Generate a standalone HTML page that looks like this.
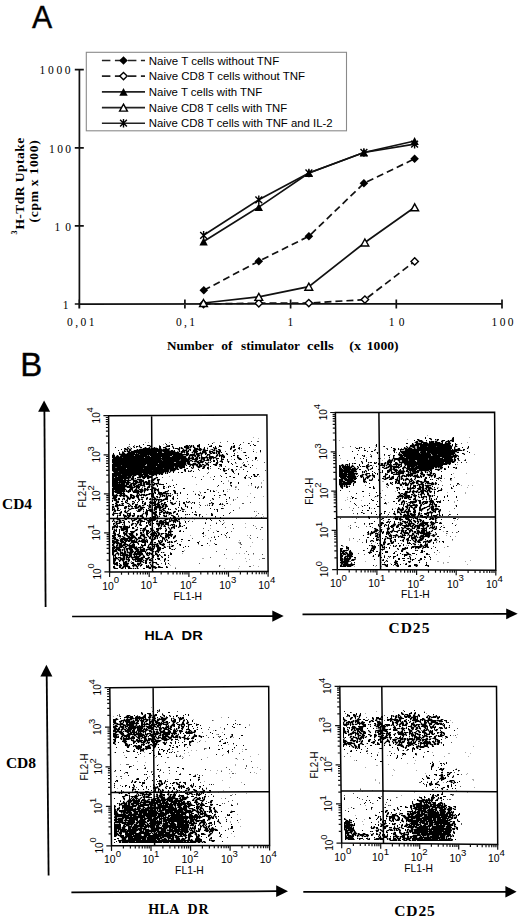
<!DOCTYPE html>
<html><head><meta charset="utf-8"><title>Figure</title>
<style>html,body{margin:0;padding:0;background:#fff;}svg{display:block;}</style></head>
<body><svg width="520" height="917" viewBox="0 0 520 917">
<rect width="520" height="917" fill="#fff"/>
<text x="32.1" y="28.3" font-size="32" font-family="'Liberation Sans', sans-serif" textLength="20.2" lengthAdjust="spacingAndGlyphs" stroke="#111" stroke-width="0.4">A</text>
<text x="20.2" y="376.0" font-size="32.5" font-family="'Liberation Sans', sans-serif" textLength="22.0" lengthAdjust="spacingAndGlyphs" stroke="#111" stroke-width="0.4">B</text>
<path d="M79.4 69.6V308.5M79.4 304.2L502.3 303.6M74.8 69.7H83.8M74.8 147.8H83.8M74.8 225.9H83.8M74.8 304.0H83.8M79.2 299.6V308.5M184.9 299.6V308.5M290.6 299.6V308.5M396.3 299.6V308.5M502.0 299.6V308.5" stroke="#111" stroke-width="1.7" fill="none"/>
<text x="70.6" y="74.0" font-size="11.5" font-family="'Liberation Serif', serif" text-anchor="end" textLength="31.0" lengthAdjust="spacing">1000</text>
<text x="71.0" y="152.8" font-size="11.5" font-family="'Liberation Serif', serif" text-anchor="end" textLength="22.0" lengthAdjust="spacing">100</text>
<text x="71.0" y="230.8" font-size="11.5" font-family="'Liberation Serif', serif" text-anchor="end" textLength="16.5" lengthAdjust="spacing">10</text>
<text x="68.4" y="308.6" font-size="11.5" font-family="'Liberation Serif', serif" text-anchor="end">1</text>
<text x="67.0" y="326.2" font-size="11.5" font-family="'Liberation Serif', serif" textLength="27.5" lengthAdjust="spacing">0,01</text>
<text x="175.9" y="326.2" font-size="11.5" font-family="'Liberation Serif', serif" textLength="19.0" lengthAdjust="spacing">0,1</text>
<text x="290.4" y="326.2" font-size="11.5" font-family="'Liberation Serif', serif" text-anchor="middle">1</text>
<text x="388.8" y="326.0" font-size="11.5" font-family="'Liberation Serif', serif" textLength="15.8" lengthAdjust="spacing">10</text>
<text x="491.5" y="326.0" font-size="11.5" font-family="'Liberation Serif', serif" textLength="22.0" lengthAdjust="spacing">100</text>
<text x="167.0" y="349.8" font-size="13" font-family="'Liberation Serif', serif" font-weight="bold" textLength="46.8" lengthAdjust="spacingAndGlyphs">Number</text>
<text x="221.2" y="349.8" font-size="13" font-family="'Liberation Serif', serif" font-weight="bold" textLength="11.3" lengthAdjust="spacingAndGlyphs">of</text>
<text x="241.0" y="349.8" font-size="13" font-family="'Liberation Serif', serif" font-weight="bold" textLength="59.0" lengthAdjust="spacingAndGlyphs">stimulator</text>
<text x="307.0" y="349.8" font-size="13" font-family="'Liberation Serif', serif" font-weight="bold" textLength="26.8" lengthAdjust="spacingAndGlyphs">cells</text>
<text x="349.2" y="349.8" font-size="13" font-family="'Liberation Serif', serif" font-weight="bold" textLength="11.8" lengthAdjust="spacingAndGlyphs">(x</text>
<text x="366.8" y="349.8" font-size="13" font-family="'Liberation Serif', serif" font-weight="bold" textLength="31.7" lengthAdjust="spacingAndGlyphs">1000)</text>
<text x="0" y="0" transform="translate(24.2 229.6) rotate(-90)" font-size="13.5" font-family="'Liberation Serif', serif" font-weight="bold" textLength="91.8" lengthAdjust="spacing">H-TdR Uptake</text>
<text x="0" y="0" transform="translate(17.0 234.6) rotate(-90)" font-size="8" font-family="'Liberation Serif', serif" font-weight="bold">3</text>
<text x="0" y="0" transform="translate(38.0 222.4) rotate(-90)" font-size="13.5" font-family="'Liberation Serif', serif" font-weight="bold" textLength="82.2" lengthAdjust="spacing">(cpm x 1000)</text>
<rect x="86.3" y="52.3" width="260.2" height="78.5" fill="none" stroke="#8a8a8a" stroke-width="1.1"/>
<path d="M101.9 60.5H145" stroke="#222" stroke-width="1.6" stroke-dasharray="8.5 4.5"/>
<path d="M123.5 56.2L127.8 60.5L123.5 64.8L119.2 60.5Z" fill="#000"/>
<text x="148.8" y="64.6" font-size="11.4" font-family="'Liberation Sans', sans-serif" textLength="130.4" lengthAdjust="spacingAndGlyphs">Naive T cells without TNF</text>
<path d="M101.9 76.1H145" stroke="#222" stroke-width="1.6" stroke-dasharray="8.5 4.5"/>
<path d="M123.5 72.4L127.2 76.1L123.5 79.8L119.8 76.1Z" fill="#fff" stroke="#000" stroke-width="1.4"/>
<text x="148.8" y="80.2" font-size="11.4" font-family="'Liberation Sans', sans-serif" textLength="156.2" lengthAdjust="spacingAndGlyphs">Naive CD8 T cells without TNF</text>
<path d="M101.9 91.9H145" stroke="#222" stroke-width="1.6"/>
<path d="M123.5 88.0L127.7 95.8L119.3 95.8Z" fill="#000"/>
<text x="148.8" y="96.0" font-size="11.4" font-family="'Liberation Sans', sans-serif" textLength="113.5" lengthAdjust="spacingAndGlyphs">Naive T cells with TNF</text>
<path d="M101.9 107.6H145" stroke="#222" stroke-width="1.6"/>
<path d="M123.5 104.1L127.4 111.1L119.6 111.1Z" fill="#fff" stroke="#000" stroke-width="1.4"/>
<text x="148.8" y="111.7" font-size="11.4" font-family="'Liberation Sans', sans-serif" textLength="138.4" lengthAdjust="spacingAndGlyphs">Naive CD8 T cells with TNF</text>
<path d="M101.9 123.2H145" stroke="#222" stroke-width="1.6"/>
<path d="M123.5 118.9V127.5M120.1 119.8L126.9 126.6M126.9 119.8L120.1 126.6" stroke="#000" stroke-width="1.4" fill="none"/>
<text x="148.8" y="127.3" font-size="11.4" font-family="'Liberation Sans', sans-serif" textLength="183.9" lengthAdjust="spacingAndGlyphs">Naive CD8 T cells with TNF and IL-2</text>
<path d="M203.5 304.0L258.8 303.2L308.8 303.1L364.9 299.6L414.7 261.4" stroke="#111" stroke-width="1.7" fill="none" stroke-dasharray="7 4"/>
<path d="M203.8 290.3L258.8 261.2L308.9 236.2L363.9 183.3L414.6 158.8" stroke="#111" stroke-width="1.7" fill="none" stroke-dasharray="7 4"/>
<path d="M203.5 303.0L258.8 296.9L308.8 286.7L364.9 242.5L414.7 207.3" stroke="#111" stroke-width="1.7" fill="none"/>
<path d="M203.6 241.5L258.8 207.1L308.9 173.0L363.9 152.5L414.6 141.0" stroke="#111" stroke-width="1.7" fill="none"/>
<path d="M203.6 235.3L258.8 199.8L308.9 173.0L363.9 152.5L414.6 144.2" stroke="#111" stroke-width="1.7" fill="none"/>
<path d="M203.5 300.3L207.2 304.0L203.5 307.7L199.8 304.0Z" fill="#fff" stroke="#000" stroke-width="1.4"/>
<path d="M258.8 299.5L262.5 303.2L258.8 306.9L255.1 303.2Z" fill="#fff" stroke="#000" stroke-width="1.4"/>
<path d="M308.8 299.4L312.5 303.1L308.8 306.8L305.1 303.1Z" fill="#fff" stroke="#000" stroke-width="1.4"/>
<path d="M364.9 295.9L368.6 299.6L364.9 303.3L361.2 299.6Z" fill="#fff" stroke="#000" stroke-width="1.4"/>
<path d="M414.7 257.7L418.4 261.4L414.7 265.1L411.0 261.4Z" fill="#fff" stroke="#000" stroke-width="1.4"/>
<path d="M203.8 286.0L208.1 290.3L203.8 294.6L199.5 290.3Z" fill="#000"/>
<path d="M258.8 256.9L263.1 261.2L258.8 265.5L254.5 261.2Z" fill="#000"/>
<path d="M308.9 231.9L313.2 236.2L308.9 240.5L304.6 236.2Z" fill="#000"/>
<path d="M363.9 179.0L368.2 183.3L363.9 187.6L359.6 183.3Z" fill="#000"/>
<path d="M414.6 154.5L418.9 158.8L414.6 163.1L410.3 158.8Z" fill="#000"/>
<path d="M203.5 299.5L207.4 306.5L199.6 306.5Z" fill="#fff" stroke="#000" stroke-width="1.4"/>
<path d="M258.8 293.4L262.7 300.4L254.9 300.4Z" fill="#fff" stroke="#000" stroke-width="1.4"/>
<path d="M308.8 283.2L312.7 290.2L304.9 290.2Z" fill="#fff" stroke="#000" stroke-width="1.4"/>
<path d="M364.9 239.0L368.8 246.0L361.0 246.0Z" fill="#fff" stroke="#000" stroke-width="1.4"/>
<path d="M414.7 203.8L418.6 210.8L410.8 210.8Z" fill="#fff" stroke="#000" stroke-width="1.4"/>
<path d="M203.6 237.6L207.8 245.4L199.4 245.4Z" fill="#000"/>
<path d="M258.8 203.2L263.0 211.0L254.6 211.0Z" fill="#000"/>
<path d="M308.9 169.1L313.1 176.9L304.7 176.9Z" fill="#000"/>
<path d="M363.9 148.6L368.1 156.4L359.7 156.4Z" fill="#000"/>
<path d="M414.6 137.1L418.8 144.9L410.4 144.9Z" fill="#000"/>
<path d="M203.6 231.0V239.6M200.2 231.9L207.0 238.7M207.0 231.9L200.2 238.7" stroke="#000" stroke-width="1.4" fill="none"/>
<path d="M258.8 195.5V204.1M255.4 196.4L262.2 203.2M262.2 196.4L255.4 203.2" stroke="#000" stroke-width="1.4" fill="none"/>
<path d="M308.9 168.7V177.3M305.5 169.6L312.3 176.4M312.3 169.6L305.5 176.4" stroke="#000" stroke-width="1.4" fill="none"/>
<path d="M363.9 148.2V156.8M360.5 149.1L367.3 155.9M367.3 149.1L360.5 155.9" stroke="#000" stroke-width="1.4" fill="none"/>
<path d="M414.6 139.9V148.5M411.2 140.8L418.0 147.6M418.0 140.8L411.2 147.6" stroke="#000" stroke-width="1.4" fill="none"/>
<text x="102.2" y="589.5" font-size="10.4" font-family="'Liberation Sans', sans-serif">10</text>
<text x="113.8" y="583.2" font-size="9.6" font-family="'Liberation Sans', sans-serif">0</text>
<text x="140.6" y="589.4" font-size="10.4" font-family="'Liberation Sans', sans-serif">10</text>
<text x="152.2" y="583.1" font-size="9.6" font-family="'Liberation Sans', sans-serif">1</text>
<text x="179.9" y="589.3" font-size="10.4" font-family="'Liberation Sans', sans-serif">10</text>
<text x="191.5" y="583.0" font-size="9.6" font-family="'Liberation Sans', sans-serif">2</text>
<text x="219.3" y="589.2" font-size="10.4" font-family="'Liberation Sans', sans-serif">10</text>
<text x="230.9" y="582.9" font-size="9.6" font-family="'Liberation Sans', sans-serif">3</text>
<text x="258.3" y="589.1" font-size="10.4" font-family="'Liberation Sans', sans-serif">10</text>
<text x="269.9" y="582.8" font-size="9.6" font-family="'Liberation Sans', sans-serif">4</text>
<text x="0" y="0" transform="translate(100.7 579.6) rotate(-90)" font-size="10.0" font-family="'Liberation Sans', sans-serif">10</text>
<text x="0" y="0" transform="translate(94.4 568.6) rotate(-90)" font-size="9.4" font-family="'Liberation Sans', sans-serif">0</text>
<text x="0" y="0" transform="translate(100.4 540.5) rotate(-90)" font-size="10.0" font-family="'Liberation Sans', sans-serif">10</text>
<text x="0" y="0" transform="translate(94.1 529.5) rotate(-90)" font-size="9.4" font-family="'Liberation Sans', sans-serif">1</text>
<text x="0" y="0" transform="translate(100.2 501.5) rotate(-90)" font-size="10.0" font-family="'Liberation Sans', sans-serif">10</text>
<text x="0" y="0" transform="translate(93.9 490.5) rotate(-90)" font-size="9.4" font-family="'Liberation Sans', sans-serif">2</text>
<text x="0" y="0" transform="translate(99.9 462.4) rotate(-90)" font-size="10.0" font-family="'Liberation Sans', sans-serif">10</text>
<text x="0" y="0" transform="translate(93.6 451.4) rotate(-90)" font-size="9.4" font-family="'Liberation Sans', sans-serif">3</text>
<text x="0" y="0" transform="translate(99.7 423.4) rotate(-90)" font-size="10.0" font-family="'Liberation Sans', sans-serif">10</text>
<text x="0" y="0" transform="translate(93.4 412.4) rotate(-90)" font-size="9.4" font-family="'Liberation Sans', sans-serif">4</text>
<text x="0" y="0" transform="translate(85.9 507.4) rotate(-90)" font-size="10.6" font-family="'Liberation Sans', sans-serif" textLength="26.8" lengthAdjust="spacingAndGlyphs">FL2-H</text>
<text x="173.4" y="600.2" font-size="10.5" font-family="'Liberation Sans', sans-serif" textLength="28.7" lengthAdjust="spacingAndGlyphs">FL1-H</text>
<text x="329.9" y="587.2" font-size="10.4" font-family="'Liberation Sans', sans-serif">10</text>
<text x="341.5" y="580.9" font-size="9.6" font-family="'Liberation Sans', sans-serif">0</text>
<text x="368.3" y="587.4" font-size="10.4" font-family="'Liberation Sans', sans-serif">10</text>
<text x="379.9" y="581.1" font-size="9.6" font-family="'Liberation Sans', sans-serif">1</text>
<text x="407.6" y="587.5" font-size="10.4" font-family="'Liberation Sans', sans-serif">10</text>
<text x="419.2" y="581.2" font-size="9.6" font-family="'Liberation Sans', sans-serif">2</text>
<text x="447.0" y="587.7" font-size="10.4" font-family="'Liberation Sans', sans-serif">10</text>
<text x="458.6" y="581.4" font-size="9.6" font-family="'Liberation Sans', sans-serif">3</text>
<text x="486.0" y="587.8" font-size="10.4" font-family="'Liberation Sans', sans-serif">10</text>
<text x="497.6" y="581.5" font-size="9.6" font-family="'Liberation Sans', sans-serif">4</text>
<text x="0" y="0" transform="translate(328.4 577.3) rotate(-90)" font-size="10.0" font-family="'Liberation Sans', sans-serif">10</text>
<text x="0" y="0" transform="translate(322.1 566.3) rotate(-90)" font-size="9.4" font-family="'Liberation Sans', sans-serif">0</text>
<text x="0" y="0" transform="translate(327.9 538) rotate(-90)" font-size="10.0" font-family="'Liberation Sans', sans-serif">10</text>
<text x="0" y="0" transform="translate(321.6 527) rotate(-90)" font-size="9.4" font-family="'Liberation Sans', sans-serif">1</text>
<text x="0" y="0" transform="translate(327.5 498.8) rotate(-90)" font-size="10.0" font-family="'Liberation Sans', sans-serif">10</text>
<text x="0" y="0" transform="translate(321.2 487.8) rotate(-90)" font-size="9.4" font-family="'Liberation Sans', sans-serif">2</text>
<text x="0" y="0" transform="translate(327 459.5) rotate(-90)" font-size="10.0" font-family="'Liberation Sans', sans-serif">10</text>
<text x="0" y="0" transform="translate(320.7 448.5) rotate(-90)" font-size="9.4" font-family="'Liberation Sans', sans-serif">3</text>
<text x="0" y="0" transform="translate(326.5 420.2) rotate(-90)" font-size="10.0" font-family="'Liberation Sans', sans-serif">10</text>
<text x="0" y="0" transform="translate(320.2 409.2) rotate(-90)" font-size="9.4" font-family="'Liberation Sans', sans-serif">4</text>
<text x="0" y="0" transform="translate(313.2 504.7) rotate(-90)" font-size="10.6" font-family="'Liberation Sans', sans-serif" textLength="26.8" lengthAdjust="spacingAndGlyphs">FL2-H</text>
<text x="401.1" y="598.4" font-size="10.5" font-family="'Liberation Sans', sans-serif" textLength="28.7" lengthAdjust="spacingAndGlyphs">FL1-H</text>
<text x="104.1" y="863.4" font-size="10.4" font-family="'Liberation Sans', sans-serif">10</text>
<text x="115.7" y="857.1" font-size="9.6" font-family="'Liberation Sans', sans-serif">0</text>
<text x="142.4" y="863.3" font-size="10.4" font-family="'Liberation Sans', sans-serif">10</text>
<text x="154.0" y="857.0" font-size="9.6" font-family="'Liberation Sans', sans-serif">1</text>
<text x="181.6" y="863.2" font-size="10.4" font-family="'Liberation Sans', sans-serif">10</text>
<text x="193.2" y="856.9" font-size="9.6" font-family="'Liberation Sans', sans-serif">2</text>
<text x="220.9" y="863.1" font-size="10.4" font-family="'Liberation Sans', sans-serif">10</text>
<text x="232.5" y="856.8" font-size="9.6" font-family="'Liberation Sans', sans-serif">3</text>
<text x="259.8" y="863.0" font-size="10.4" font-family="'Liberation Sans', sans-serif">10</text>
<text x="271.4" y="856.7" font-size="9.6" font-family="'Liberation Sans', sans-serif">4</text>
<text x="0" y="0" transform="translate(102.6 853.5) rotate(-90)" font-size="10.0" font-family="'Liberation Sans', sans-serif">10</text>
<text x="0" y="0" transform="translate(96.3 842.5) rotate(-90)" font-size="9.4" font-family="'Liberation Sans', sans-serif">0</text>
<text x="0" y="0" transform="translate(102.2 814) rotate(-90)" font-size="10.0" font-family="'Liberation Sans', sans-serif">10</text>
<text x="0" y="0" transform="translate(95.9 803) rotate(-90)" font-size="9.4" font-family="'Liberation Sans', sans-serif">1</text>
<text x="0" y="0" transform="translate(101.8 774.4) rotate(-90)" font-size="10.0" font-family="'Liberation Sans', sans-serif">10</text>
<text x="0" y="0" transform="translate(95.5 763.4) rotate(-90)" font-size="9.4" font-family="'Liberation Sans', sans-serif">2</text>
<text x="0" y="0" transform="translate(101.3 734.9) rotate(-90)" font-size="10.0" font-family="'Liberation Sans', sans-serif">10</text>
<text x="0" y="0" transform="translate(95 723.9) rotate(-90)" font-size="9.4" font-family="'Liberation Sans', sans-serif">3</text>
<text x="0" y="0" transform="translate(100.9 695.4) rotate(-90)" font-size="10.0" font-family="'Liberation Sans', sans-serif">10</text>
<text x="0" y="0" transform="translate(94.6 684.4) rotate(-90)" font-size="9.4" font-family="'Liberation Sans', sans-serif">4</text>
<text x="0" y="0" transform="translate(87.5 780.4) rotate(-90)" font-size="10.6" font-family="'Liberation Sans', sans-serif" textLength="26.8" lengthAdjust="spacingAndGlyphs">FL2-H</text>
<text x="175.1" y="874.1" font-size="10.5" font-family="'Liberation Sans', sans-serif" textLength="28.7" lengthAdjust="spacingAndGlyphs">FL1-H</text>
<text x="334.3" y="860.7" font-size="10.4" font-family="'Liberation Sans', sans-serif">10</text>
<text x="345.9" y="854.4" font-size="9.6" font-family="'Liberation Sans', sans-serif">0</text>
<text x="372.1" y="861.1" font-size="10.4" font-family="'Liberation Sans', sans-serif">10</text>
<text x="383.7" y="854.8" font-size="9.6" font-family="'Liberation Sans', sans-serif">1</text>
<text x="410.7" y="861.4" font-size="10.4" font-family="'Liberation Sans', sans-serif">10</text>
<text x="422.3" y="855.1" font-size="9.6" font-family="'Liberation Sans', sans-serif">2</text>
<text x="449.5" y="861.8" font-size="10.4" font-family="'Liberation Sans', sans-serif">10</text>
<text x="461.1" y="855.5" font-size="9.6" font-family="'Liberation Sans', sans-serif">3</text>
<text x="487.9" y="862.1" font-size="10.4" font-family="'Liberation Sans', sans-serif">10</text>
<text x="499.5" y="855.8" font-size="9.6" font-family="'Liberation Sans', sans-serif">4</text>
<text x="0" y="0" transform="translate(332.8 850.8) rotate(-90)" font-size="10.0" font-family="'Liberation Sans', sans-serif">10</text>
<text x="0" y="0" transform="translate(326.5 839.8) rotate(-90)" font-size="9.4" font-family="'Liberation Sans', sans-serif">0</text>
<text x="0" y="0" transform="translate(332.3 811.6) rotate(-90)" font-size="10.0" font-family="'Liberation Sans', sans-serif">10</text>
<text x="0" y="0" transform="translate(326 800.6) rotate(-90)" font-size="9.4" font-family="'Liberation Sans', sans-serif">1</text>
<text x="0" y="0" transform="translate(331.9 772.4) rotate(-90)" font-size="10.0" font-family="'Liberation Sans', sans-serif">10</text>
<text x="0" y="0" transform="translate(325.6 761.4) rotate(-90)" font-size="9.4" font-family="'Liberation Sans', sans-serif">2</text>
<text x="0" y="0" transform="translate(331.4 733.3) rotate(-90)" font-size="10.0" font-family="'Liberation Sans', sans-serif">10</text>
<text x="0" y="0" transform="translate(325.1 722.3) rotate(-90)" font-size="9.4" font-family="'Liberation Sans', sans-serif">3</text>
<text x="0" y="0" transform="translate(330.9 694.1) rotate(-90)" font-size="10.0" font-family="'Liberation Sans', sans-serif">10</text>
<text x="0" y="0" transform="translate(324.6 683.1) rotate(-90)" font-size="9.4" font-family="'Liberation Sans', sans-serif">4</text>
<text x="0" y="0" transform="translate(317.6 778.4) rotate(-90)" font-size="10.6" font-family="'Liberation Sans', sans-serif" textLength="26.8" lengthAdjust="spacingAndGlyphs">FL2-H</text>
<text x="404.2" y="872.3" font-size="10.5" font-family="'Liberation Sans', sans-serif" textLength="28.7" lengthAdjust="spacingAndGlyphs">FL1-H</text>
<path d="M44.4 410.8L45.6 607" stroke="#000" stroke-width="1.8"/>
<path d="M44.1 400.5L50.1 411.8L38.1 411.8Z" fill="#000"/>
<path d="M46.7 675.4L48.6 875.5" stroke="#000" stroke-width="1.8"/>
<path d="M46.4 664.8L52.4 676.4L40.4 676.4Z" fill="#000"/>
<path d="M72.1 616.5L273.3 616.1" stroke="#000" stroke-width="1.7"/>
<path d="M283.7 616.1L272.3 610.5L272.3 621.7Z" fill="#000"/>
<path d="M302.5 614.4L507.2 613.8" stroke="#000" stroke-width="1.7"/>
<path d="M517.7 613.8L506.2 608.4L506.2 619.2Z" fill="#000"/>
<path d="M71.4 892.4L277.2 891.2" stroke="#000" stroke-width="1.7"/>
<path d="M288 891.2L276.2 885.3L276.2 897.1Z" fill="#000"/>
<path d="M303.3 891.8L506.4 891.8" stroke="#000" stroke-width="1.7"/>
<path d="M516.6 891.8L505.4 886L505.4 897.6Z" fill="#000"/>
<text x="2.0" y="508.7" font-size="15.5" font-family="'Liberation Serif', serif" font-weight="bold" textLength="30.0" lengthAdjust="spacingAndGlyphs">CD4</text>
<text x="5.9" y="767.9" font-size="15.5" font-family="'Liberation Serif', serif" font-weight="bold" textLength="30.2" lengthAdjust="spacingAndGlyphs">CD8</text>
<text x="144.6" y="640.0" font-size="13.2" font-family="'Liberation Sans', sans-serif" font-weight="bold" textLength="29.0" lengthAdjust="spacingAndGlyphs">HLA</text>
<text x="181.6" y="640.0" font-size="13.2" font-family="'Liberation Sans', sans-serif" font-weight="bold" textLength="21.2" lengthAdjust="spacingAndGlyphs">DR</text>
<text x="388.4" y="632.6" font-size="15.5" font-family="'Liberation Serif', serif" font-weight="bold" textLength="41.0" lengthAdjust="spacing">CD25</text>
<text x="148.2" y="913.8" font-size="14" font-family="'Liberation Serif', serif" font-weight="bold" textLength="31.2" lengthAdjust="spacing">HLA</text>
<text x="187.4" y="913.8" font-size="14" font-family="'Liberation Serif', serif" font-weight="bold" textLength="21.3" lengthAdjust="spacing">DR</text>
<text x="394.2" y="915.8" font-size="15.5" font-family="'Liberation Serif', serif" font-weight="bold" textLength="40.6" lengthAdjust="spacing">CD25</text>
<path d="M425 437h1v1h-1zM453 437h1v1h-1zM425 438h1v1h-1zM429 438h2v1h-2zM452 438h2v1h-2zM417 439h2v1h-2zM431 439h1v1h-1zM435 439h1v1h-1zM437 439h2v1h-2zM452 439h2v1h-2zM414 440h1v1h-1zM418 440h4v1h-4zM426 440h1v1h-1zM437 440h1v1h-1zM442 440h3v1h-3zM448 440h1v1h-1zM450 440h4v1h-4zM416 441h2v1h-2zM419 441h4v1h-4zM429 441h1v1h-1zM431 441h3v1h-3zM435 441h2v1h-2zM441 441h2v1h-2zM446 441h4v1h-4zM452 441h2v1h-2zM151 442h1v1h-1zM415 442h3v1h-3zM421 442h6v1h-6zM429 442h5v1h-5zM435 442h5v1h-5zM442 442h1v1h-1zM445 442h1v1h-1zM448 442h2v1h-2zM212 443h1v1h-1zM233 443h1v1h-1zM248 443h1v1h-1zM406 443h2v1h-2zM412 443h1v1h-1zM416 443h6v1h-6zM423 443h5v1h-5zM429 443h14v1h-14zM445 443h6v1h-6zM455 443h1v1h-1zM143 444h1v1h-1zM166 444h1v1h-1zM171 444h2v1h-2zM199 444h1v1h-1zM208 444h1v1h-1zM240 444h1v1h-1zM253 444h1v1h-1zM376 444h1v1h-1zM412 444h2v1h-2zM415 444h35v1h-35zM452 444h1v1h-1zM455 444h2v1h-2zM139 445h1v1h-1zM147 445h3v1h-3zM151 445h1v1h-1zM169 445h1v1h-1zM186 445h2v1h-2zM189 445h1v1h-1zM191 445h1v1h-1zM193 445h1v1h-1zM197 445h3v1h-3zM211 445h1v1h-1zM219 445h1v1h-1zM234 445h1v1h-1zM250 445h1v1h-1zM254 445h2v1h-2zM376 445h1v1h-1zM410 445h9v1h-9zM420 445h31v1h-31zM452 445h1v1h-1zM455 445h1v1h-1zM133 446h1v1h-1zM136 446h2v1h-2zM139 446h1v1h-1zM150 446h2v1h-2zM159 446h2v1h-2zM166 446h4v1h-4zM172 446h1v1h-1zM184 446h5v1h-5zM190 446h2v1h-2zM193 446h1v1h-1zM197 446h3v1h-3zM209 446h3v1h-3zM215 446h1v1h-1zM219 446h3v1h-3zM231 446h1v1h-1zM233 446h2v1h-2zM376 446h1v1h-1zM384 446h1v1h-1zM406 446h1v1h-1zM410 446h5v1h-5zM417 446h2v1h-2zM420 446h7v1h-7zM428 446h8v1h-8zM437 446h15v1h-15zM455 446h2v1h-2zM468 446h1v1h-1zM115 447h1v1h-1zM127 447h1v1h-1zM134 447h1v1h-1zM140 447h2v1h-2zM145 447h1v1h-1zM149 447h1v1h-1zM154 447h1v1h-1zM159 447h2v1h-2zM163 447h3v1h-3zM173 447h1v1h-1zM179 447h1v1h-1zM181 447h1v1h-1zM184 447h5v1h-5zM190 447h1v1h-1zM193 447h2v1h-2zM199 447h1v1h-1zM204 447h1v1h-1zM213 447h1v1h-1zM215 447h1v1h-1zM231 447h1v1h-1zM233 447h2v1h-2zM239 447h1v1h-1zM359 447h1v1h-1zM361 447h1v1h-1zM369 447h1v1h-1zM391 447h1v1h-1zM404 447h1v1h-1zM407 447h1v1h-1zM409 447h1v1h-1zM413 447h2v1h-2zM417 447h35v1h-35zM454 447h1v1h-1zM462 447h1v1h-1zM468 447h1v1h-1zM124 448h2v1h-2zM128 448h1v1h-1zM131 448h1v1h-1zM143 448h7v1h-7zM151 448h7v1h-7zM159 448h2v1h-2zM165 448h2v1h-2zM169 448h1v1h-1zM173 448h1v1h-1zM175 448h3v1h-3zM179 448h1v1h-1zM181 448h2v1h-2zM186 448h3v1h-3zM194 448h4v1h-4zM199 448h2v1h-2zM204 448h1v1h-1zM207 448h1v1h-1zM214 448h3v1h-3zM230 448h2v1h-2zM238 448h2v1h-2zM356 448h2v1h-2zM359 448h1v1h-1zM364 448h1v1h-1zM393 448h2v1h-2zM398 448h1v1h-1zM404 448h3v1h-3zM408 448h4v1h-4zM414 448h1v1h-1zM417 448h35v1h-35zM454 448h1v1h-1zM458 448h2v1h-2zM467 448h1v1h-1zM121 449h1v1h-1zM125 449h3v1h-3zM129 449h2v1h-2zM137 449h1v1h-1zM139 449h23v1h-23zM163 449h6v1h-6zM178 449h2v1h-2zM183 449h1v1h-1zM186 449h1v1h-1zM189 449h2v1h-2zM194 449h8v1h-8zM203 449h2v1h-2zM212 449h1v1h-1zM214 449h1v1h-1zM218 449h2v1h-2zM230 449h1v1h-1zM235 449h1v1h-1zM375 449h1v1h-1zM387 449h1v1h-1zM394 449h2v1h-2zM398 449h1v1h-1zM400 449h4v1h-4zM405 449h46v1h-46zM452 449h1v1h-1zM454 449h6v1h-6zM463 449h2v1h-2zM118 450h1v1h-1zM124 450h1v1h-1zM127 450h1v1h-1zM129 450h2v1h-2zM134 450h35v1h-35zM171 450h2v1h-2zM174 450h1v1h-1zM179 450h1v1h-1zM182 450h5v1h-5zM188 450h1v1h-1zM190 450h1v1h-1zM193 450h4v1h-4zM199 450h2v1h-2zM203 450h5v1h-5zM213 450h2v1h-2zM216 450h1v1h-1zM219 450h2v1h-2zM233 450h2v1h-2zM260 450h1v1h-1zM358 450h1v1h-1zM364 450h2v1h-2zM374 450h1v1h-1zM393 450h2v1h-2zM400 450h1v1h-1zM405 450h57v1h-57zM463 450h1v1h-1zM124 451h2v1h-2zM127 451h3v1h-3zM131 451h31v1h-31zM163 451h12v1h-12zM179 451h1v1h-1zM181 451h4v1h-4zM186 451h3v1h-3zM193 451h5v1h-5zM202 451h4v1h-4zM209 451h4v1h-4zM216 451h5v1h-5zM233 451h1v1h-1zM253 451h1v1h-1zM260 451h1v1h-1zM352 451h1v1h-1zM367 451h1v1h-1zM371 451h2v1h-2zM394 451h1v1h-1zM400 451h19v1h-19zM421 451h5v1h-5zM427 451h30v1h-30zM467 451h1v1h-1zM119 452h1v1h-1zM122 452h2v1h-2zM128 452h29v1h-29zM158 452h4v1h-4zM164 452h15v1h-15zM181 452h2v1h-2zM184 452h1v1h-1zM186 452h2v1h-2zM192 452h1v1h-1zM194 452h3v1h-3zM200 452h1v1h-1zM202 452h4v1h-4zM209 452h2v1h-2zM212 452h3v1h-3zM216 452h1v1h-1zM218 452h2v1h-2zM221 452h1v1h-1zM244 452h2v1h-2zM377 452h1v1h-1zM394 452h1v1h-1zM399 452h1v1h-1zM401 452h18v1h-18zM420 452h6v1h-6zM427 452h28v1h-28zM457 452h2v1h-2zM469 452h1v1h-1zM113 453h1v1h-1zM119 453h1v1h-1zM122 453h3v1h-3zM127 453h8v1h-8zM136 453h1v1h-1zM138 453h44v1h-44zM186 453h3v1h-3zM194 453h1v1h-1zM196 453h7v1h-7zM205 453h2v1h-2zM210 453h2v1h-2zM213 453h2v1h-2zM216 453h1v1h-1zM218 453h2v1h-2zM226 453h1v1h-1zM234 453h1v1h-1zM377 453h1v1h-1zM399 453h1v1h-1zM402 453h18v1h-18zM421 453h9v1h-9zM431 453h24v1h-24zM462 453h2v1h-2zM113 454h1v1h-1zM119 454h20v1h-20zM140 454h49v1h-49zM190 454h5v1h-5zM196 454h3v1h-3zM201 454h1v1h-1zM205 454h1v1h-1zM207 454h3v1h-3zM217 454h1v1h-1zM219 454h1v1h-1zM222 454h1v1h-1zM227 454h1v1h-1zM357 454h1v1h-1zM384 454h1v1h-1zM398 454h4v1h-4zM403 454h28v1h-28zM432 454h5v1h-5zM438 454h16v1h-16zM455 454h1v1h-1zM464 454h1v1h-1zM112 455h3v1h-3zM117 455h1v1h-1zM121 455h13v1h-13zM135 455h12v1h-12zM148 455h1v1h-1zM150 455h22v1h-22zM173 455h10v1h-10zM186 455h2v1h-2zM189 455h7v1h-7zM197 455h3v1h-3zM201 455h1v1h-1zM207 455h1v1h-1zM209 455h1v1h-1zM216 455h2v1h-2zM219 455h5v1h-5zM233 455h2v1h-2zM237 455h1v1h-1zM245 455h1v1h-1zM339 455h1v1h-1zM362 455h1v1h-1zM364 455h1v1h-1zM388 455h2v1h-2zM393 455h2v1h-2zM399 455h32v1h-32zM433 455h18v1h-18zM453 455h5v1h-5zM112 456h3v1h-3zM116 456h3v1h-3zM120 456h30v1h-30zM151 456h19v1h-19zM172 456h14v1h-14zM189 456h1v1h-1zM192 456h1v1h-1zM195 456h1v1h-1zM197 456h2v1h-2zM201 456h1v1h-1zM206 456h1v1h-1zM209 456h4v1h-4zM216 456h1v1h-1zM219 456h1v1h-1zM221 456h4v1h-4zM231 456h1v1h-1zM237 456h1v1h-1zM364 456h1v1h-1zM371 456h1v1h-1zM393 456h1v1h-1zM400 456h3v1h-3zM404 456h53v1h-53zM458 456h1v1h-1zM112 457h10v1h-10zM123 457h21v1h-21zM145 457h16v1h-16zM162 457h24v1h-24zM188 457h2v1h-2zM192 457h2v1h-2zM196 457h2v1h-2zM199 457h1v1h-1zM201 457h7v1h-7zM209 457h7v1h-7zM221 457h1v1h-1zM223 457h2v1h-2zM237 457h2v1h-2zM248 457h1v1h-1zM255 457h2v1h-2zM354 457h1v1h-1zM389 457h1v1h-1zM393 457h1v1h-1zM399 457h5v1h-5zM406 457h34v1h-34zM442 457h11v1h-11zM454 457h2v1h-2zM113 458h74v1h-74zM188 458h6v1h-6zM195 458h3v1h-3zM199 458h1v1h-1zM201 458h4v1h-4zM207 458h1v1h-1zM209 458h3v1h-3zM213 458h1v1h-1zM216 458h3v1h-3zM221 458h1v1h-1zM238 458h3v1h-3zM246 458h1v1h-1zM255 458h2v1h-2zM354 458h1v1h-1zM363 458h1v1h-1zM378 458h1v1h-1zM393 458h35v1h-35zM429 458h14v1h-14zM444 458h8v1h-8zM454 458h1v1h-1zM457 458h2v1h-2zM112 459h49v1h-49zM162 459h18v1h-18zM181 459h9v1h-9zM192 459h6v1h-6zM201 459h1v1h-1zM203 459h2v1h-2zM207 459h2v1h-2zM210 459h1v1h-1zM216 459h1v1h-1zM221 459h3v1h-3zM227 459h1v1h-1zM234 459h1v1h-1zM239 459h3v1h-3zM255 459h1v1h-1zM366 459h1v1h-1zM389 459h1v1h-1zM392 459h1v1h-1zM394 459h14v1h-14zM409 459h19v1h-19zM429 459h24v1h-24zM454 459h2v1h-2zM458 459h1v1h-1zM112 460h50v1h-50zM163 460h16v1h-16zM181 460h8v1h-8zM190 460h2v1h-2zM195 460h2v1h-2zM199 460h3v1h-3zM204 460h1v1h-1zM206 460h3v1h-3zM210 460h1v1h-1zM213 460h2v1h-2zM217 460h1v1h-1zM221 460h1v1h-1zM366 460h1v1h-1zM388 460h5v1h-5zM394 460h1v1h-1zM398 460h2v1h-2zM402 460h6v1h-6zM409 460h6v1h-6zM417 460h36v1h-36zM454 460h2v1h-2zM465 460h1v1h-1zM112 461h78v1h-78zM192 461h1v1h-1zM194 461h5v1h-5zM200 461h4v1h-4zM213 461h2v1h-2zM217 461h1v1h-1zM220 461h3v1h-3zM228 461h1v1h-1zM361 461h1v1h-1zM366 461h1v1h-1zM387 461h5v1h-5zM394 461h1v1h-1zM399 461h1v1h-1zM402 461h14v1h-14zM417 461h38v1h-38zM112 462h62v1h-62zM176 462h10v1h-10zM187 462h3v1h-3zM197 462h6v1h-6zM205 462h1v1h-1zM208 462h1v1h-1zM210 462h1v1h-1zM216 462h2v1h-2zM222 462h1v1h-1zM228 462h1v1h-1zM235 462h1v1h-1zM362 462h1v1h-1zM368 462h1v1h-1zM370 462h2v1h-2zM374 462h1v1h-1zM376 462h1v1h-1zM385 462h1v1h-1zM387 462h5v1h-5zM395 462h2v1h-2zM399 462h45v1h-45zM445 462h6v1h-6zM452 462h2v1h-2zM461 462h1v1h-1zM113 463h45v1h-45zM159 463h27v1h-27zM187 463h3v1h-3zM193 463h3v1h-3zM198 463h2v1h-2zM206 463h2v1h-2zM216 463h2v1h-2zM231 463h1v1h-1zM349 463h1v1h-1zM352 463h1v1h-1zM354 463h2v1h-2zM362 463h1v1h-1zM374 463h2v1h-2zM378 463h2v1h-2zM381 463h2v1h-2zM384 463h2v1h-2zM387 463h2v1h-2zM390 463h1v1h-1zM395 463h3v1h-3zM401 463h1v1h-1zM404 463h47v1h-47zM112 464h34v1h-34zM147 464h39v1h-39zM188 464h10v1h-10zM199 464h2v1h-2zM202 464h2v1h-2zM206 464h3v1h-3zM213 464h4v1h-4zM219 464h3v1h-3zM232 464h1v1h-1zM244 464h1v1h-1zM342 464h1v1h-1zM346 464h2v1h-2zM349 464h1v1h-1zM359 464h1v1h-1zM368 464h1v1h-1zM378 464h1v1h-1zM381 464h2v1h-2zM384 464h1v1h-1zM387 464h4v1h-4zM393 464h9v1h-9zM405 464h42v1h-42zM449 464h1v1h-1zM455 464h1v1h-1zM112 465h9v1h-9zM122 465h23v1h-23zM147 465h38v1h-38zM186 465h1v1h-1zM190 465h1v1h-1zM192 465h2v1h-2zM196 465h2v1h-2zM199 465h3v1h-3zM204 465h2v1h-2zM208 465h1v1h-1zM215 465h2v1h-2zM220 465h2v1h-2zM243 465h2v1h-2zM252 465h1v1h-1zM339 465h1v1h-1zM341 465h3v1h-3zM345 465h1v1h-1zM347 465h1v1h-1zM349 465h1v1h-1zM352 465h1v1h-1zM359 465h1v1h-1zM366 465h2v1h-2zM370 465h2v1h-2zM380 465h5v1h-5zM386 465h1v1h-1zM389 465h3v1h-3zM396 465h1v1h-1zM398 465h2v1h-2zM401 465h1v1h-1zM405 465h1v1h-1zM407 465h10v1h-10zM418 465h25v1h-25zM112 466h44v1h-44zM157 466h17v1h-17zM175 466h10v1h-10zM189 466h1v1h-1zM193 466h1v1h-1zM197 466h5v1h-5zM203 466h2v1h-2zM210 466h1v1h-1zM221 466h1v1h-1zM236 466h2v1h-2zM245 466h2v1h-2zM339 466h2v1h-2zM342 466h8v1h-8zM351 466h3v1h-3zM357 466h1v1h-1zM360 466h1v1h-1zM362 466h3v1h-3zM366 466h3v1h-3zM376 466h1v1h-1zM384 466h1v1h-1zM388 466h11v1h-11zM400 466h2v1h-2zM404 466h1v1h-1zM407 466h8v1h-8zM416 466h26v1h-26zM448 466h1v1h-1zM112 467h3v1h-3zM117 467h57v1h-57zM175 467h3v1h-3zM179 467h6v1h-6zM191 467h1v1h-1zM193 467h1v1h-1zM198 467h2v1h-2zM203 467h2v1h-2zM207 467h2v1h-2zM250 467h1v1h-1zM339 467h2v1h-2zM342 467h10v1h-10zM354 467h1v1h-1zM358 467h1v1h-1zM366 467h2v1h-2zM372 467h1v1h-1zM382 467h2v1h-2zM386 467h3v1h-3zM390 467h2v1h-2zM393 467h7v1h-7zM403 467h3v1h-3zM407 467h3v1h-3zM411 467h3v1h-3zM415 467h19v1h-19zM435 467h2v1h-2zM438 467h1v1h-1zM440 467h3v1h-3zM448 467h1v1h-1zM453 467h2v1h-2zM456 467h1v1h-1zM112 468h14v1h-14zM127 468h16v1h-16zM144 468h19v1h-19zM164 468h14v1h-14zM180 468h2v1h-2zM187 468h1v1h-1zM192 468h1v1h-1zM202 468h2v1h-2zM207 468h2v1h-2zM218 468h1v1h-1zM223 468h2v1h-2zM339 468h3v1h-3zM343 468h8v1h-8zM352 468h4v1h-4zM357 468h1v1h-1zM367 468h1v1h-1zM371 468h2v1h-2zM384 468h3v1h-3zM390 468h2v1h-2zM393 468h2v1h-2zM402 468h2v1h-2zM406 468h28v1h-28zM440 468h2v1h-2zM444 468h1v1h-1zM456 468h1v1h-1zM112 469h57v1h-57zM170 469h6v1h-6zM177 469h2v1h-2zM184 469h2v1h-2zM198 469h1v1h-1zM220 469h1v1h-1zM223 469h1v1h-1zM228 469h1v1h-1zM231 469h2v1h-2zM236 469h1v1h-1zM243 469h1v1h-1zM339 469h4v1h-4zM344 469h13v1h-13zM359 469h2v1h-2zM368 469h1v1h-1zM370 469h1v1h-1zM378 469h1v1h-1zM389 469h3v1h-3zM393 469h4v1h-4zM400 469h1v1h-1zM403 469h1v1h-1zM407 469h10v1h-10zM419 469h13v1h-13zM435 469h5v1h-5zM444 469h2v1h-2zM112 470h40v1h-40zM153 470h16v1h-16zM170 470h5v1h-5zM184 470h2v1h-2zM191 470h1v1h-1zM223 470h2v1h-2zM226 470h1v1h-1zM232 470h1v1h-1zM339 470h11v1h-11zM351 470h5v1h-5zM365 470h1v1h-1zM368 470h1v1h-1zM382 470h1v1h-1zM387 470h5v1h-5zM394 470h4v1h-4zM399 470h2v1h-2zM403 470h1v1h-1zM406 470h2v1h-2zM409 470h7v1h-7zM417 470h12v1h-12zM430 470h2v1h-2zM438 470h1v1h-1zM113 471h5v1h-5zM119 471h50v1h-50zM170 471h1v1h-1zM173 471h1v1h-1zM185 471h1v1h-1zM188 471h1v1h-1zM190 471h1v1h-1zM193 471h1v1h-1zM224 471h1v1h-1zM232 471h2v1h-2zM247 471h1v1h-1zM339 471h18v1h-18zM362 471h1v1h-1zM364 471h1v1h-1zM366 471h1v1h-1zM372 471h1v1h-1zM382 471h1v1h-1zM387 471h3v1h-3zM391 471h1v1h-1zM395 471h2v1h-2zM398 471h7v1h-7zM406 471h3v1h-3zM410 471h1v1h-1zM412 471h7v1h-7zM421 471h1v1h-1zM425 471h1v1h-1zM429 471h1v1h-1zM431 471h1v1h-1zM441 471h1v1h-1zM114 472h50v1h-50zM165 472h1v1h-1zM167 472h1v1h-1zM169 472h1v1h-1zM173 472h1v1h-1zM178 472h1v1h-1zM181 472h2v1h-2zM233 472h1v1h-1zM339 472h4v1h-4zM344 472h10v1h-10zM362 472h1v1h-1zM364 472h1v1h-1zM374 472h1v1h-1zM380 472h1v1h-1zM382 472h1v1h-1zM387 472h2v1h-2zM391 472h4v1h-4zM396 472h8v1h-8zM408 472h1v1h-1zM410 472h1v1h-1zM413 472h6v1h-6zM421 472h2v1h-2zM425 472h1v1h-1zM427 472h1v1h-1zM430 472h2v1h-2zM112 473h30v1h-30zM143 473h20v1h-20zM165 473h1v1h-1zM167 473h1v1h-1zM225 473h2v1h-2zM238 473h1v1h-1zM339 473h8v1h-8zM348 473h10v1h-10zM366 473h4v1h-4zM372 473h1v1h-1zM375 473h1v1h-1zM377 473h1v1h-1zM385 473h1v1h-1zM391 473h2v1h-2zM396 473h1v1h-1zM398 473h6v1h-6zM408 473h1v1h-1zM410 473h6v1h-6zM420 473h3v1h-3zM430 473h2v1h-2zM433 473h2v1h-2zM112 474h9v1h-9zM122 474h26v1h-26zM149 474h8v1h-8zM159 474h1v1h-1zM161 474h2v1h-2zM238 474h1v1h-1zM253 474h2v1h-2zM257 474h2v1h-2zM339 474h16v1h-16zM356 474h1v1h-1zM362 474h2v1h-2zM365 474h2v1h-2zM372 474h1v1h-1zM377 474h1v1h-1zM385 474h3v1h-3zM393 474h7v1h-7zM406 474h7v1h-7zM417 474h1v1h-1zM421 474h4v1h-4zM427 474h4v1h-4zM433 474h1v1h-1zM435 474h1v1h-1zM451 474h1v1h-1zM112 475h20v1h-20zM133 475h3v1h-3zM139 475h4v1h-4zM144 475h5v1h-5zM152 475h2v1h-2zM156 475h1v1h-1zM246 475h1v1h-1zM254 475h1v1h-1zM339 475h8v1h-8zM348 475h7v1h-7zM360 475h3v1h-3zM366 475h1v1h-1zM369 475h2v1h-2zM372 475h3v1h-3zM385 475h1v1h-1zM389 475h1v1h-1zM399 475h1v1h-1zM402 475h3v1h-3zM406 475h7v1h-7zM414 475h4v1h-4zM420 475h1v1h-1zM423 475h2v1h-2zM428 475h5v1h-5zM434 475h2v1h-2zM441 475h1v1h-1zM112 476h5v1h-5zM118 476h9v1h-9zM128 476h3v1h-3zM132 476h2v1h-2zM139 476h13v1h-13zM214 476h1v1h-1zM221 476h1v1h-1zM230 476h1v1h-1zM251 476h1v1h-1zM254 476h3v1h-3zM339 476h17v1h-17zM357 476h1v1h-1zM360 476h3v1h-3zM367 476h3v1h-3zM373 476h2v1h-2zM383 476h3v1h-3zM389 476h1v1h-1zM392 476h2v1h-2zM398 476h2v1h-2zM401 476h2v1h-2zM404 476h3v1h-3zM408 476h1v1h-1zM410 476h1v1h-1zM413 476h6v1h-6zM420 476h2v1h-2zM423 476h1v1h-1zM431 476h1v1h-1zM434 476h2v1h-2zM441 476h1v1h-1zM112 477h2v1h-2zM115 477h16v1h-16zM132 477h2v1h-2zM137 477h4v1h-4zM142 477h4v1h-4zM147 477h5v1h-5zM156 477h2v1h-2zM226 477h1v1h-1zM233 477h2v1h-2zM244 477h2v1h-2zM340 477h6v1h-6zM347 477h9v1h-9zM361 477h1v1h-1zM363 477h1v1h-1zM366 477h3v1h-3zM374 477h1v1h-1zM385 477h1v1h-1zM387 477h3v1h-3zM391 477h3v1h-3zM397 477h1v1h-1zM399 477h1v1h-1zM401 477h1v1h-1zM415 477h1v1h-1zM417 477h3v1h-3zM421 477h1v1h-1zM425 477h2v1h-2zM429 477h1v1h-1zM434 477h1v1h-1zM439 477h1v1h-1zM112 478h17v1h-17zM131 478h3v1h-3zM135 478h1v1h-1zM143 478h2v1h-2zM147 478h2v1h-2zM154 478h2v1h-2zM245 478h1v1h-1zM250 478h1v1h-1zM341 478h6v1h-6zM348 478h9v1h-9zM363 478h1v1h-1zM365 478h1v1h-1zM367 478h1v1h-1zM372 478h1v1h-1zM382 478h2v1h-2zM385 478h3v1h-3zM390 478h4v1h-4zM397 478h1v1h-1zM399 478h1v1h-1zM401 478h2v1h-2zM406 478h2v1h-2zM411 478h1v1h-1zM415 478h1v1h-1zM425 478h2v1h-2zM437 478h2v1h-2zM440 478h2v1h-2zM450 478h2v1h-2zM112 479h11v1h-11zM124 479h2v1h-2zM128 479h1v1h-1zM131 479h3v1h-3zM137 479h5v1h-5zM152 479h3v1h-3zM157 479h3v1h-3zM201 479h1v1h-1zM213 479h1v1h-1zM339 479h4v1h-4zM344 479h9v1h-9zM354 479h2v1h-2zM363 479h3v1h-3zM372 479h1v1h-1zM384 479h2v1h-2zM389 479h3v1h-3zM395 479h3v1h-3zM399 479h1v1h-1zM401 479h1v1h-1zM403 479h1v1h-1zM405 479h4v1h-4zM410 479h2v1h-2zM414 479h1v1h-1zM424 479h2v1h-2zM430 479h1v1h-1zM432 479h1v1h-1zM450 479h1v1h-1zM112 480h19v1h-19zM133 480h4v1h-4zM139 480h5v1h-5zM148 480h2v1h-2zM151 480h3v1h-3zM157 480h2v1h-2zM339 480h4v1h-4zM345 480h9v1h-9zM363 480h2v1h-2zM369 480h3v1h-3zM378 480h1v1h-1zM396 480h4v1h-4zM403 480h1v1h-1zM405 480h1v1h-1zM409 480h1v1h-1zM411 480h2v1h-2zM417 480h2v1h-2zM424 480h2v1h-2zM436 480h1v1h-1zM112 481h6v1h-6zM119 481h7v1h-7zM127 481h2v1h-2zM133 481h5v1h-5zM139 481h5v1h-5zM145 481h2v1h-2zM148 481h2v1h-2zM151 481h2v1h-2zM158 481h1v1h-1zM221 481h1v1h-1zM339 481h6v1h-6zM347 481h9v1h-9zM363 481h3v1h-3zM395 481h2v1h-2zM398 481h2v1h-2zM409 481h3v1h-3zM413 481h1v1h-1zM416 481h6v1h-6zM424 481h5v1h-5zM112 482h18v1h-18zM133 482h1v1h-1zM135 482h7v1h-7zM143 482h7v1h-7zM151 482h1v1h-1zM153 482h1v1h-1zM158 482h1v1h-1zM230 482h2v1h-2zM238 482h1v1h-1zM339 482h3v1h-3zM343 482h9v1h-9zM354 482h2v1h-2zM364 482h1v1h-1zM366 482h1v1h-1zM390 482h1v1h-1zM392 482h1v1h-1zM395 482h2v1h-2zM398 482h2v1h-2zM402 482h1v1h-1zM405 482h1v1h-1zM409 482h1v1h-1zM412 482h3v1h-3zM416 482h2v1h-2zM421 482h3v1h-3zM426 482h3v1h-3zM432 482h1v1h-1zM435 482h1v1h-1zM112 483h6v1h-6zM119 483h1v1h-1zM121 483h4v1h-4zM126 483h3v1h-3zM131 483h6v1h-6zM140 483h2v1h-2zM143 483h2v1h-2zM146 483h4v1h-4zM154 483h5v1h-5zM166 483h1v1h-1zM230 483h1v1h-1zM238 483h1v1h-1zM251 483h1v1h-1zM339 483h12v1h-12zM353 483h1v1h-1zM369 483h1v1h-1zM387 483h1v1h-1zM390 483h2v1h-2zM395 483h1v1h-1zM397 483h3v1h-3zM402 483h5v1h-5zM408 483h1v1h-1zM410 483h4v1h-4zM416 483h2v1h-2zM421 483h2v1h-2zM425 483h1v1h-1zM427 483h7v1h-7zM435 483h2v1h-2zM457 483h2v1h-2zM112 484h13v1h-13zM126 484h3v1h-3zM130 484h2v1h-2zM133 484h3v1h-3zM138 484h4v1h-4zM143 484h2v1h-2zM146 484h5v1h-5zM152 484h3v1h-3zM156 484h1v1h-1zM159 484h5v1h-5zM176 484h1v1h-1zM339 484h12v1h-12zM353 484h1v1h-1zM386 484h2v1h-2zM392 484h1v1h-1zM400 484h2v1h-2zM403 484h1v1h-1zM405 484h4v1h-4zM411 484h1v1h-1zM418 484h6v1h-6zM431 484h3v1h-3zM435 484h1v1h-1zM438 484h1v1h-1zM112 485h15v1h-15zM129 485h3v1h-3zM133 485h2v1h-2zM136 485h3v1h-3zM140 485h5v1h-5zM149 485h1v1h-1zM153 485h1v1h-1zM157 485h1v1h-1zM173 485h1v1h-1zM218 485h1v1h-1zM231 485h1v1h-1zM340 485h3v1h-3zM344 485h1v1h-1zM346 485h1v1h-1zM353 485h1v1h-1zM388 485h1v1h-1zM400 485h2v1h-2zM405 485h3v1h-3zM410 485h1v1h-1zM413 485h3v1h-3zM417 485h1v1h-1zM419 485h1v1h-1zM422 485h2v1h-2zM425 485h6v1h-6zM456 485h1v1h-1zM112 486h20v1h-20zM134 486h6v1h-6zM144 486h1v1h-1zM148 486h2v1h-2zM151 486h1v1h-1zM157 486h1v1h-1zM163 486h2v1h-2zM168 486h1v1h-1zM170 486h1v1h-1zM340 486h3v1h-3zM344 486h1v1h-1zM346 486h2v1h-2zM349 486h1v1h-1zM373 486h1v1h-1zM410 486h1v1h-1zM413 486h3v1h-3zM419 486h2v1h-2zM422 486h2v1h-2zM426 486h3v1h-3zM432 486h1v1h-1zM453 486h1v1h-1zM113 487h12v1h-12zM127 487h8v1h-8zM136 487h4v1h-4zM147 487h3v1h-3zM152 487h2v1h-2zM163 487h1v1h-1zM168 487h1v1h-1zM174 487h1v1h-1zM255 487h1v1h-1zM341 487h2v1h-2zM346 487h2v1h-2zM369 487h2v1h-2zM373 487h1v1h-1zM396 487h3v1h-3zM407 487h1v1h-1zM410 487h1v1h-1zM412 487h2v1h-2zM415 487h1v1h-1zM419 487h5v1h-5zM426 487h5v1h-5zM434 487h1v1h-1zM451 487h1v1h-1zM112 488h13v1h-13zM130 488h3v1h-3zM136 488h1v1h-1zM138 488h1v1h-1zM144 488h2v1h-2zM147 488h1v1h-1zM152 488h4v1h-4zM163 488h2v1h-2zM183 488h2v1h-2zM342 488h1v1h-1zM373 488h2v1h-2zM397 488h1v1h-1zM399 488h1v1h-1zM407 488h8v1h-8zM417 488h4v1h-4zM422 488h2v1h-2zM425 488h2v1h-2zM428 488h4v1h-4zM437 488h1v1h-1zM441 488h1v1h-1zM451 488h1v1h-1zM112 489h14v1h-14zM129 489h4v1h-4zM135 489h2v1h-2zM139 489h4v1h-4zM144 489h5v1h-5zM150 489h3v1h-3zM154 489h5v1h-5zM207 489h1v1h-1zM399 489h1v1h-1zM403 489h2v1h-2zM407 489h2v1h-2zM410 489h1v1h-1zM418 489h3v1h-3zM422 489h2v1h-2zM426 489h1v1h-1zM428 489h2v1h-2zM432 489h1v1h-1zM434 489h2v1h-2zM441 489h1v1h-1zM112 490h2v1h-2zM115 490h10v1h-10zM126 490h1v1h-1zM128 490h3v1h-3zM132 490h1v1h-1zM134 490h5v1h-5zM140 490h3v1h-3zM144 490h2v1h-2zM147 490h1v1h-1zM151 490h2v1h-2zM154 490h2v1h-2zM157 490h2v1h-2zM168 490h1v1h-1zM173 490h2v1h-2zM210 490h1v1h-1zM223 490h1v1h-1zM340 490h1v1h-1zM397 490h1v1h-1zM410 490h1v1h-1zM413 490h1v1h-1zM417 490h1v1h-1zM421 490h5v1h-5zM427 490h3v1h-3zM438 490h4v1h-4zM112 491h13v1h-13zM126 491h5v1h-5zM133 491h10v1h-10zM144 491h1v1h-1zM151 491h2v1h-2zM154 491h1v1h-1zM158 491h1v1h-1zM165 491h3v1h-3zM174 491h2v1h-2zM210 491h1v1h-1zM213 491h2v1h-2zM223 491h1v1h-1zM362 491h2v1h-2zM405 491h3v1h-3zM409 491h2v1h-2zM412 491h6v1h-6zM420 491h4v1h-4zM425 491h3v1h-3zM429 491h3v1h-3zM434 491h1v1h-1zM437 491h1v1h-1zM454 491h1v1h-1zM112 492h2v1h-2zM115 492h7v1h-7zM123 492h1v1h-1zM128 492h1v1h-1zM133 492h6v1h-6zM140 492h2v1h-2zM144 492h1v1h-1zM152 492h1v1h-1zM154 492h2v1h-2zM158 492h4v1h-4zM163 492h3v1h-3zM174 492h2v1h-2zM180 492h1v1h-1zM204 492h2v1h-2zM376 492h1v1h-1zM398 492h2v1h-2zM405 492h5v1h-5zM412 492h2v1h-2zM416 492h1v1h-1zM418 492h2v1h-2zM421 492h3v1h-3zM427 492h1v1h-1zM430 492h1v1h-1zM434 492h1v1h-1zM112 493h2v1h-2zM117 493h8v1h-8zM137 493h2v1h-2zM149 493h5v1h-5zM155 493h1v1h-1zM158 493h11v1h-11zM170 493h1v1h-1zM175 493h1v1h-1zM177 493h1v1h-1zM180 493h1v1h-1zM356 493h1v1h-1zM380 493h1v1h-1zM399 493h1v1h-1zM401 493h2v1h-2zM404 493h3v1h-3zM413 493h1v1h-1zM421 493h3v1h-3zM427 493h2v1h-2zM434 493h1v1h-1zM112 494h2v1h-2zM116 494h1v1h-1zM120 494h2v1h-2zM123 494h2v1h-2zM130 494h2v1h-2zM137 494h1v1h-1zM139 494h1v1h-1zM141 494h4v1h-4zM146 494h4v1h-4zM151 494h3v1h-3zM159 494h4v1h-4zM166 494h1v1h-1zM187 494h1v1h-1zM195 494h1v1h-1zM198 494h1v1h-1zM224 494h2v1h-2zM400 494h1v1h-1zM403 494h4v1h-4zM411 494h2v1h-2zM414 494h1v1h-1zM418 494h1v1h-1zM420 494h2v1h-2zM424 494h1v1h-1zM427 494h2v1h-2zM112 495h6v1h-6zM119 495h8v1h-8zM130 495h4v1h-4zM136 495h3v1h-3zM140 495h2v1h-2zM143 495h4v1h-4zM151 495h3v1h-3zM160 495h1v1h-1zM162 495h3v1h-3zM166 495h1v1h-1zM168 495h3v1h-3zM177 495h1v1h-1zM199 495h1v1h-1zM214 495h1v1h-1zM219 495h1v1h-1zM369 495h1v1h-1zM377 495h1v1h-1zM399 495h4v1h-4zM404 495h6v1h-6zM413 495h4v1h-4zM421 495h1v1h-1zM428 495h3v1h-3zM432 495h1v1h-1zM434 495h1v1h-1zM447 495h1v1h-1zM113 496h4v1h-4zM120 496h1v1h-1zM123 496h2v1h-2zM126 496h2v1h-2zM130 496h2v1h-2zM133 496h2v1h-2zM136 496h3v1h-3zM151 496h3v1h-3zM156 496h2v1h-2zM160 496h1v1h-1zM162 496h1v1h-1zM164 496h1v1h-1zM166 496h2v1h-2zM170 496h1v1h-1zM173 496h1v1h-1zM204 496h1v1h-1zM375 496h1v1h-1zM397 496h7v1h-7zM405 496h5v1h-5zM411 496h1v1h-1zM414 496h2v1h-2zM418 496h1v1h-1zM421 496h1v1h-1zM423 496h4v1h-4zM429 496h2v1h-2zM432 496h1v1h-1zM437 496h1v1h-1zM444 496h1v1h-1zM447 496h1v1h-1zM456 496h1v1h-1zM113 497h4v1h-4zM127 497h2v1h-2zM130 497h5v1h-5zM137 497h2v1h-2zM141 497h3v1h-3zM147 497h1v1h-1zM153 497h2v1h-2zM157 497h1v1h-1zM159 497h1v1h-1zM166 497h2v1h-2zM173 497h1v1h-1zM203 497h2v1h-2zM229 497h1v1h-1zM352 497h2v1h-2zM381 497h1v1h-1zM398 497h1v1h-1zM402 497h1v1h-1zM404 497h8v1h-8zM415 497h1v1h-1zM419 497h1v1h-1zM421 497h3v1h-3zM426 497h1v1h-1zM429 497h1v1h-1zM444 497h1v1h-1zM456 497h1v1h-1zM112 498h4v1h-4zM118 498h2v1h-2zM123 498h2v1h-2zM127 498h4v1h-4zM132 498h2v1h-2zM138 498h1v1h-1zM146 498h2v1h-2zM150 498h1v1h-1zM154 498h2v1h-2zM165 498h3v1h-3zM172 498h2v1h-2zM177 498h1v1h-1zM199 498h1v1h-1zM203 498h1v1h-1zM212 498h1v1h-1zM352 498h1v1h-1zM355 498h1v1h-1zM396 498h2v1h-2zM400 498h1v1h-1zM402 498h1v1h-1zM404 498h3v1h-3zM408 498h1v1h-1zM414 498h2v1h-2zM423 498h1v1h-1zM429 498h1v1h-1zM431 498h1v1h-1zM436 498h1v1h-1zM114 499h3v1h-3zM118 499h2v1h-2zM122 499h1v1h-1zM124 499h1v1h-1zM127 499h1v1h-1zM129 499h1v1h-1zM138 499h2v1h-2zM141 499h2v1h-2zM146 499h1v1h-1zM149 499h2v1h-2zM152 499h10v1h-10zM163 499h5v1h-5zM173 499h1v1h-1zM213 499h1v1h-1zM226 499h1v1h-1zM371 499h1v1h-1zM399 499h2v1h-2zM409 499h2v1h-2zM413 499h3v1h-3zM422 499h1v1h-1zM426 499h1v1h-1zM429 499h1v1h-1zM431 499h1v1h-1zM434 499h1v1h-1zM436 499h1v1h-1zM112 500h1v1h-1zM114 500h3v1h-3zM126 500h2v1h-2zM135 500h1v1h-1zM139 500h1v1h-1zM154 500h1v1h-1zM156 500h1v1h-1zM158 500h1v1h-1zM161 500h3v1h-3zM170 500h1v1h-1zM372 500h2v1h-2zM398 500h2v1h-2zM403 500h1v1h-1zM415 500h2v1h-2zM418 500h3v1h-3zM430 500h3v1h-3zM443 500h1v1h-1zM448 500h1v1h-1zM112 501h1v1h-1zM116 501h3v1h-3zM121 501h2v1h-2zM125 501h1v1h-1zM127 501h1v1h-1zM132 501h2v1h-2zM138 501h1v1h-1zM142 501h2v1h-2zM150 501h1v1h-1zM154 501h2v1h-2zM158 501h1v1h-1zM160 501h2v1h-2zM167 501h1v1h-1zM179 501h1v1h-1zM186 501h1v1h-1zM189 501h1v1h-1zM226 501h1v1h-1zM377 501h1v1h-1zM393 501h2v1h-2zM398 501h1v1h-1zM402 501h3v1h-3zM406 501h1v1h-1zM410 501h7v1h-7zM419 501h2v1h-2zM423 501h5v1h-5zM429 501h5v1h-5zM436 501h5v1h-5zM116 502h3v1h-3zM125 502h2v1h-2zM134 502h1v1h-1zM137 502h1v1h-1zM142 502h1v1h-1zM145 502h1v1h-1zM149 502h7v1h-7zM158 502h2v1h-2zM164 502h2v1h-2zM170 502h2v1h-2zM183 502h2v1h-2zM188 502h1v1h-1zM192 502h1v1h-1zM194 502h1v1h-1zM211 502h1v1h-1zM385 502h1v1h-1zM401 502h2v1h-2zM404 502h1v1h-1zM409 502h7v1h-7zM419 502h2v1h-2zM422 502h2v1h-2zM425 502h3v1h-3zM430 502h4v1h-4zM437 502h1v1h-1zM439 502h2v1h-2zM115 503h2v1h-2zM122 503h2v1h-2zM127 503h2v1h-2zM132 503h2v1h-2zM142 503h1v1h-1zM144 503h2v1h-2zM150 503h6v1h-6zM157 503h2v1h-2zM161 503h2v1h-2zM164 503h1v1h-1zM171 503h2v1h-2zM174 503h2v1h-2zM179 503h1v1h-1zM183 503h2v1h-2zM194 503h1v1h-1zM209 503h1v1h-1zM212 503h2v1h-2zM220 503h1v1h-1zM227 503h1v1h-1zM354 503h1v1h-1zM369 503h1v1h-1zM384 503h2v1h-2zM396 503h1v1h-1zM401 503h1v1h-1zM404 503h1v1h-1zM410 503h1v1h-1zM412 503h1v1h-1zM419 503h2v1h-2zM422 503h1v1h-1zM424 503h3v1h-3zM430 503h1v1h-1zM432 503h1v1h-1zM434 503h1v1h-1zM112 504h2v1h-2zM116 504h2v1h-2zM119 504h1v1h-1zM122 504h1v1h-1zM129 504h1v1h-1zM132 504h1v1h-1zM135 504h3v1h-3zM144 504h2v1h-2zM149 504h1v1h-1zM154 504h6v1h-6zM161 504h1v1h-1zM163 504h4v1h-4zM172 504h2v1h-2zM179 504h1v1h-1zM185 504h1v1h-1zM212 504h1v1h-1zM219 504h2v1h-2zM222 504h1v1h-1zM355 504h1v1h-1zM376 504h1v1h-1zM399 504h1v1h-1zM401 504h1v1h-1zM403 504h1v1h-1zM407 504h1v1h-1zM409 504h1v1h-1zM413 504h2v1h-2zM416 504h1v1h-1zM421 504h1v1h-1zM423 504h1v1h-1zM429 504h4v1h-4zM434 504h3v1h-3zM115 505h9v1h-9zM128 505h1v1h-1zM130 505h1v1h-1zM135 505h2v1h-2zM139 505h1v1h-1zM142 505h2v1h-2zM147 505h1v1h-1zM149 505h2v1h-2zM153 505h3v1h-3zM157 505h3v1h-3zM162 505h2v1h-2zM165 505h2v1h-2zM179 505h1v1h-1zM185 505h1v1h-1zM200 505h1v1h-1zM209 505h1v1h-1zM212 505h1v1h-1zM224 505h1v1h-1zM364 505h1v1h-1zM367 505h1v1h-1zM403 505h1v1h-1zM407 505h11v1h-11zM420 505h2v1h-2zM429 505h1v1h-1zM432 505h1v1h-1zM435 505h2v1h-2zM456 505h1v1h-1zM112 506h2v1h-2zM115 506h3v1h-3zM125 506h2v1h-2zM128 506h2v1h-2zM131 506h2v1h-2zM134 506h3v1h-3zM138 506h3v1h-3zM149 506h2v1h-2zM155 506h6v1h-6zM162 506h2v1h-2zM165 506h3v1h-3zM185 506h1v1h-1zM187 506h1v1h-1zM362 506h1v1h-1zM377 506h3v1h-3zM405 506h3v1h-3zM410 506h2v1h-2zM415 506h2v1h-2zM420 506h1v1h-1zM427 506h3v1h-3zM431 506h3v1h-3zM435 506h2v1h-2zM438 506h2v1h-2zM456 506h1v1h-1zM112 507h2v1h-2zM117 507h1v1h-1zM124 507h3v1h-3zM135 507h4v1h-4zM140 507h5v1h-5zM149 507h2v1h-2zM154 507h9v1h-9zM165 507h1v1h-1zM178 507h1v1h-1zM181 507h1v1h-1zM187 507h1v1h-1zM191 507h1v1h-1zM369 507h1v1h-1zM398 507h1v1h-1zM402 507h1v1h-1zM406 507h2v1h-2zM409 507h1v1h-1zM411 507h2v1h-2zM414 507h3v1h-3zM419 507h2v1h-2zM424 507h3v1h-3zM431 507h3v1h-3zM112 508h1v1h-1zM114 508h1v1h-1zM117 508h2v1h-2zM124 508h2v1h-2zM128 508h1v1h-1zM131 508h3v1h-3zM135 508h2v1h-2zM140 508h3v1h-3zM148 508h1v1h-1zM154 508h3v1h-3zM159 508h2v1h-2zM163 508h3v1h-3zM168 508h1v1h-1zM175 508h1v1h-1zM181 508h1v1h-1zM191 508h1v1h-1zM210 508h1v1h-1zM221 508h2v1h-2zM369 508h1v1h-1zM374 508h1v1h-1zM398 508h2v1h-2zM402 508h2v1h-2zM407 508h1v1h-1zM409 508h1v1h-1zM413 508h2v1h-2zM419 508h2v1h-2zM422 508h3v1h-3zM429 508h1v1h-1zM431 508h3v1h-3zM435 508h3v1h-3zM112 509h3v1h-3zM117 509h1v1h-1zM129 509h2v1h-2zM138 509h4v1h-4zM143 509h1v1h-1zM146 509h1v1h-1zM149 509h4v1h-4zM154 509h3v1h-3zM159 509h1v1h-1zM162 509h2v1h-2zM168 509h1v1h-1zM170 509h1v1h-1zM176 509h1v1h-1zM182 509h2v1h-2zM214 509h1v1h-1zM217 509h1v1h-1zM392 509h1v1h-1zM397 509h7v1h-7zM406 509h1v1h-1zM408 509h2v1h-2zM413 509h2v1h-2zM419 509h4v1h-4zM427 509h2v1h-2zM431 509h8v1h-8zM440 509h1v1h-1zM112 510h1v1h-1zM114 510h2v1h-2zM117 510h3v1h-3zM125 510h1v1h-1zM128 510h1v1h-1zM138 510h3v1h-3zM146 510h7v1h-7zM154 510h1v1h-1zM159 510h3v1h-3zM163 510h2v1h-2zM178 510h1v1h-1zM180 510h1v1h-1zM217 510h1v1h-1zM233 510h1v1h-1zM362 510h1v1h-1zM367 510h2v1h-2zM397 510h1v1h-1zM400 510h3v1h-3zM405 510h1v1h-1zM408 510h2v1h-2zM414 510h2v1h-2zM419 510h3v1h-3zM427 510h1v1h-1zM432 510h2v1h-2zM435 510h1v1h-1zM439 510h2v1h-2zM114 511h2v1h-2zM121 511h1v1h-1zM124 511h2v1h-2zM127 511h1v1h-1zM137 511h3v1h-3zM143 511h1v1h-1zM146 511h2v1h-2zM150 511h3v1h-3zM155 511h2v1h-2zM161 511h2v1h-2zM165 511h1v1h-1zM167 511h1v1h-1zM174 511h2v1h-2zM178 511h1v1h-1zM182 511h2v1h-2zM195 511h1v1h-1zM217 511h1v1h-1zM375 511h1v1h-1zM384 511h2v1h-2zM394 511h1v1h-1zM397 511h2v1h-2zM401 511h1v1h-1zM404 511h7v1h-7zM413 511h3v1h-3zM430 511h1v1h-1zM433 511h3v1h-3zM438 511h2v1h-2zM113 512h1v1h-1zM120 512h2v1h-2zM125 512h2v1h-2zM145 512h3v1h-3zM152 512h5v1h-5zM159 512h3v1h-3zM163 512h8v1h-8zM173 512h2v1h-2zM192 512h1v1h-1zM361 512h1v1h-1zM397 512h3v1h-3zM401 512h4v1h-4zM406 512h3v1h-3zM413 512h3v1h-3zM419 512h1v1h-1zM427 512h6v1h-6zM435 512h1v1h-1zM439 512h1v1h-1zM113 513h5v1h-5zM119 513h2v1h-2zM127 513h4v1h-4zM133 513h2v1h-2zM143 513h1v1h-1zM145 513h3v1h-3zM153 513h3v1h-3zM159 513h1v1h-1zM163 513h2v1h-2zM166 513h2v1h-2zM169 513h3v1h-3zM177 513h1v1h-1zM211 513h1v1h-1zM229 513h1v1h-1zM357 513h1v1h-1zM363 513h1v1h-1zM371 513h1v1h-1zM381 513h1v1h-1zM384 513h1v1h-1zM393 513h2v1h-2zM400 513h1v1h-1zM407 513h2v1h-2zM410 513h2v1h-2zM414 513h1v1h-1zM418 513h2v1h-2zM421 513h1v1h-1zM424 513h5v1h-5zM431 513h1v1h-1zM439 513h1v1h-1zM112 514h2v1h-2zM120 514h1v1h-1zM123 514h1v1h-1zM127 514h1v1h-1zM129 514h2v1h-2zM134 514h1v1h-1zM142 514h1v1h-1zM146 514h2v1h-2zM154 514h3v1h-3zM159 514h2v1h-2zM169 514h1v1h-1zM176 514h2v1h-2zM185 514h1v1h-1zM187 514h1v1h-1zM189 514h1v1h-1zM194 514h3v1h-3zM199 514h1v1h-1zM211 514h2v1h-2zM376 514h1v1h-1zM379 514h2v1h-2zM388 514h1v1h-1zM394 514h2v1h-2zM400 514h2v1h-2zM404 514h2v1h-2zM407 514h2v1h-2zM410 514h6v1h-6zM418 514h2v1h-2zM425 514h2v1h-2zM428 514h1v1h-1zM431 514h1v1h-1zM437 514h1v1h-1zM439 514h1v1h-1zM442 514h1v1h-1zM449 514h1v1h-1zM457 514h1v1h-1zM113 515h1v1h-1zM117 515h1v1h-1zM119 515h2v1h-2zM123 515h3v1h-3zM127 515h4v1h-4zM132 515h3v1h-3zM138 515h1v1h-1zM140 515h3v1h-3zM146 515h1v1h-1zM155 515h2v1h-2zM163 515h2v1h-2zM166 515h1v1h-1zM171 515h2v1h-2zM196 515h1v1h-1zM199 515h1v1h-1zM211 515h2v1h-2zM223 515h1v1h-1zM379 515h1v1h-1zM403 515h7v1h-7zM411 515h4v1h-4zM418 515h1v1h-1zM420 515h3v1h-3zM427 515h2v1h-2zM431 515h1v1h-1zM433 515h4v1h-4zM439 515h1v1h-1zM442 515h1v1h-1zM117 516h1v1h-1zM124 516h3v1h-3zM128 516h2v1h-2zM132 516h2v1h-2zM137 516h2v1h-2zM140 516h3v1h-3zM146 516h1v1h-1zM152 516h4v1h-4zM157 516h1v1h-1zM159 516h1v1h-1zM164 516h3v1h-3zM173 516h2v1h-2zM178 516h1v1h-1zM202 516h1v1h-1zM215 516h1v1h-1zM368 516h1v1h-1zM379 516h1v1h-1zM390 516h1v1h-1zM395 516h4v1h-4zM400 516h2v1h-2zM403 516h8v1h-8zM412 516h3v1h-3zM417 516h1v1h-1zM420 516h3v1h-3zM424 516h2v1h-2zM427 516h1v1h-1zM431 516h1v1h-1zM434 516h3v1h-3zM117 517h1v1h-1zM124 517h1v1h-1zM127 517h2v1h-2zM137 517h1v1h-1zM142 517h2v1h-2zM150 517h1v1h-1zM152 517h4v1h-4zM157 517h1v1h-1zM170 517h1v1h-1zM173 517h3v1h-3zM181 517h1v1h-1zM185 517h1v1h-1zM220 517h1v1h-1zM368 517h2v1h-2zM379 517h1v1h-1zM386 517h1v1h-1zM394 517h4v1h-4zM400 517h1v1h-1zM403 517h1v1h-1zM405 517h8v1h-8zM414 517h2v1h-2zM417 517h1v1h-1zM422 517h5v1h-5zM430 517h1v1h-1zM432 517h1v1h-1zM435 517h1v1h-1zM437 517h2v1h-2zM114 518h1v1h-1zM116 518h2v1h-2zM124 518h2v1h-2zM131 518h1v1h-1zM135 518h2v1h-2zM142 518h1v1h-1zM145 518h2v1h-2zM149 518h4v1h-4zM154 518h5v1h-5zM170 518h1v1h-1zM174 518h2v1h-2zM202 518h1v1h-1zM369 518h1v1h-1zM382 518h2v1h-2zM395 518h3v1h-3zM399 518h2v1h-2zM405 518h4v1h-4zM413 518h1v1h-1zM415 518h3v1h-3zM426 518h1v1h-1zM430 518h4v1h-4zM435 518h2v1h-2zM453 518h3v1h-3zM113 519h1v1h-1zM117 519h3v1h-3zM125 519h2v1h-2zM131 519h1v1h-1zM134 519h3v1h-3zM139 519h2v1h-2zM144 519h3v1h-3zM149 519h3v1h-3zM153 519h3v1h-3zM165 519h3v1h-3zM169 519h1v1h-1zM171 519h1v1h-1zM174 519h3v1h-3zM178 519h2v1h-2zM206 519h1v1h-1zM210 519h1v1h-1zM381 519h1v1h-1zM388 519h2v1h-2zM395 519h3v1h-3zM399 519h4v1h-4zM406 519h4v1h-4zM411 519h1v1h-1zM417 519h1v1h-1zM419 519h2v1h-2zM429 519h2v1h-2zM432 519h2v1h-2zM435 519h1v1h-1zM441 519h1v1h-1zM113 520h1v1h-1zM119 520h2v1h-2zM122 520h2v1h-2zM132 520h3v1h-3zM138 520h4v1h-4zM147 520h8v1h-8zM157 520h1v1h-1zM160 520h2v1h-2zM164 520h2v1h-2zM169 520h1v1h-1zM171 520h7v1h-7zM211 520h1v1h-1zM219 520h1v1h-1zM400 520h1v1h-1zM408 520h3v1h-3zM413 520h2v1h-2zM417 520h1v1h-1zM420 520h2v1h-2zM423 520h1v1h-1zM435 520h1v1h-1zM112 521h1v1h-1zM114 521h1v1h-1zM116 521h2v1h-2zM119 521h2v1h-2zM124 521h1v1h-1zM128 521h1v1h-1zM132 521h1v1h-1zM137 521h2v1h-2zM140 521h5v1h-5zM148 521h3v1h-3zM156 521h2v1h-2zM159 521h5v1h-5zM165 521h1v1h-1zM169 521h2v1h-2zM173 521h3v1h-3zM177 521h1v1h-1zM179 521h1v1h-1zM185 521h1v1h-1zM188 521h1v1h-1zM374 521h1v1h-1zM388 521h1v1h-1zM390 521h1v1h-1zM394 521h1v1h-1zM402 521h4v1h-4zM407 521h1v1h-1zM409 521h3v1h-3zM414 521h2v1h-2zM417 521h2v1h-2zM420 521h1v1h-1zM422 521h2v1h-2zM431 521h1v1h-1zM435 521h1v1h-1zM116 522h1v1h-1zM119 522h3v1h-3zM123 522h2v1h-2zM129 522h1v1h-1zM137 522h2v1h-2zM140 522h1v1h-1zM146 522h1v1h-1zM148 522h2v1h-2zM159 522h10v1h-10zM173 522h1v1h-1zM175 522h1v1h-1zM179 522h1v1h-1zM185 522h1v1h-1zM381 522h2v1h-2zM386 522h2v1h-2zM389 522h1v1h-1zM394 522h1v1h-1zM398 522h1v1h-1zM400 522h1v1h-1zM404 522h4v1h-4zM409 522h1v1h-1zM411 522h1v1h-1zM415 522h1v1h-1zM418 522h1v1h-1zM422 522h6v1h-6zM430 522h4v1h-4zM435 522h3v1h-3zM440 522h1v1h-1zM113 523h2v1h-2zM116 523h4v1h-4zM124 523h1v1h-1zM132 523h2v1h-2zM135 523h1v1h-1zM137 523h1v1h-1zM140 523h1v1h-1zM146 523h1v1h-1zM148 523h1v1h-1zM150 523h1v1h-1zM153 523h1v1h-1zM156 523h8v1h-8zM165 523h4v1h-4zM179 523h2v1h-2zM205 523h1v1h-1zM216 523h1v1h-1zM364 523h1v1h-1zM369 523h1v1h-1zM371 523h2v1h-2zM381 523h3v1h-3zM394 523h1v1h-1zM400 523h3v1h-3zM405 523h1v1h-1zM408 523h6v1h-6zM417 523h1v1h-1zM420 523h8v1h-8zM431 523h4v1h-4zM439 523h3v1h-3zM452 523h1v1h-1zM113 524h1v1h-1zM116 524h1v1h-1zM122 524h1v1h-1zM124 524h1v1h-1zM131 524h2v1h-2zM136 524h1v1h-1zM139 524h2v1h-2zM149 524h2v1h-2zM157 524h3v1h-3zM161 524h3v1h-3zM165 524h4v1h-4zM171 524h4v1h-4zM179 524h1v1h-1zM222 524h1v1h-1zM232 524h1v1h-1zM369 524h1v1h-1zM378 524h1v1h-1zM381 524h1v1h-1zM385 524h1v1h-1zM388 524h1v1h-1zM393 524h3v1h-3zM398 524h4v1h-4zM406 524h1v1h-1zM408 524h3v1h-3zM413 524h2v1h-2zM419 524h5v1h-5zM425 524h3v1h-3zM431 524h3v1h-3zM114 525h2v1h-2zM117 525h1v1h-1zM124 525h1v1h-1zM131 525h1v1h-1zM136 525h1v1h-1zM140 525h2v1h-2zM146 525h2v1h-2zM150 525h1v1h-1zM158 525h2v1h-2zM161 525h1v1h-1zM164 525h1v1h-1zM168 525h1v1h-1zM170 525h1v1h-1zM172 525h1v1h-1zM174 525h1v1h-1zM176 525h1v1h-1zM179 525h2v1h-2zM184 525h1v1h-1zM378 525h1v1h-1zM380 525h2v1h-2zM384 525h1v1h-1zM386 525h1v1h-1zM388 525h1v1h-1zM391 525h4v1h-4zM397 525h2v1h-2zM400 525h1v1h-1zM402 525h9v1h-9zM412 525h2v1h-2zM415 525h10v1h-10zM427 525h2v1h-2zM430 525h1v1h-1zM432 525h1v1h-1zM455 525h1v1h-1zM113 526h5v1h-5zM119 526h3v1h-3zM123 526h5v1h-5zM129 526h1v1h-1zM135 526h1v1h-1zM146 526h2v1h-2zM158 526h1v1h-1zM161 526h1v1h-1zM164 526h2v1h-2zM173 526h2v1h-2zM176 526h1v1h-1zM179 526h2v1h-2zM182 526h1v1h-1zM370 526h1v1h-1zM379 526h1v1h-1zM384 526h1v1h-1zM388 526h1v1h-1zM390 526h4v1h-4zM396 526h3v1h-3zM404 526h5v1h-5zM410 526h3v1h-3zM414 526h2v1h-2zM417 526h3v1h-3zM422 526h2v1h-2zM427 526h2v1h-2zM432 526h1v1h-1zM434 526h1v1h-1zM436 526h1v1h-1zM441 526h1v1h-1zM112 527h3v1h-3zM116 527h2v1h-2zM120 527h2v1h-2zM123 527h7v1h-7zM132 527h2v1h-2zM137 527h1v1h-1zM145 527h1v1h-1zM160 527h1v1h-1zM168 527h1v1h-1zM171 527h4v1h-4zM178 527h1v1h-1zM186 527h1v1h-1zM388 527h1v1h-1zM391 527h2v1h-2zM396 527h2v1h-2zM401 527h1v1h-1zM404 527h2v1h-2zM412 527h1v1h-1zM414 527h1v1h-1zM417 527h3v1h-3zM423 527h1v1h-1zM426 527h1v1h-1zM430 527h5v1h-5zM436 527h1v1h-1zM444 527h1v1h-1zM112 528h1v1h-1zM121 528h7v1h-7zM132 528h2v1h-2zM140 528h2v1h-2zM143 528h3v1h-3zM150 528h2v1h-2zM156 528h6v1h-6zM165 528h1v1h-1zM169 528h1v1h-1zM171 528h1v1h-1zM174 528h1v1h-1zM186 528h1v1h-1zM374 528h2v1h-2zM387 528h3v1h-3zM393 528h1v1h-1zM399 528h1v1h-1zM402 528h2v1h-2zM406 528h4v1h-4zM412 528h3v1h-3zM417 528h3v1h-3zM421 528h6v1h-6zM429 528h1v1h-1zM432 528h2v1h-2zM435 528h2v1h-2zM112 529h1v1h-1zM114 529h1v1h-1zM116 529h1v1h-1zM119 529h1v1h-1zM121 529h7v1h-7zM136 529h2v1h-2zM143 529h3v1h-3zM151 529h2v1h-2zM156 529h3v1h-3zM166 529h1v1h-1zM170 529h1v1h-1zM375 529h3v1h-3zM380 529h2v1h-2zM387 529h2v1h-2zM393 529h1v1h-1zM402 529h1v1h-1zM407 529h2v1h-2zM410 529h2v1h-2zM416 529h1v1h-1zM422 529h3v1h-3zM426 529h1v1h-1zM434 529h2v1h-2zM439 529h2v1h-2zM114 530h3v1h-3zM119 530h1v1h-1zM121 530h3v1h-3zM126 530h2v1h-2zM135 530h2v1h-2zM140 530h1v1h-1zM142 530h3v1h-3zM146 530h3v1h-3zM151 530h3v1h-3zM157 530h2v1h-2zM165 530h2v1h-2zM170 530h1v1h-1zM180 530h1v1h-1zM375 530h3v1h-3zM380 530h2v1h-2zM387 530h1v1h-1zM392 530h2v1h-2zM398 530h2v1h-2zM401 530h3v1h-3zM405 530h2v1h-2zM409 530h4v1h-4zM417 530h2v1h-2zM421 530h6v1h-6zM432 530h1v1h-1zM113 531h2v1h-2zM116 531h1v1h-1zM119 531h1v1h-1zM125 531h3v1h-3zM130 531h5v1h-5zM143 531h1v1h-1zM146 531h3v1h-3zM150 531h1v1h-1zM154 531h1v1h-1zM156 531h2v1h-2zM165 531h1v1h-1zM168 531h5v1h-5zM179 531h2v1h-2zM183 531h1v1h-1zM217 531h2v1h-2zM368 531h1v1h-1zM371 531h1v1h-1zM374 531h3v1h-3zM380 531h2v1h-2zM383 531h1v1h-1zM387 531h2v1h-2zM390 531h3v1h-3zM394 531h4v1h-4zM401 531h3v1h-3zM405 531h1v1h-1zM409 531h2v1h-2zM412 531h1v1h-1zM414 531h2v1h-2zM417 531h3v1h-3zM421 531h4v1h-4zM426 531h1v1h-1zM429 531h1v1h-1zM431 531h1v1h-1zM447 531h1v1h-1zM458 531h1v1h-1zM113 532h2v1h-2zM119 532h1v1h-1zM123 532h2v1h-2zM126 532h1v1h-1zM131 532h3v1h-3zM140 532h2v1h-2zM143 532h1v1h-1zM146 532h2v1h-2zM149 532h1v1h-1zM153 532h3v1h-3zM157 532h2v1h-2zM168 532h3v1h-3zM203 532h1v1h-1zM227 532h1v1h-1zM367 532h2v1h-2zM371 532h4v1h-4zM382 532h2v1h-2zM386 532h4v1h-4zM391 532h1v1h-1zM397 532h1v1h-1zM401 532h1v1h-1zM403 532h5v1h-5zM409 532h1v1h-1zM414 532h2v1h-2zM417 532h8v1h-8zM426 532h4v1h-4zM435 532h1v1h-1zM113 533h3v1h-3zM119 533h1v1h-1zM123 533h4v1h-4zM129 533h4v1h-4zM136 533h1v1h-1zM140 533h2v1h-2zM146 533h3v1h-3zM151 533h6v1h-6zM158 533h2v1h-2zM161 533h3v1h-3zM165 533h2v1h-2zM168 533h1v1h-1zM170 533h1v1h-1zM202 533h2v1h-2zM226 533h1v1h-1zM368 533h1v1h-1zM370 533h3v1h-3zM375 533h3v1h-3zM382 533h1v1h-1zM386 533h4v1h-4zM400 533h2v1h-2zM404 533h5v1h-5zM412 533h2v1h-2zM416 533h3v1h-3zM420 533h11v1h-11zM114 534h2v1h-2zM117 534h2v1h-2zM124 534h3v1h-3zM129 534h4v1h-4zM136 534h2v1h-2zM141 534h3v1h-3zM146 534h2v1h-2zM150 534h5v1h-5zM156 534h1v1h-1zM158 534h2v1h-2zM161 534h1v1h-1zM166 534h7v1h-7zM221 534h1v1h-1zM368 534h1v1h-1zM370 534h1v1h-1zM377 534h1v1h-1zM379 534h2v1h-2zM386 534h1v1h-1zM388 534h1v1h-1zM390 534h1v1h-1zM396 534h1v1h-1zM402 534h1v1h-1zM404 534h1v1h-1zM408 534h1v1h-1zM412 534h2v1h-2zM418 534h1v1h-1zM423 534h7v1h-7zM433 534h1v1h-1zM436 534h1v1h-1zM112 535h4v1h-4zM118 535h3v1h-3zM124 535h1v1h-1zM126 535h2v1h-2zM130 535h4v1h-4zM136 535h1v1h-1zM140 535h5v1h-5zM147 535h1v1h-1zM151 535h8v1h-8zM160 535h1v1h-1zM165 535h7v1h-7zM175 535h1v1h-1zM225 535h1v1h-1zM363 535h1v1h-1zM370 535h1v1h-1zM376 535h2v1h-2zM379 535h1v1h-1zM389 535h3v1h-3zM393 535h5v1h-5zM402 535h4v1h-4zM409 535h4v1h-4zM414 535h1v1h-1zM416 535h1v1h-1zM421 535h3v1h-3zM425 535h5v1h-5zM432 535h3v1h-3zM112 536h3v1h-3zM118 536h3v1h-3zM122 536h1v1h-1zM127 536h3v1h-3zM131 536h4v1h-4zM140 536h1v1h-1zM143 536h2v1h-2zM148 536h1v1h-1zM150 536h1v1h-1zM152 536h2v1h-2zM155 536h3v1h-3zM160 536h2v1h-2zM165 536h4v1h-4zM171 536h1v1h-1zM174 536h2v1h-2zM203 536h1v1h-1zM218 536h1v1h-1zM375 536h3v1h-3zM379 536h2v1h-2zM385 536h2v1h-2zM389 536h3v1h-3zM395 536h1v1h-1zM398 536h5v1h-5zM409 536h1v1h-1zM411 536h1v1h-1zM414 536h3v1h-3zM420 536h10v1h-10zM433 536h1v1h-1zM437 536h2v1h-2zM113 537h3v1h-3zM123 537h2v1h-2zM128 537h8v1h-8zM138 537h3v1h-3zM144 537h3v1h-3zM149 537h2v1h-2zM154 537h2v1h-2zM157 537h1v1h-1zM162 537h2v1h-2zM165 537h2v1h-2zM168 537h2v1h-2zM173 537h2v1h-2zM214 537h1v1h-1zM229 537h1v1h-1zM367 537h2v1h-2zM377 537h2v1h-2zM387 537h1v1h-1zM391 537h1v1h-1zM393 537h1v1h-1zM395 537h1v1h-1zM398 537h1v1h-1zM401 537h4v1h-4zM409 537h1v1h-1zM411 537h5v1h-5zM417 537h1v1h-1zM419 537h2v1h-2zM422 537h2v1h-2zM428 537h1v1h-1zM112 538h4v1h-4zM121 538h12v1h-12zM135 538h2v1h-2zM138 538h4v1h-4zM144 538h1v1h-1zM149 538h2v1h-2zM154 538h2v1h-2zM157 538h1v1h-1zM162 538h3v1h-3zM168 538h1v1h-1zM173 538h1v1h-1zM373 538h1v1h-1zM376 538h1v1h-1zM382 538h1v1h-1zM385 538h1v1h-1zM387 538h5v1h-5zM404 538h1v1h-1zM407 538h2v1h-2zM411 538h5v1h-5zM420 538h4v1h-4zM435 538h1v1h-1zM114 539h4v1h-4zM120 539h8v1h-8zM129 539h3v1h-3zM136 539h2v1h-2zM142 539h3v1h-3zM146 539h1v1h-1zM151 539h1v1h-1zM153 539h2v1h-2zM162 539h1v1h-1zM164 539h1v1h-1zM166 539h1v1h-1zM181 539h2v1h-2zM215 539h1v1h-1zM376 539h3v1h-3zM384 539h2v1h-2zM390 539h1v1h-1zM394 539h2v1h-2zM403 539h1v1h-1zM406 539h3v1h-3zM412 539h1v1h-1zM415 539h2v1h-2zM419 539h4v1h-4zM425 539h1v1h-1zM431 539h1v1h-1zM435 539h2v1h-2zM112 540h2v1h-2zM116 540h3v1h-3zM120 540h3v1h-3zM124 540h11v1h-11zM136 540h1v1h-1zM139 540h1v1h-1zM141 540h5v1h-5zM147 540h1v1h-1zM151 540h2v1h-2zM158 540h1v1h-1zM160 540h1v1h-1zM162 540h1v1h-1zM165 540h1v1h-1zM167 540h1v1h-1zM176 540h1v1h-1zM188 540h2v1h-2zM366 540h1v1h-1zM371 540h2v1h-2zM376 540h2v1h-2zM379 540h2v1h-2zM384 540h1v1h-1zM390 540h2v1h-2zM395 540h1v1h-1zM400 540h1v1h-1zM402 540h2v1h-2zM407 540h2v1h-2zM410 540h1v1h-1zM413 540h1v1h-1zM415 540h2v1h-2zM418 540h4v1h-4zM427 540h1v1h-1zM429 540h3v1h-3zM434 540h2v1h-2zM112 541h6v1h-6zM120 541h4v1h-4zM125 541h2v1h-2zM128 541h2v1h-2zM131 541h6v1h-6zM138 541h10v1h-10zM151 541h2v1h-2zM158 541h2v1h-2zM161 541h2v1h-2zM165 541h1v1h-1zM169 541h1v1h-1zM171 541h1v1h-1zM174 541h2v1h-2zM366 541h1v1h-1zM370 541h1v1h-1zM373 541h1v1h-1zM384 541h1v1h-1zM390 541h2v1h-2zM393 541h1v1h-1zM395 541h1v1h-1zM403 541h1v1h-1zM407 541h1v1h-1zM414 541h2v1h-2zM417 541h3v1h-3zM424 541h7v1h-7zM439 541h1v1h-1zM442 541h2v1h-2zM112 542h7v1h-7zM121 542h5v1h-5zM131 542h7v1h-7zM142 542h4v1h-4zM147 542h1v1h-1zM150 542h2v1h-2zM154 542h2v1h-2zM159 542h3v1h-3zM167 542h3v1h-3zM171 542h2v1h-2zM197 542h2v1h-2zM366 542h1v1h-1zM383 542h3v1h-3zM391 542h3v1h-3zM407 542h1v1h-1zM409 542h1v1h-1zM415 542h1v1h-1zM418 542h3v1h-3zM423 542h1v1h-1zM425 542h1v1h-1zM428 542h2v1h-2zM433 542h1v1h-1zM443 542h1v1h-1zM113 543h2v1h-2zM116 543h6v1h-6zM124 543h2v1h-2zM130 543h1v1h-1zM133 543h1v1h-1zM138 543h1v1h-1zM145 543h1v1h-1zM150 543h1v1h-1zM157 543h1v1h-1zM159 543h2v1h-2zM163 543h1v1h-1zM177 543h1v1h-1zM198 543h1v1h-1zM207 543h1v1h-1zM377 543h1v1h-1zM383 543h2v1h-2zM388 543h2v1h-2zM391 543h2v1h-2zM398 543h1v1h-1zM407 543h4v1h-4zM413 543h1v1h-1zM425 543h1v1h-1zM433 543h1v1h-1zM112 544h2v1h-2zM117 544h1v1h-1zM119 544h3v1h-3zM123 544h5v1h-5zM129 544h1v1h-1zM132 544h3v1h-3zM138 544h1v1h-1zM141 544h1v1h-1zM144 544h2v1h-2zM149 544h9v1h-9zM160 544h5v1h-5zM169 544h1v1h-1zM179 544h2v1h-2zM215 544h2v1h-2zM381 544h1v1h-1zM383 544h2v1h-2zM387 544h2v1h-2zM403 544h1v1h-1zM411 544h1v1h-1zM414 544h2v1h-2zM420 544h2v1h-2zM425 544h3v1h-3zM112 545h2v1h-2zM116 545h2v1h-2zM119 545h6v1h-6zM127 545h8v1h-8zM141 545h5v1h-5zM148 545h1v1h-1zM152 545h1v1h-1zM154 545h1v1h-1zM156 545h3v1h-3zM162 545h2v1h-2zM172 545h2v1h-2zM180 545h1v1h-1zM201 545h2v1h-2zM341 545h1v1h-1zM369 545h1v1h-1zM371 545h2v1h-2zM378 545h1v1h-1zM381 545h2v1h-2zM393 545h1v1h-1zM396 545h1v1h-1zM399 545h2v1h-2zM403 545h1v1h-1zM420 545h2v1h-2zM424 545h4v1h-4zM113 546h2v1h-2zM116 546h1v1h-1zM119 546h4v1h-4zM125 546h2v1h-2zM129 546h6v1h-6zM142 546h1v1h-1zM148 546h1v1h-1zM152 546h3v1h-3zM156 546h3v1h-3zM164 546h1v1h-1zM169 546h1v1h-1zM171 546h2v1h-2zM185 546h1v1h-1zM188 546h1v1h-1zM346 546h1v1h-1zM372 546h4v1h-4zM382 546h1v1h-1zM384 546h1v1h-1zM393 546h1v1h-1zM395 546h1v1h-1zM399 546h1v1h-1zM412 546h10v1h-10zM423 546h1v1h-1zM425 546h3v1h-3zM112 547h10v1h-10zM123 547h1v1h-1zM125 547h1v1h-1zM129 547h8v1h-8zM138 547h5v1h-5zM147 547h4v1h-4zM154 547h1v1h-1zM157 547h4v1h-4zM164 547h2v1h-2zM169 547h1v1h-1zM183 547h1v1h-1zM346 547h3v1h-3zM372 547h4v1h-4zM382 547h3v1h-3zM386 547h1v1h-1zM389 547h1v1h-1zM405 547h1v1h-1zM407 547h1v1h-1zM411 547h3v1h-3zM415 547h6v1h-6zM423 547h3v1h-3zM427 547h2v1h-2zM435 547h1v1h-1zM112 548h3v1h-3zM116 548h4v1h-4zM124 548h1v1h-1zM126 548h6v1h-6zM134 548h4v1h-4zM140 548h1v1h-1zM143 548h2v1h-2zM149 548h3v1h-3zM153 548h1v1h-1zM157 548h4v1h-4zM162 548h2v1h-2zM169 548h2v1h-2zM340 548h3v1h-3zM346 548h3v1h-3zM367 548h1v1h-1zM371 548h4v1h-4zM384 548h1v1h-1zM389 548h1v1h-1zM397 548h1v1h-1zM402 548h6v1h-6zM411 548h1v1h-1zM415 548h1v1h-1zM418 548h1v1h-1zM422 548h1v1h-1zM431 548h1v1h-1zM112 549h2v1h-2zM115 549h6v1h-6zM122 549h1v1h-1zM124 549h1v1h-1zM126 549h2v1h-2zM129 549h4v1h-4zM135 549h4v1h-4zM140 549h5v1h-5zM146 549h6v1h-6zM153 549h1v1h-1zM157 549h4v1h-4zM172 549h1v1h-1zM174 549h1v1h-1zM340 549h2v1h-2zM348 549h1v1h-1zM371 549h1v1h-1zM373 549h2v1h-2zM381 549h3v1h-3zM398 549h1v1h-1zM402 549h3v1h-3zM112 550h5v1h-5zM118 550h3v1h-3zM122 550h1v1h-1zM124 550h1v1h-1zM127 550h1v1h-1zM130 550h3v1h-3zM136 550h3v1h-3zM140 550h5v1h-5zM146 550h1v1h-1zM150 550h2v1h-2zM157 550h3v1h-3zM340 550h2v1h-2zM343 550h5v1h-5zM350 550h1v1h-1zM363 550h1v1h-1zM370 550h4v1h-4zM401 550h2v1h-2zM415 550h1v1h-1zM417 550h1v1h-1zM421 550h2v1h-2zM437 550h1v1h-1zM112 551h5v1h-5zM120 551h1v1h-1zM124 551h2v1h-2zM127 551h1v1h-1zM130 551h4v1h-4zM135 551h11v1h-11zM152 551h2v1h-2zM155 551h4v1h-4zM182 551h1v1h-1zM340 551h5v1h-5zM349 551h2v1h-2zM370 551h1v1h-1zM373 551h1v1h-1zM376 551h2v1h-2zM385 551h3v1h-3zM401 551h2v1h-2zM421 551h2v1h-2zM424 551h1v1h-1zM112 552h2v1h-2zM117 552h1v1h-1zM120 552h3v1h-3zM124 552h2v1h-2zM127 552h6v1h-6zM134 552h2v1h-2zM137 552h5v1h-5zM145 552h1v1h-1zM147 552h1v1h-1zM149 552h1v1h-1zM155 552h1v1h-1zM158 552h1v1h-1zM161 552h1v1h-1zM163 552h1v1h-1zM340 552h1v1h-1zM342 552h2v1h-2zM345 552h2v1h-2zM349 552h3v1h-3zM368 552h4v1h-4zM379 552h1v1h-1zM385 552h3v1h-3zM394 552h1v1h-1zM406 552h2v1h-2zM421 552h2v1h-2zM112 553h2v1h-2zM116 553h3v1h-3zM120 553h6v1h-6zM129 553h3v1h-3zM134 553h9v1h-9zM146 553h6v1h-6zM155 553h2v1h-2zM170 553h2v1h-2zM340 553h5v1h-5zM346 553h2v1h-2zM349 553h4v1h-4zM369 553h1v1h-1zM379 553h1v1h-1zM382 553h1v1h-1zM393 553h2v1h-2zM400 553h1v1h-1zM407 553h2v1h-2zM412 553h3v1h-3zM426 553h2v1h-2zM112 554h2v1h-2zM115 554h1v1h-1zM118 554h1v1h-1zM120 554h1v1h-1zM122 554h6v1h-6zM129 554h3v1h-3zM133 554h10v1h-10zM146 554h2v1h-2zM149 554h1v1h-1zM151 554h2v1h-2zM155 554h3v1h-3zM159 554h1v1h-1zM164 554h1v1h-1zM170 554h2v1h-2zM340 554h2v1h-2zM343 554h3v1h-3zM347 554h6v1h-6zM375 554h1v1h-1zM379 554h1v1h-1zM397 554h1v1h-1zM402 554h1v1h-1zM404 554h7v1h-7zM416 554h1v1h-1zM426 554h2v1h-2zM113 555h3v1h-3zM120 555h12v1h-12zM134 555h1v1h-1zM136 555h1v1h-1zM139 555h2v1h-2zM143 555h1v1h-1zM147 555h2v1h-2zM153 555h1v1h-1zM157 555h2v1h-2zM164 555h2v1h-2zM168 555h1v1h-1zM340 555h3v1h-3zM347 555h5v1h-5zM373 555h1v1h-1zM378 555h2v1h-2zM397 555h1v1h-1zM404 555h3v1h-3zM113 556h1v1h-1zM115 556h1v1h-1zM123 556h2v1h-2zM126 556h2v1h-2zM129 556h3v1h-3zM134 556h6v1h-6zM143 556h2v1h-2zM153 556h1v1h-1zM157 556h2v1h-2zM161 556h1v1h-1zM340 556h3v1h-3zM345 556h8v1h-8zM373 556h1v1h-1zM378 556h1v1h-1zM384 556h1v1h-1zM388 556h1v1h-1zM390 556h1v1h-1zM393 556h3v1h-3zM404 556h1v1h-1zM409 556h1v1h-1zM424 556h1v1h-1zM429 556h1v1h-1zM113 557h1v1h-1zM115 557h2v1h-2zM118 557h3v1h-3zM123 557h2v1h-2zM126 557h4v1h-4zM131 557h8v1h-8zM141 557h4v1h-4zM148 557h2v1h-2zM153 557h1v1h-1zM162 557h1v1h-1zM168 557h1v1h-1zM340 557h2v1h-2zM344 557h2v1h-2zM347 557h1v1h-1zM349 557h2v1h-2zM354 557h2v1h-2zM381 557h1v1h-1zM384 557h1v1h-1zM393 557h1v1h-1zM410 557h1v1h-1zM424 557h2v1h-2zM430 557h1v1h-1zM113 558h5v1h-5zM120 558h5v1h-5zM126 558h1v1h-1zM128 558h1v1h-1zM132 558h1v1h-1zM135 558h8v1h-8zM145 558h4v1h-4zM151 558h1v1h-1zM157 558h3v1h-3zM165 558h1v1h-1zM340 558h3v1h-3zM344 558h7v1h-7zM393 558h1v1h-1zM398 558h2v1h-2zM402 558h3v1h-3zM408 558h1v1h-1zM410 558h1v1h-1zM415 558h1v1h-1zM420 558h2v1h-2zM113 559h3v1h-3zM118 559h1v1h-1zM120 559h5v1h-5zM126 559h4v1h-4zM132 559h11v1h-11zM146 559h2v1h-2zM149 559h2v1h-2zM155 559h1v1h-1zM158 559h2v1h-2zM164 559h2v1h-2zM340 559h3v1h-3zM344 559h6v1h-6zM352 559h3v1h-3zM374 559h1v1h-1zM383 559h1v1h-1zM398 559h2v1h-2zM410 559h1v1h-1zM412 559h2v1h-2zM420 559h2v1h-2zM430 559h1v1h-1zM113 560h3v1h-3zM119 560h2v1h-2zM122 560h2v1h-2zM128 560h2v1h-2zM135 560h1v1h-1zM137 560h5v1h-5zM143 560h1v1h-1zM145 560h2v1h-2zM149 560h4v1h-4zM164 560h1v1h-1zM168 560h1v1h-1zM340 560h3v1h-3zM344 560h5v1h-5zM351 560h3v1h-3zM382 560h2v1h-2zM386 560h1v1h-1zM395 560h1v1h-1zM403 560h2v1h-2zM412 560h1v1h-1zM418 560h2v1h-2zM113 561h2v1h-2zM119 561h1v1h-1zM123 561h1v1h-1zM125 561h2v1h-2zM128 561h1v1h-1zM135 561h8v1h-8zM145 561h2v1h-2zM152 561h1v1h-1zM164 561h1v1h-1zM341 561h8v1h-8zM387 561h1v1h-1zM395 561h3v1h-3zM408 561h3v1h-3zM113 562h2v1h-2zM116 562h2v1h-2zM123 562h4v1h-4zM132 562h2v1h-2zM140 562h1v1h-1zM143 562h1v1h-1zM145 562h2v1h-2zM149 562h2v1h-2zM153 562h4v1h-4zM340 562h8v1h-8zM354 562h1v1h-1zM384 562h1v1h-1zM394 562h3v1h-3zM409 562h1v1h-1zM419 562h1v1h-1zM426 562h1v1h-1zM113 563h5v1h-5zM119 563h1v1h-1zM123 563h6v1h-6zM131 563h3v1h-3zM137 563h4v1h-4zM145 563h2v1h-2zM152 563h1v1h-1zM156 563h1v1h-1zM165 563h1v1h-1zM168 563h1v1h-1zM341 563h2v1h-2zM344 563h4v1h-4zM351 563h1v1h-1zM395 563h3v1h-3zM406 563h1v1h-1zM114 564h4v1h-4zM120 564h1v1h-1zM123 564h5v1h-5zM133 564h3v1h-3zM137 564h3v1h-3zM141 564h1v1h-1zM150 564h1v1h-1zM157 564h2v1h-2zM165 564h1v1h-1zM341 564h1v1h-1zM343 564h12v1h-12zM382 564h4v1h-4zM387 564h1v1h-1zM391 564h1v1h-1zM394 564h2v1h-2zM397 564h1v1h-1zM400 564h1v1h-1zM405 564h2v1h-2zM414 564h3v1h-3zM426 564h1v1h-1zM117 565h1v1h-1zM119 565h3v1h-3zM124 565h4v1h-4zM132 565h5v1h-5zM138 565h1v1h-1zM140 565h2v1h-2zM146 565h1v1h-1zM148 565h1v1h-1zM151 565h2v1h-2zM340 565h2v1h-2zM343 565h10v1h-10zM373 565h1v1h-1zM385 565h3v1h-3zM396 565h3v1h-3zM409 565h2v1h-2zM414 565h4v1h-4zM425 565h4v1h-4zM113 566h2v1h-2zM119 566h2v1h-2zM123 566h7v1h-7zM133 566h1v1h-1zM136 566h2v1h-2zM146 566h3v1h-3zM151 566h4v1h-4zM158 566h2v1h-2zM166 566h1v1h-1zM340 566h6v1h-6zM347 566h4v1h-4zM386 566h2v1h-2zM397 566h2v1h-2zM408 566h3v1h-3zM416 566h1v1h-1zM428 566h1v1h-1zM113 567h2v1h-2zM119 567h2v1h-2zM122 567h2v1h-2zM125 567h1v1h-1zM128 567h2v1h-2zM137 567h1v1h-1zM146 567h5v1h-5zM153 567h4v1h-4zM158 567h5v1h-5zM166 567h2v1h-2zM114 568h4v1h-4zM121 568h2v1h-2zM125 568h1v1h-1zM128 568h4v1h-4zM133 568h1v1h-1zM135 568h1v1h-1zM137 568h1v1h-1zM143 568h2v1h-2zM149 568h2v1h-2zM155 568h1v1h-1zM157 710h1v1h-1zM159 710h1v1h-1zM414 710h1v1h-1zM344 711h1v1h-1zM404 711h1v1h-1zM141 712h1v1h-1zM157 712h1v1h-1zM168 712h2v1h-2zM350 712h1v1h-1zM401 712h1v1h-1zM411 712h1v1h-1zM415 712h1v1h-1zM424 712h1v1h-1zM141 713h2v1h-2zM147 713h4v1h-4zM356 713h1v1h-1zM360 713h1v1h-1zM401 713h2v1h-2zM409 713h3v1h-3zM414 713h2v1h-2zM142 714h1v1h-1zM145 714h1v1h-1zM149 714h2v1h-2zM155 714h2v1h-2zM162 714h1v1h-1zM185 714h1v1h-1zM188 714h1v1h-1zM347 714h1v1h-1zM353 714h2v1h-2zM356 714h1v1h-1zM360 714h1v1h-1zM398 714h1v1h-1zM402 714h2v1h-2zM405 714h3v1h-3zM409 714h1v1h-1zM414 714h1v1h-1zM418 714h1v1h-1zM433 714h1v1h-1zM127 715h3v1h-3zM134 715h1v1h-1zM144 715h2v1h-2zM149 715h3v1h-3zM153 715h4v1h-4zM163 715h2v1h-2zM169 715h1v1h-1zM176 715h2v1h-2zM183 715h1v1h-1zM188 715h1v1h-1zM347 715h3v1h-3zM353 715h3v1h-3zM359 715h2v1h-2zM391 715h1v1h-1zM396 715h1v1h-1zM398 715h2v1h-2zM404 715h1v1h-1zM407 715h4v1h-4zM413 715h2v1h-2zM418 715h2v1h-2zM428 715h1v1h-1zM436 715h1v1h-1zM120 716h1v1h-1zM126 716h3v1h-3zM130 716h3v1h-3zM136 716h2v1h-2zM139 716h1v1h-1zM143 716h3v1h-3zM149 716h2v1h-2zM153 716h2v1h-2zM160 716h1v1h-1zM164 716h1v1h-1zM170 716h1v1h-1zM173 716h1v1h-1zM176 716h1v1h-1zM349 716h1v1h-1zM354 716h2v1h-2zM357 716h1v1h-1zM359 716h1v1h-1zM381 716h2v1h-2zM391 716h1v1h-1zM393 716h1v1h-1zM395 716h2v1h-2zM398 716h1v1h-1zM400 716h1v1h-1zM404 716h7v1h-7zM413 716h5v1h-5zM419 716h1v1h-1zM427 716h1v1h-1zM429 716h2v1h-2zM433 716h4v1h-4zM439 716h1v1h-1zM124 717h9v1h-9zM135 717h11v1h-11zM148 717h3v1h-3zM152 717h3v1h-3zM157 717h1v1h-1zM161 717h2v1h-2zM166 717h2v1h-2zM178 717h1v1h-1zM180 717h1v1h-1zM182 717h2v1h-2zM343 717h1v1h-1zM351 717h2v1h-2zM355 717h1v1h-1zM359 717h1v1h-1zM372 717h1v1h-1zM376 717h3v1h-3zM381 717h2v1h-2zM387 717h1v1h-1zM391 717h1v1h-1zM395 717h2v1h-2zM398 717h4v1h-4zM405 717h2v1h-2zM408 717h2v1h-2zM411 717h5v1h-5zM417 717h1v1h-1zM426 717h2v1h-2zM429 717h1v1h-1zM431 717h5v1h-5zM437 717h3v1h-3zM116 718h1v1h-1zM120 718h1v1h-1zM127 718h1v1h-1zM130 718h4v1h-4zM135 718h9v1h-9zM145 718h1v1h-1zM149 718h1v1h-1zM153 718h3v1h-3zM159 718h1v1h-1zM161 718h6v1h-6zM171 718h1v1h-1zM173 718h1v1h-1zM179 718h5v1h-5zM343 718h1v1h-1zM350 718h2v1h-2zM355 718h1v1h-1zM358 718h1v1h-1zM372 718h2v1h-2zM376 718h5v1h-5zM390 718h2v1h-2zM395 718h1v1h-1zM399 718h5v1h-5zM410 718h2v1h-2zM413 718h3v1h-3zM417 718h1v1h-1zM422 718h2v1h-2zM428 718h2v1h-2zM437 718h2v1h-2zM113 719h5v1h-5zM124 719h1v1h-1zM126 719h6v1h-6zM135 719h3v1h-3zM139 719h1v1h-1zM141 719h1v1h-1zM143 719h5v1h-5zM149 719h1v1h-1zM152 719h3v1h-3zM157 719h9v1h-9zM171 719h1v1h-1zM174 719h2v1h-2zM179 719h3v1h-3zM186 719h1v1h-1zM343 719h2v1h-2zM350 719h1v1h-1zM357 719h4v1h-4zM363 719h2v1h-2zM373 719h1v1h-1zM376 719h1v1h-1zM379 719h4v1h-4zM387 719h11v1h-11zM399 719h2v1h-2zM406 719h1v1h-1zM410 719h1v1h-1zM413 719h5v1h-5zM420 719h5v1h-5zM428 719h4v1h-4zM441 719h2v1h-2zM113 720h3v1h-3zM121 720h9v1h-9zM133 720h1v1h-1zM135 720h4v1h-4zM140 720h4v1h-4zM146 720h2v1h-2zM149 720h1v1h-1zM152 720h4v1h-4zM157 720h2v1h-2zM162 720h3v1h-3zM171 720h1v1h-1zM173 720h3v1h-3zM179 720h1v1h-1zM183 720h2v1h-2zM187 720h1v1h-1zM192 720h1v1h-1zM344 720h3v1h-3zM353 720h1v1h-1zM355 720h4v1h-4zM365 720h3v1h-3zM371 720h2v1h-2zM375 720h2v1h-2zM387 720h2v1h-2zM390 720h2v1h-2zM394 720h7v1h-7zM404 720h2v1h-2zM408 720h1v1h-1zM412 720h7v1h-7zM420 720h1v1h-1zM422 720h1v1h-1zM424 720h12v1h-12zM437 720h5v1h-5zM444 720h3v1h-3zM113 721h3v1h-3zM119 721h3v1h-3zM123 721h1v1h-1zM125 721h5v1h-5zM131 721h4v1h-4zM137 721h2v1h-2zM141 721h3v1h-3zM145 721h2v1h-2zM149 721h4v1h-4zM155 721h3v1h-3zM162 721h2v1h-2zM166 721h2v1h-2zM172 721h4v1h-4zM179 721h1v1h-1zM183 721h1v1h-1zM187 721h1v1h-1zM192 721h1v1h-1zM344 721h1v1h-1zM348 721h2v1h-2zM351 721h3v1h-3zM355 721h4v1h-4zM362 721h1v1h-1zM369 721h2v1h-2zM372 721h2v1h-2zM377 721h3v1h-3zM390 721h1v1h-1zM392 721h1v1h-1zM396 721h3v1h-3zM400 721h1v1h-1zM402 721h1v1h-1zM404 721h3v1h-3zM410 721h1v1h-1zM415 721h6v1h-6zM424 721h2v1h-2zM427 721h2v1h-2zM431 721h5v1h-5zM439 721h4v1h-4zM446 721h1v1h-1zM113 722h3v1h-3zM120 722h1v1h-1zM123 722h1v1h-1zM126 722h9v1h-9zM136 722h2v1h-2zM141 722h2v1h-2zM144 722h1v1h-1zM149 722h2v1h-2zM152 722h1v1h-1zM155 722h5v1h-5zM161 722h1v1h-1zM163 722h5v1h-5zM169 722h1v1h-1zM173 722h2v1h-2zM177 722h1v1h-1zM182 722h2v1h-2zM187 722h2v1h-2zM343 722h1v1h-1zM346 722h7v1h-7zM355 722h1v1h-1zM357 722h3v1h-3zM361 722h4v1h-4zM369 722h1v1h-1zM377 722h4v1h-4zM392 722h2v1h-2zM395 722h3v1h-3zM401 722h2v1h-2zM406 722h1v1h-1zM409 722h1v1h-1zM413 722h1v1h-1zM415 722h1v1h-1zM420 722h1v1h-1zM424 722h3v1h-3zM428 722h1v1h-1zM431 722h7v1h-7zM446 722h1v1h-1zM448 722h1v1h-1zM114 723h4v1h-4zM120 723h3v1h-3zM126 723h2v1h-2zM129 723h10v1h-10zM141 723h2v1h-2zM144 723h1v1h-1zM146 723h2v1h-2zM149 723h2v1h-2zM152 723h2v1h-2zM156 723h8v1h-8zM167 723h1v1h-1zM173 723h1v1h-1zM176 723h1v1h-1zM182 723h2v1h-2zM186 723h2v1h-2zM194 723h1v1h-1zM235 723h1v1h-1zM343 723h1v1h-1zM346 723h1v1h-1zM348 723h1v1h-1zM350 723h1v1h-1zM352 723h1v1h-1zM357 723h7v1h-7zM374 723h2v1h-2zM378 723h4v1h-4zM392 723h2v1h-2zM396 723h2v1h-2zM400 723h4v1h-4zM406 723h2v1h-2zM411 723h3v1h-3zM421 723h1v1h-1zM424 723h2v1h-2zM429 723h3v1h-3zM435 723h7v1h-7zM443 723h1v1h-1zM113 724h1v1h-1zM117 724h7v1h-7zM126 724h8v1h-8zM136 724h1v1h-1zM141 724h9v1h-9zM151 724h6v1h-6zM158 724h4v1h-4zM163 724h5v1h-5zM172 724h3v1h-3zM177 724h3v1h-3zM181 724h4v1h-4zM188 724h4v1h-4zM196 724h3v1h-3zM227 724h1v1h-1zM233 724h1v1h-1zM239 724h1v1h-1zM343 724h6v1h-6zM350 724h1v1h-1zM352 724h2v1h-2zM355 724h2v1h-2zM359 724h1v1h-1zM362 724h4v1h-4zM368 724h1v1h-1zM370 724h1v1h-1zM375 724h1v1h-1zM377 724h5v1h-5zM385 724h5v1h-5zM392 724h2v1h-2zM397 724h1v1h-1zM399 724h2v1h-2zM402 724h2v1h-2zM405 724h2v1h-2zM411 724h4v1h-4zM416 724h4v1h-4zM421 724h5v1h-5zM429 724h3v1h-3zM434 724h1v1h-1zM437 724h2v1h-2zM440 724h3v1h-3zM444 724h1v1h-1zM115 725h2v1h-2zM120 725h1v1h-1zM123 725h3v1h-3zM127 725h7v1h-7zM136 725h1v1h-1zM139 725h1v1h-1zM141 725h2v1h-2zM144 725h1v1h-1zM149 725h6v1h-6zM157 725h4v1h-4zM166 725h1v1h-1zM168 725h1v1h-1zM171 725h4v1h-4zM179 725h1v1h-1zM181 725h1v1h-1zM184 725h1v1h-1zM188 725h1v1h-1zM196 725h1v1h-1zM200 725h1v1h-1zM344 725h3v1h-3zM350 725h1v1h-1zM363 725h3v1h-3zM374 725h2v1h-2zM377 725h3v1h-3zM381 725h4v1h-4zM386 725h4v1h-4zM391 725h1v1h-1zM393 725h1v1h-1zM396 725h1v1h-1zM399 725h1v1h-1zM402 725h5v1h-5zM411 725h1v1h-1zM413 725h4v1h-4zM418 725h1v1h-1zM422 725h5v1h-5zM429 725h1v1h-1zM433 725h1v1h-1zM443 725h2v1h-2zM449 725h1v1h-1zM113 726h5v1h-5zM120 726h4v1h-4zM125 726h3v1h-3zM129 726h7v1h-7zM137 726h8v1h-8zM146 726h6v1h-6zM154 726h2v1h-2zM157 726h2v1h-2zM160 726h1v1h-1zM166 726h3v1h-3zM170 726h2v1h-2zM174 726h1v1h-1zM178 726h1v1h-1zM181 726h3v1h-3zM186 726h1v1h-1zM188 726h1v1h-1zM192 726h1v1h-1zM232 726h1v1h-1zM352 726h3v1h-3zM358 726h8v1h-8zM370 726h1v1h-1zM376 726h3v1h-3zM380 726h6v1h-6zM394 726h1v1h-1zM399 726h2v1h-2zM408 726h4v1h-4zM414 726h2v1h-2zM418 726h2v1h-2zM421 726h7v1h-7zM430 726h1v1h-1zM432 726h2v1h-2zM435 726h1v1h-1zM444 726h1v1h-1zM113 727h3v1h-3zM119 727h1v1h-1zM121 727h3v1h-3zM125 727h1v1h-1zM128 727h15v1h-15zM147 727h6v1h-6zM156 727h1v1h-1zM159 727h2v1h-2zM162 727h2v1h-2zM165 727h4v1h-4zM170 727h2v1h-2zM178 727h2v1h-2zM182 727h2v1h-2zM188 727h1v1h-1zM197 727h1v1h-1zM234 727h1v1h-1zM245 727h1v1h-1zM343 727h1v1h-1zM347 727h1v1h-1zM349 727h1v1h-1zM352 727h4v1h-4zM359 727h4v1h-4zM378 727h3v1h-3zM383 727h2v1h-2zM393 727h3v1h-3zM402 727h1v1h-1zM406 727h1v1h-1zM411 727h3v1h-3zM416 727h2v1h-2zM419 727h1v1h-1zM424 727h2v1h-2zM427 727h1v1h-1zM430 727h6v1h-6zM439 727h3v1h-3zM444 727h1v1h-1zM446 727h1v1h-1zM449 727h1v1h-1zM114 728h3v1h-3zM118 728h2v1h-2zM122 728h2v1h-2zM126 728h1v1h-1zM128 728h8v1h-8zM137 728h6v1h-6zM144 728h1v1h-1zM146 728h1v1h-1zM148 728h5v1h-5zM159 728h3v1h-3zM163 728h4v1h-4zM168 728h3v1h-3zM176 728h1v1h-1zM178 728h1v1h-1zM181 728h2v1h-2zM188 728h1v1h-1zM193 728h1v1h-1zM201 728h1v1h-1zM224 728h1v1h-1zM343 728h2v1h-2zM349 728h1v1h-1zM352 728h3v1h-3zM356 728h7v1h-7zM367 728h1v1h-1zM373 728h1v1h-1zM380 728h1v1h-1zM383 728h2v1h-2zM394 728h2v1h-2zM397 728h3v1h-3zM401 728h4v1h-4zM406 728h1v1h-1zM408 728h1v1h-1zM411 728h3v1h-3zM416 728h2v1h-2zM419 728h2v1h-2zM425 728h1v1h-1zM427 728h1v1h-1zM431 728h1v1h-1zM434 728h1v1h-1zM440 728h3v1h-3zM445 728h2v1h-2zM114 729h6v1h-6zM121 729h2v1h-2zM124 729h2v1h-2zM127 729h5v1h-5zM133 729h2v1h-2zM137 729h5v1h-5zM143 729h5v1h-5zM151 729h2v1h-2zM155 729h3v1h-3zM159 729h2v1h-2zM164 729h5v1h-5zM170 729h2v1h-2zM174 729h1v1h-1zM176 729h1v1h-1zM182 729h1v1h-1zM186 729h4v1h-4zM197 729h1v1h-1zM343 729h2v1h-2zM347 729h1v1h-1zM351 729h2v1h-2zM354 729h1v1h-1zM356 729h7v1h-7zM380 729h1v1h-1zM383 729h5v1h-5zM389 729h2v1h-2zM393 729h4v1h-4zM402 729h2v1h-2zM408 729h2v1h-2zM412 729h1v1h-1zM415 729h2v1h-2zM424 729h1v1h-1zM426 729h2v1h-2zM434 729h1v1h-1zM436 729h2v1h-2zM113 730h3v1h-3zM117 730h2v1h-2zM121 730h1v1h-1zM125 730h6v1h-6zM132 730h3v1h-3zM137 730h7v1h-7zM145 730h2v1h-2zM149 730h2v1h-2zM159 730h2v1h-2zM163 730h2v1h-2zM168 730h2v1h-2zM173 730h3v1h-3zM177 730h1v1h-1zM179 730h3v1h-3zM189 730h2v1h-2zM194 730h2v1h-2zM215 730h1v1h-1zM343 730h2v1h-2zM348 730h1v1h-1zM351 730h1v1h-1zM354 730h2v1h-2zM357 730h2v1h-2zM360 730h3v1h-3zM368 730h1v1h-1zM376 730h11v1h-11zM393 730h4v1h-4zM402 730h1v1h-1zM404 730h1v1h-1zM409 730h3v1h-3zM417 730h2v1h-2zM423 730h4v1h-4zM428 730h1v1h-1zM430 730h1v1h-1zM432 730h1v1h-1zM435 730h2v1h-2zM440 730h1v1h-1zM454 730h1v1h-1zM113 731h9v1h-9zM123 731h1v1h-1zM125 731h6v1h-6zM132 731h3v1h-3zM136 731h1v1h-1zM138 731h8v1h-8zM149 731h3v1h-3zM153 731h2v1h-2zM156 731h2v1h-2zM160 731h5v1h-5zM168 731h3v1h-3zM173 731h4v1h-4zM179 731h4v1h-4zM186 731h1v1h-1zM188 731h2v1h-2zM191 731h1v1h-1zM194 731h2v1h-2zM343 731h3v1h-3zM347 731h2v1h-2zM353 731h1v1h-1zM357 731h3v1h-3zM361 731h4v1h-4zM369 731h1v1h-1zM375 731h1v1h-1zM378 731h5v1h-5zM385 731h3v1h-3zM398 731h1v1h-1zM401 731h2v1h-2zM409 731h3v1h-3zM416 731h1v1h-1zM418 731h2v1h-2zM422 731h3v1h-3zM429 731h4v1h-4zM441 731h1v1h-1zM115 732h2v1h-2zM119 732h4v1h-4zM127 732h2v1h-2zM130 732h7v1h-7zM138 732h1v1h-1zM140 732h1v1h-1zM143 732h1v1h-1zM145 732h1v1h-1zM151 732h1v1h-1zM153 732h2v1h-2zM156 732h3v1h-3zM160 732h11v1h-11zM173 732h3v1h-3zM180 732h1v1h-1zM185 732h10v1h-10zM210 732h1v1h-1zM343 732h3v1h-3zM348 732h1v1h-1zM352 732h4v1h-4zM357 732h1v1h-1zM359 732h2v1h-2zM363 732h3v1h-3zM370 732h1v1h-1zM375 732h1v1h-1zM377 732h2v1h-2zM380 732h3v1h-3zM387 732h1v1h-1zM389 732h2v1h-2zM397 732h6v1h-6zM404 732h4v1h-4zM409 732h2v1h-2zM412 732h1v1h-1zM414 732h2v1h-2zM419 732h2v1h-2zM422 732h4v1h-4zM429 732h4v1h-4zM437 732h2v1h-2zM440 732h4v1h-4zM113 733h3v1h-3zM120 733h4v1h-4zM128 733h4v1h-4zM133 733h2v1h-2zM136 733h6v1h-6zM145 733h1v1h-1zM147 733h4v1h-4zM153 733h8v1h-8zM163 733h7v1h-7zM171 733h6v1h-6zM180 733h1v1h-1zM183 733h1v1h-1zM186 733h6v1h-6zM212 733h1v1h-1zM343 733h1v1h-1zM345 733h2v1h-2zM350 733h4v1h-4zM355 733h4v1h-4zM360 733h2v1h-2zM363 733h3v1h-3zM378 733h7v1h-7zM386 733h4v1h-4zM395 733h1v1h-1zM398 733h6v1h-6zM405 733h1v1h-1zM409 733h4v1h-4zM415 733h3v1h-3zM424 733h3v1h-3zM429 733h1v1h-1zM431 733h2v1h-2zM434 733h1v1h-1zM437 733h1v1h-1zM441 733h1v1h-1zM443 733h2v1h-2zM113 734h5v1h-5zM121 734h3v1h-3zM127 734h17v1h-17zM145 734h3v1h-3zM150 734h8v1h-8zM160 734h1v1h-1zM162 734h8v1h-8zM172 734h1v1h-1zM174 734h1v1h-1zM178 734h1v1h-1zM194 734h1v1h-1zM224 734h1v1h-1zM232 734h1v1h-1zM343 734h1v1h-1zM348 734h4v1h-4zM355 734h1v1h-1zM357 734h2v1h-2zM362 734h2v1h-2zM368 734h2v1h-2zM374 734h2v1h-2zM378 734h3v1h-3zM382 734h1v1h-1zM386 734h1v1h-1zM388 734h3v1h-3zM394 734h1v1h-1zM398 734h8v1h-8zM409 734h1v1h-1zM411 734h3v1h-3zM415 734h1v1h-1zM417 734h4v1h-4zM424 734h1v1h-1zM426 734h4v1h-4zM432 734h2v1h-2zM440 734h2v1h-2zM444 734h1v1h-1zM113 735h4v1h-4zM122 735h8v1h-8zM134 735h2v1h-2zM138 735h7v1h-7zM146 735h1v1h-1zM149 735h4v1h-4zM155 735h1v1h-1zM159 735h2v1h-2zM162 735h2v1h-2zM165 735h3v1h-3zM171 735h2v1h-2zM176 735h2v1h-2zM184 735h2v1h-2zM189 735h1v1h-1zM194 735h3v1h-3zM199 735h1v1h-1zM232 735h1v1h-1zM241 735h2v1h-2zM343 735h1v1h-1zM348 735h1v1h-1zM355 735h1v1h-1zM358 735h3v1h-3zM362 735h3v1h-3zM370 735h2v1h-2zM374 735h3v1h-3zM381 735h3v1h-3zM386 735h2v1h-2zM389 735h2v1h-2zM394 735h1v1h-1zM402 735h2v1h-2zM406 735h1v1h-1zM411 735h5v1h-5zM419 735h1v1h-1zM422 735h1v1h-1zM424 735h3v1h-3zM436 735h1v1h-1zM438 735h1v1h-1zM440 735h4v1h-4zM450 735h1v1h-1zM113 736h4v1h-4zM118 736h1v1h-1zM121 736h2v1h-2zM124 736h6v1h-6zM132 736h2v1h-2zM136 736h1v1h-1zM138 736h5v1h-5zM144 736h3v1h-3zM148 736h1v1h-1zM151 736h5v1h-5zM158 736h1v1h-1zM162 736h7v1h-7zM171 736h3v1h-3zM175 736h3v1h-3zM179 736h1v1h-1zM184 736h1v1h-1zM193 736h4v1h-4zM199 736h3v1h-3zM203 736h1v1h-1zM220 736h1v1h-1zM231 736h1v1h-1zM343 736h1v1h-1zM350 736h2v1h-2zM353 736h1v1h-1zM358 736h1v1h-1zM361 736h3v1h-3zM366 736h1v1h-1zM370 736h1v1h-1zM374 736h2v1h-2zM378 736h5v1h-5zM385 736h2v1h-2zM389 736h1v1h-1zM400 736h1v1h-1zM403 736h1v1h-1zM409 736h1v1h-1zM412 736h1v1h-1zM414 736h3v1h-3zM419 736h1v1h-1zM423 736h2v1h-2zM426 736h2v1h-2zM429 736h3v1h-3zM434 736h2v1h-2zM438 736h4v1h-4zM445 736h2v1h-2zM114 737h5v1h-5zM121 737h1v1h-1zM123 737h1v1h-1zM126 737h1v1h-1zM128 737h2v1h-2zM131 737h4v1h-4zM137 737h3v1h-3zM142 737h4v1h-4zM152 737h3v1h-3zM156 737h1v1h-1zM158 737h3v1h-3zM162 737h4v1h-4zM168 737h4v1h-4zM173 737h5v1h-5zM179 737h2v1h-2zM182 737h3v1h-3zM192 737h2v1h-2zM201 737h1v1h-1zM213 737h1v1h-1zM230 737h1v1h-1zM343 737h1v1h-1zM345 737h1v1h-1zM350 737h1v1h-1zM353 737h4v1h-4zM358 737h1v1h-1zM360 737h4v1h-4zM365 737h1v1h-1zM374 737h1v1h-1zM380 737h8v1h-8zM389 737h3v1h-3zM395 737h2v1h-2zM399 737h2v1h-2zM402 737h1v1h-1zM414 737h7v1h-7zM422 737h2v1h-2zM429 737h1v1h-1zM434 737h2v1h-2zM446 737h2v1h-2zM115 738h1v1h-1zM120 738h2v1h-2zM123 738h12v1h-12zM138 738h2v1h-2zM141 738h1v1h-1zM144 738h2v1h-2zM148 738h3v1h-3zM152 738h3v1h-3zM157 738h2v1h-2zM161 738h6v1h-6zM169 738h2v1h-2zM180 738h1v1h-1zM184 738h5v1h-5zM191 738h3v1h-3zM226 738h1v1h-1zM239 738h1v1h-1zM351 738h2v1h-2zM356 738h6v1h-6zM363 738h1v1h-1zM380 738h2v1h-2zM383 738h3v1h-3zM390 738h1v1h-1zM397 738h6v1h-6zM404 738h2v1h-2zM407 738h1v1h-1zM409 738h4v1h-4zM414 738h1v1h-1zM416 738h4v1h-4zM421 738h1v1h-1zM426 738h2v1h-2zM433 738h3v1h-3zM113 739h3v1h-3zM121 739h1v1h-1zM123 739h6v1h-6zM131 739h1v1h-1zM136 739h2v1h-2zM139 739h1v1h-1zM144 739h3v1h-3zM148 739h8v1h-8zM162 739h7v1h-7zM171 739h2v1h-2zM175 739h3v1h-3zM184 739h1v1h-1zM187 739h2v1h-2zM195 739h1v1h-1zM222 739h1v1h-1zM343 739h1v1h-1zM351 739h2v1h-2zM357 739h1v1h-1zM359 739h2v1h-2zM369 739h2v1h-2zM374 739h1v1h-1zM378 739h3v1h-3zM383 739h1v1h-1zM387 739h1v1h-1zM390 739h1v1h-1zM393 739h4v1h-4zM400 739h3v1h-3zM404 739h2v1h-2zM407 739h8v1h-8zM416 739h5v1h-5zM422 739h6v1h-6zM429 739h2v1h-2zM435 739h3v1h-3zM441 739h1v1h-1zM114 740h2v1h-2zM123 740h3v1h-3zM131 740h3v1h-3zM136 740h7v1h-7zM144 740h6v1h-6zM151 740h3v1h-3zM155 740h6v1h-6zM164 740h3v1h-3zM171 740h1v1h-1zM192 740h1v1h-1zM343 740h3v1h-3zM350 740h6v1h-6zM357 740h1v1h-1zM362 740h1v1h-1zM368 740h2v1h-2zM375 740h1v1h-1zM378 740h1v1h-1zM380 740h1v1h-1zM387 740h2v1h-2zM393 740h3v1h-3zM398 740h3v1h-3zM404 740h1v1h-1zM407 740h2v1h-2zM412 740h2v1h-2zM416 740h1v1h-1zM420 740h1v1h-1zM422 740h2v1h-2zM425 740h2v1h-2zM435 740h1v1h-1zM437 740h3v1h-3zM114 741h2v1h-2zM122 741h5v1h-5zM133 741h3v1h-3zM137 741h5v1h-5zM143 741h3v1h-3zM147 741h1v1h-1zM151 741h9v1h-9zM175 741h1v1h-1zM184 741h1v1h-1zM189 741h5v1h-5zM219 741h2v1h-2zM343 741h4v1h-4zM353 741h2v1h-2zM356 741h2v1h-2zM359 741h1v1h-1zM361 741h2v1h-2zM368 741h2v1h-2zM373 741h2v1h-2zM380 741h3v1h-3zM386 741h4v1h-4zM392 741h1v1h-1zM395 741h1v1h-1zM398 741h3v1h-3zM402 741h3v1h-3zM408 741h1v1h-1zM411 741h1v1h-1zM413 741h1v1h-1zM415 741h1v1h-1zM418 741h2v1h-2zM424 741h4v1h-4zM429 741h1v1h-1zM432 741h2v1h-2zM435 741h1v1h-1zM437 741h3v1h-3zM113 742h2v1h-2zM118 742h1v1h-1zM124 742h2v1h-2zM133 742h2v1h-2zM138 742h1v1h-1zM141 742h4v1h-4zM147 742h3v1h-3zM152 742h3v1h-3zM156 742h2v1h-2zM163 742h2v1h-2zM166 742h1v1h-1zM170 742h1v1h-1zM175 742h1v1h-1zM178 742h1v1h-1zM182 742h1v1h-1zM189 742h2v1h-2zM225 742h1v1h-1zM227 742h1v1h-1zM343 742h3v1h-3zM347 742h5v1h-5zM356 742h2v1h-2zM361 742h1v1h-1zM371 742h4v1h-4zM377 742h1v1h-1zM380 742h2v1h-2zM385 742h1v1h-1zM389 742h1v1h-1zM393 742h1v1h-1zM395 742h3v1h-3zM399 742h5v1h-5zM407 742h5v1h-5zM413 742h3v1h-3zM420 742h2v1h-2zM423 742h8v1h-8zM433 742h2v1h-2zM438 742h2v1h-2zM441 742h1v1h-1zM113 743h2v1h-2zM125 743h2v1h-2zM133 743h1v1h-1zM136 743h1v1h-1zM143 743h1v1h-1zM146 743h1v1h-1zM148 743h1v1h-1zM153 743h4v1h-4zM164 743h2v1h-2zM171 743h1v1h-1zM175 743h1v1h-1zM189 743h1v1h-1zM223 743h3v1h-3zM233 743h1v1h-1zM344 743h11v1h-11zM360 743h2v1h-2zM367 743h1v1h-1zM373 743h1v1h-1zM377 743h2v1h-2zM384 743h1v1h-1zM393 743h1v1h-1zM396 743h1v1h-1zM399 743h1v1h-1zM401 743h1v1h-1zM407 743h8v1h-8zM418 743h1v1h-1zM420 743h11v1h-11zM434 743h2v1h-2zM437 743h2v1h-2zM115 744h1v1h-1zM125 744h3v1h-3zM129 744h1v1h-1zM131 744h1v1h-1zM141 744h4v1h-4zM150 744h2v1h-2zM153 744h4v1h-4zM158 744h1v1h-1zM164 744h2v1h-2zM184 744h3v1h-3zM189 744h1v1h-1zM343 744h4v1h-4zM348 744h3v1h-3zM354 744h1v1h-1zM358 744h2v1h-2zM362 744h2v1h-2zM375 744h1v1h-1zM377 744h3v1h-3zM389 744h1v1h-1zM395 744h1v1h-1zM398 744h4v1h-4zM408 744h5v1h-5zM415 744h2v1h-2zM420 744h1v1h-1zM424 744h1v1h-1zM426 744h2v1h-2zM430 744h3v1h-3zM434 744h2v1h-2zM437 744h2v1h-2zM443 744h1v1h-1zM125 745h5v1h-5zM134 745h2v1h-2zM138 745h2v1h-2zM141 745h1v1h-1zM143 745h1v1h-1zM148 745h2v1h-2zM152 745h1v1h-1zM154 745h2v1h-2zM169 745h2v1h-2zM179 745h1v1h-1zM184 745h1v1h-1zM190 745h1v1h-1zM221 745h1v1h-1zM236 745h1v1h-1zM243 745h1v1h-1zM343 745h1v1h-1zM351 745h1v1h-1zM354 745h2v1h-2zM358 745h2v1h-2zM370 745h2v1h-2zM384 745h1v1h-1zM389 745h2v1h-2zM397 745h6v1h-6zM406 745h5v1h-5zM413 745h1v1h-1zM418 745h1v1h-1zM420 745h1v1h-1zM424 745h4v1h-4zM432 745h1v1h-1zM443 745h1v1h-1zM127 746h2v1h-2zM133 746h1v1h-1zM135 746h7v1h-7zM145 746h5v1h-5zM153 746h3v1h-3zM176 746h2v1h-2zM184 746h1v1h-1zM343 746h1v1h-1zM349 746h1v1h-1zM352 746h1v1h-1zM355 746h2v1h-2zM358 746h2v1h-2zM401 746h3v1h-3zM406 746h1v1h-1zM408 746h1v1h-1zM416 746h12v1h-12zM432 746h2v1h-2zM116 747h1v1h-1zM127 747h2v1h-2zM136 747h6v1h-6zM146 747h5v1h-5zM153 747h2v1h-2zM158 747h1v1h-1zM172 747h2v1h-2zM177 747h1v1h-1zM209 747h1v1h-1zM234 747h1v1h-1zM353 747h1v1h-1zM355 747h2v1h-2zM358 747h2v1h-2zM392 747h1v1h-1zM397 747h1v1h-1zM403 747h1v1h-1zM405 747h2v1h-2zM413 747h1v1h-1zM416 747h2v1h-2zM420 747h4v1h-4zM428 747h1v1h-1zM136 748h5v1h-5zM143 748h1v1h-1zM145 748h6v1h-6zM209 748h1v1h-1zM222 748h1v1h-1zM355 748h1v1h-1zM357 748h1v1h-1zM359 748h1v1h-1zM367 748h1v1h-1zM380 748h2v1h-2zM397 748h1v1h-1zM405 748h1v1h-1zM412 748h3v1h-3zM417 748h1v1h-1zM134 749h1v1h-1zM138 749h1v1h-1zM140 749h4v1h-4zM146 749h1v1h-1zM159 749h1v1h-1zM161 749h2v1h-2zM168 749h2v1h-2zM218 749h2v1h-2zM232 749h1v1h-1zM344 749h1v1h-1zM361 749h1v1h-1zM398 749h1v1h-1zM407 749h2v1h-2zM412 749h1v1h-1zM414 749h1v1h-1zM419 749h2v1h-2zM126 750h1v1h-1zM140 750h4v1h-4zM152 750h1v1h-1zM163 750h2v1h-2zM167 750h1v1h-1zM184 750h1v1h-1zM228 750h1v1h-1zM351 750h1v1h-1zM356 750h1v1h-1zM398 750h1v1h-1zM403 750h1v1h-1zM412 750h1v1h-1zM127 751h2v1h-2zM133 751h2v1h-2zM140 751h1v1h-1zM158 751h1v1h-1zM163 751h1v1h-1zM167 751h1v1h-1zM227 751h2v1h-2zM350 751h2v1h-2zM366 751h1v1h-1zM412 751h1v1h-1zM427 751h2v1h-2zM115 752h1v1h-1zM137 752h1v1h-1zM158 752h1v1h-1zM169 752h1v1h-1zM171 752h1v1h-1zM174 752h1v1h-1zM228 752h1v1h-1zM360 752h1v1h-1zM140 753h1v1h-1zM149 753h2v1h-2zM158 753h2v1h-2zM166 753h1v1h-1zM371 753h1v1h-1zM391 753h1v1h-1zM402 753h3v1h-3zM415 753h1v1h-1zM158 754h3v1h-3zM216 754h1v1h-1zM403 754h1v1h-1zM405 754h1v1h-1zM415 754h2v1h-2zM154 755h1v1h-1zM377 755h1v1h-1zM390 755h1v1h-1zM397 755h1v1h-1zM161 756h1v1h-1zM176 756h1v1h-1zM397 756h1v1h-1zM423 756h1v1h-1zM126 757h1v1h-1zM135 757h2v1h-2zM397 757h1v1h-1zM413 757h1v1h-1zM396 758h1v1h-1zM401 758h1v1h-1zM375 759h1v1h-1zM380 761h3v1h-3zM432 762h1v1h-1zM446 762h1v1h-1zM430 763h1v1h-1zM433 763h1v1h-1zM440 763h2v1h-2zM443 763h1v1h-1zM446 763h1v1h-1zM432 764h2v1h-2zM444 764h1v1h-1zM157 765h1v1h-1zM432 765h2v1h-2zM441 765h1v1h-1zM129 766h2v1h-2zM431 766h2v1h-2zM129 767h1v1h-1zM169 767h1v1h-1zM177 767h2v1h-2zM431 767h1v1h-1zM145 768h1v1h-1zM182 768h2v1h-2zM431 768h1v1h-1zM440 768h2v1h-2zM443 768h1v1h-1zM137 769h1v1h-1zM157 769h2v1h-2zM205 769h1v1h-1zM431 769h1v1h-1zM439 769h5v1h-5zM456 769h1v1h-1zM115 770h1v1h-1zM120 770h1v1h-1zM160 770h1v1h-1zM436 770h1v1h-1zM442 770h1v1h-1zM453 770h1v1h-1zM458 770h1v1h-1zM147 771h1v1h-1zM176 771h1v1h-1zM126 772h2v1h-2zM441 772h2v1h-2zM447 772h2v1h-2zM450 772h2v1h-2zM153 773h1v1h-1zM449 773h1v1h-1zM144 774h1v1h-1zM146 774h1v1h-1zM152 774h1v1h-1zM179 774h2v1h-2zM189 774h2v1h-2zM434 774h3v1h-3zM441 774h2v1h-2zM447 774h3v1h-3zM457 774h2v1h-2zM128 775h1v1h-1zM158 775h1v1h-1zM195 775h1v1h-1zM199 775h1v1h-1zM429 775h1v1h-1zM436 775h1v1h-1zM439 775h4v1h-4zM444 775h1v1h-1zM447 775h1v1h-1zM158 776h1v1h-1zM193 776h3v1h-3zM426 776h1v1h-1zM441 776h2v1h-2zM448 776h1v1h-1zM453 776h1v1h-1zM147 777h1v1h-1zM159 777h1v1h-1zM198 777h2v1h-2zM427 777h2v1h-2zM441 777h3v1h-3zM445 777h1v1h-1zM452 777h1v1h-1zM137 778h2v1h-2zM422 778h1v1h-1zM427 778h3v1h-3zM440 778h6v1h-6zM136 779h3v1h-3zM146 779h1v1h-1zM156 779h1v1h-1zM175 779h4v1h-4zM190 779h1v1h-1zM198 779h2v1h-2zM423 779h1v1h-1zM434 779h1v1h-1zM439 779h1v1h-1zM441 779h3v1h-3zM116 780h2v1h-2zM132 780h1v1h-1zM144 780h1v1h-1zM152 780h1v1h-1zM159 780h2v1h-2zM165 780h1v1h-1zM190 780h1v1h-1zM198 780h1v1h-1zM441 780h1v1h-1zM450 780h4v1h-4zM115 781h1v1h-1zM117 781h1v1h-1zM132 781h1v1h-1zM135 781h1v1h-1zM157 781h1v1h-1zM159 781h3v1h-3zM165 781h1v1h-1zM167 781h1v1h-1zM421 781h1v1h-1zM431 781h1v1h-1zM438 781h1v1h-1zM447 781h1v1h-1zM449 781h3v1h-3zM454 781h1v1h-1zM459 781h1v1h-1zM131 782h1v1h-1zM134 782h2v1h-2zM139 782h2v1h-2zM142 782h3v1h-3zM161 782h1v1h-1zM164 782h1v1h-1zM173 782h2v1h-2zM176 782h1v1h-1zM179 782h2v1h-2zM183 782h3v1h-3zM427 782h1v1h-1zM431 782h1v1h-1zM437 782h1v1h-1zM451 782h1v1h-1zM454 782h2v1h-2zM457 782h1v1h-1zM114 783h1v1h-1zM142 783h3v1h-3zM158 783h2v1h-2zM161 783h2v1h-2zM164 783h1v1h-1zM170 783h1v1h-1zM172 783h2v1h-2zM176 783h2v1h-2zM185 783h1v1h-1zM193 783h1v1h-1zM423 783h1v1h-1zM429 783h3v1h-3zM435 783h2v1h-2zM453 783h1v1h-1zM133 784h1v1h-1zM153 784h1v1h-1zM156 784h1v1h-1zM159 784h4v1h-4zM166 784h1v1h-1zM177 784h3v1h-3zM185 784h1v1h-1zM193 784h1v1h-1zM211 784h1v1h-1zM426 784h1v1h-1zM429 784h4v1h-4zM435 784h4v1h-4zM451 784h1v1h-1zM114 785h1v1h-1zM125 785h2v1h-2zM133 785h1v1h-1zM141 785h1v1h-1zM153 785h1v1h-1zM159 785h2v1h-2zM172 785h1v1h-1zM179 785h1v1h-1zM181 785h1v1h-1zM183 785h1v1h-1zM190 785h2v1h-2zM193 785h1v1h-1zM203 785h1v1h-1zM426 785h1v1h-1zM430 785h1v1h-1zM439 785h1v1h-1zM447 785h2v1h-2zM451 785h1v1h-1zM455 785h1v1h-1zM122 786h1v1h-1zM125 786h1v1h-1zM129 786h1v1h-1zM134 786h1v1h-1zM142 786h1v1h-1zM146 786h1v1h-1zM154 786h1v1h-1zM157 786h1v1h-1zM159 786h1v1h-1zM166 786h2v1h-2zM178 786h6v1h-6zM191 786h2v1h-2zM195 786h1v1h-1zM199 786h2v1h-2zM426 786h1v1h-1zM447 786h2v1h-2zM451 786h1v1h-1zM114 787h1v1h-1zM129 787h1v1h-1zM132 787h2v1h-2zM146 787h1v1h-1zM153 787h5v1h-5zM165 787h1v1h-1zM169 787h2v1h-2zM173 787h1v1h-1zM178 787h2v1h-2zM181 787h1v1h-1zM183 787h2v1h-2zM188 787h1v1h-1zM192 787h1v1h-1zM437 787h1v1h-1zM443 787h2v1h-2zM448 787h1v1h-1zM133 788h1v1h-1zM153 788h3v1h-3zM158 788h1v1h-1zM166 788h1v1h-1zM169 788h1v1h-1zM173 788h2v1h-2zM181 788h1v1h-1zM186 788h2v1h-2zM199 788h1v1h-1zM202 788h1v1h-1zM206 788h1v1h-1zM441 788h2v1h-2zM452 788h1v1h-1zM455 788h1v1h-1zM132 789h2v1h-2zM135 789h1v1h-1zM138 789h1v1h-1zM143 789h1v1h-1zM148 789h1v1h-1zM155 789h1v1h-1zM158 789h2v1h-2zM162 789h1v1h-1zM174 789h1v1h-1zM176 789h1v1h-1zM188 789h2v1h-2zM193 789h2v1h-2zM202 789h1v1h-1zM432 789h1v1h-1zM442 789h1v1h-1zM447 789h1v1h-1zM121 790h1v1h-1zM132 790h1v1h-1zM151 790h1v1h-1zM154 790h2v1h-2zM158 790h1v1h-1zM160 790h1v1h-1zM162 790h2v1h-2zM168 790h1v1h-1zM172 790h1v1h-1zM177 790h1v1h-1zM179 790h1v1h-1zM185 790h2v1h-2zM188 790h1v1h-1zM194 790h3v1h-3zM203 790h2v1h-2zM209 790h2v1h-2zM115 791h1v1h-1zM121 791h1v1h-1zM135 791h3v1h-3zM145 791h3v1h-3zM154 791h2v1h-2zM158 791h1v1h-1zM160 791h3v1h-3zM168 791h1v1h-1zM171 791h2v1h-2zM176 791h2v1h-2zM181 791h1v1h-1zM184 791h1v1h-1zM192 791h1v1h-1zM195 791h2v1h-2zM200 791h5v1h-5zM210 791h1v1h-1zM383 791h1v1h-1zM444 791h1v1h-1zM114 792h2v1h-2zM118 792h2v1h-2zM121 792h3v1h-3zM128 792h1v1h-1zM133 792h5v1h-5zM139 792h1v1h-1zM141 792h2v1h-2zM145 792h3v1h-3zM154 792h7v1h-7zM167 792h3v1h-3zM172 792h5v1h-5zM187 792h1v1h-1zM189 792h3v1h-3zM201 792h3v1h-3zM207 792h3v1h-3zM442 792h1v1h-1zM119 793h1v1h-1zM121 793h1v1h-1zM128 793h2v1h-2zM137 793h1v1h-1zM140 793h4v1h-4zM146 793h1v1h-1zM149 793h2v1h-2zM160 793h2v1h-2zM168 793h1v1h-1zM174 793h1v1h-1zM185 793h3v1h-3zM189 793h3v1h-3zM196 793h2v1h-2zM199 793h1v1h-1zM201 793h1v1h-1zM203 793h1v1h-1zM442 793h1v1h-1zM125 794h2v1h-2zM138 794h1v1h-1zM142 794h10v1h-10zM156 794h2v1h-2zM160 794h5v1h-5zM167 794h2v1h-2zM170 794h2v1h-2zM173 794h3v1h-3zM187 794h2v1h-2zM192 794h1v1h-1zM194 794h1v1h-1zM196 794h5v1h-5zM205 794h1v1h-1zM211 794h1v1h-1zM430 794h1v1h-1zM433 794h1v1h-1zM437 794h2v1h-2zM441 794h2v1h-2zM451 794h1v1h-1zM125 795h3v1h-3zM129 795h1v1h-1zM135 795h2v1h-2zM138 795h1v1h-1zM140 795h1v1h-1zM142 795h1v1h-1zM144 795h1v1h-1zM148 795h2v1h-2zM157 795h1v1h-1zM159 795h3v1h-3zM163 795h2v1h-2zM170 795h1v1h-1zM173 795h3v1h-3zM179 795h5v1h-5zM196 795h1v1h-1zM198 795h2v1h-2zM432 795h2v1h-2zM435 795h1v1h-1zM437 795h2v1h-2zM122 796h3v1h-3zM129 796h1v1h-1zM131 796h7v1h-7zM143 796h2v1h-2zM146 796h3v1h-3zM154 796h1v1h-1zM156 796h2v1h-2zM159 796h4v1h-4zM169 796h2v1h-2zM172 796h3v1h-3zM178 796h2v1h-2zM181 796h3v1h-3zM187 796h1v1h-1zM191 796h3v1h-3zM204 796h2v1h-2zM213 796h1v1h-1zM367 796h1v1h-1zM424 796h1v1h-1zM432 796h2v1h-2zM436 796h1v1h-1zM443 796h3v1h-3zM123 797h1v1h-1zM129 797h1v1h-1zM132 797h1v1h-1zM134 797h3v1h-3zM141 797h1v1h-1zM143 797h2v1h-2zM146 797h6v1h-6zM157 797h2v1h-2zM160 797h5v1h-5zM168 797h7v1h-7zM180 797h1v1h-1zM182 797h6v1h-6zM195 797h2v1h-2zM199 797h1v1h-1zM202 797h1v1h-1zM204 797h1v1h-1zM357 797h1v1h-1zM378 797h2v1h-2zM419 797h3v1h-3zM424 797h1v1h-1zM431 797h4v1h-4zM438 797h1v1h-1zM440 797h2v1h-2zM114 798h1v1h-1zM123 798h2v1h-2zM129 798h1v1h-1zM131 798h1v1h-1zM133 798h1v1h-1zM135 798h3v1h-3zM140 798h1v1h-1zM144 798h1v1h-1zM153 798h6v1h-6zM161 798h4v1h-4zM167 798h11v1h-11zM179 798h2v1h-2zM182 798h5v1h-5zM194 798h1v1h-1zM197 798h4v1h-4zM202 798h1v1h-1zM204 798h1v1h-1zM344 798h1v1h-1zM379 798h2v1h-2zM421 798h1v1h-1zM428 798h1v1h-1zM431 798h3v1h-3zM438 798h1v1h-1zM440 798h2v1h-2zM124 799h1v1h-1zM129 799h2v1h-2zM132 799h3v1h-3zM136 799h1v1h-1zM138 799h2v1h-2zM142 799h3v1h-3zM148 799h2v1h-2zM151 799h5v1h-5zM157 799h3v1h-3zM161 799h12v1h-12zM175 799h3v1h-3zM180 799h6v1h-6zM193 799h1v1h-1zM196 799h4v1h-4zM203 799h2v1h-2zM344 799h1v1h-1zM387 799h1v1h-1zM417 799h1v1h-1zM422 799h3v1h-3zM426 799h1v1h-1zM428 799h2v1h-2zM431 799h2v1h-2zM437 799h1v1h-1zM443 799h1v1h-1zM128 800h12v1h-12zM141 800h5v1h-5zM147 800h1v1h-1zM151 800h15v1h-15zM167 800h6v1h-6zM174 800h9v1h-9zM192 800h2v1h-2zM195 800h2v1h-2zM200 800h4v1h-4zM211 800h2v1h-2zM366 800h1v1h-1zM369 800h1v1h-1zM377 800h1v1h-1zM390 800h1v1h-1zM417 800h16v1h-16zM435 800h3v1h-3zM441 800h1v1h-1zM120 801h1v1h-1zM123 801h1v1h-1zM127 801h5v1h-5zM133 801h7v1h-7zM141 801h1v1h-1zM144 801h6v1h-6zM151 801h4v1h-4zM156 801h5v1h-5zM162 801h3v1h-3zM166 801h2v1h-2zM169 801h13v1h-13zM183 801h2v1h-2zM187 801h3v1h-3zM195 801h2v1h-2zM202 801h1v1h-1zM210 801h2v1h-2zM412 801h1v1h-1zM419 801h5v1h-5zM425 801h3v1h-3zM429 801h1v1h-1zM431 801h1v1h-1zM123 802h2v1h-2zM126 802h1v1h-1zM128 802h3v1h-3zM133 802h6v1h-6zM140 802h21v1h-21zM162 802h6v1h-6zM171 802h6v1h-6zM178 802h2v1h-2zM181 802h4v1h-4zM187 802h2v1h-2zM190 802h1v1h-1zM194 802h4v1h-4zM201 802h1v1h-1zM208 802h1v1h-1zM210 802h2v1h-2zM365 802h1v1h-1zM370 802h1v1h-1zM412 802h1v1h-1zM420 802h2v1h-2zM423 802h8v1h-8zM432 802h4v1h-4zM440 802h2v1h-2zM117 803h1v1h-1zM119 803h1v1h-1zM121 803h6v1h-6zM128 803h2v1h-2zM131 803h10v1h-10zM143 803h3v1h-3zM149 803h9v1h-9zM160 803h9v1h-9zM170 803h2v1h-2zM173 803h18v1h-18zM196 803h1v1h-1zM198 803h2v1h-2zM201 803h2v1h-2zM205 803h2v1h-2zM364 803h1v1h-1zM412 803h1v1h-1zM416 803h6v1h-6zM424 803h1v1h-1zM426 803h1v1h-1zM428 803h3v1h-3zM433 803h3v1h-3zM438 803h5v1h-5zM444 803h1v1h-1zM119 804h3v1h-3zM124 804h3v1h-3zM128 804h2v1h-2zM131 804h3v1h-3zM136 804h3v1h-3zM140 804h13v1h-13zM154 804h2v1h-2zM157 804h5v1h-5zM163 804h1v1h-1zM165 804h11v1h-11zM177 804h9v1h-9zM187 804h5v1h-5zM196 804h3v1h-3zM200 804h4v1h-4zM210 804h3v1h-3zM217 804h1v1h-1zM413 804h9v1h-9zM424 804h4v1h-4zM430 804h6v1h-6zM437 804h4v1h-4zM442 804h1v1h-1zM444 804h1v1h-1zM114 805h1v1h-1zM119 805h1v1h-1zM122 805h8v1h-8zM132 805h5v1h-5zM138 805h11v1h-11zM150 805h6v1h-6zM158 805h10v1h-10zM169 805h4v1h-4zM174 805h2v1h-2zM177 805h5v1h-5zM184 805h3v1h-3zM188 805h7v1h-7zM197 805h1v1h-1zM200 805h5v1h-5zM211 805h1v1h-1zM219 805h2v1h-2zM231 805h2v1h-2zM410 805h2v1h-2zM413 805h2v1h-2zM416 805h13v1h-13zM430 805h2v1h-2zM433 805h10v1h-10zM444 805h3v1h-3zM114 806h2v1h-2zM122 806h14v1h-14zM138 806h6v1h-6zM148 806h1v1h-1zM150 806h2v1h-2zM154 806h2v1h-2zM158 806h15v1h-15zM175 806h1v1h-1zM178 806h3v1h-3zM183 806h7v1h-7zM196 806h4v1h-4zM201 806h1v1h-1zM205 806h3v1h-3zM209 806h1v1h-1zM400 806h2v1h-2zM405 806h1v1h-1zM410 806h2v1h-2zM413 806h2v1h-2zM416 806h20v1h-20zM437 806h3v1h-3zM441 806h5v1h-5zM448 806h2v1h-2zM454 806h2v1h-2zM114 807h1v1h-1zM119 807h1v1h-1zM122 807h11v1h-11zM137 807h3v1h-3zM143 807h2v1h-2zM147 807h27v1h-27zM175 807h1v1h-1zM178 807h4v1h-4zM183 807h4v1h-4zM188 807h1v1h-1zM194 807h1v1h-1zM196 807h3v1h-3zM200 807h2v1h-2zM209 807h2v1h-2zM214 807h1v1h-1zM371 807h1v1h-1zM385 807h1v1h-1zM397 807h1v1h-1zM405 807h3v1h-3zM410 807h2v1h-2zM414 807h8v1h-8zM423 807h7v1h-7zM432 807h13v1h-13zM446 807h1v1h-1zM449 807h3v1h-3zM455 807h1v1h-1zM114 808h1v1h-1zM117 808h3v1h-3zM122 808h1v1h-1zM124 808h9v1h-9zM135 808h1v1h-1zM137 808h4v1h-4zM143 808h1v1h-1zM145 808h16v1h-16zM162 808h4v1h-4zM168 808h9v1h-9zM179 808h8v1h-8zM189 808h4v1h-4zM196 808h3v1h-3zM200 808h3v1h-3zM209 808h2v1h-2zM213 808h2v1h-2zM353 808h1v1h-1zM371 808h1v1h-1zM397 808h1v1h-1zM411 808h1v1h-1zM413 808h4v1h-4zM418 808h10v1h-10zM429 808h1v1h-1zM431 808h2v1h-2zM435 808h2v1h-2zM439 808h4v1h-4zM444 808h2v1h-2zM448 808h4v1h-4zM453 808h1v1h-1zM114 809h2v1h-2zM117 809h2v1h-2zM124 809h16v1h-16zM141 809h8v1h-8zM150 809h3v1h-3zM154 809h2v1h-2zM157 809h1v1h-1zM159 809h2v1h-2zM162 809h15v1h-15zM178 809h9v1h-9zM192 809h3v1h-3zM197 809h1v1h-1zM199 809h2v1h-2zM203 809h1v1h-1zM209 809h2v1h-2zM214 809h1v1h-1zM366 809h1v1h-1zM394 809h1v1h-1zM398 809h1v1h-1zM411 809h1v1h-1zM415 809h7v1h-7zM423 809h3v1h-3zM428 809h9v1h-9zM440 809h6v1h-6zM447 809h5v1h-5zM454 809h2v1h-2zM114 810h2v1h-2zM117 810h1v1h-1zM119 810h17v1h-17zM138 810h18v1h-18zM157 810h1v1h-1zM159 810h5v1h-5zM165 810h18v1h-18zM184 810h7v1h-7zM192 810h4v1h-4zM197 810h1v1h-1zM200 810h2v1h-2zM203 810h1v1h-1zM210 810h2v1h-2zM215 810h1v1h-1zM386 810h2v1h-2zM394 810h1v1h-1zM400 810h1v1h-1zM412 810h1v1h-1zM415 810h1v1h-1zM418 810h8v1h-8zM427 810h7v1h-7zM435 810h2v1h-2zM439 810h6v1h-6zM448 810h3v1h-3zM114 811h3v1h-3zM119 811h7v1h-7zM127 811h4v1h-4zM133 811h14v1h-14zM148 811h9v1h-9zM158 811h4v1h-4zM165 811h8v1h-8zM174 811h9v1h-9zM185 811h8v1h-8zM196 811h3v1h-3zM200 811h3v1h-3zM204 811h2v1h-2zM207 811h1v1h-1zM209 811h3v1h-3zM214 811h3v1h-3zM221 811h1v1h-1zM231 811h4v1h-4zM348 811h1v1h-1zM381 811h2v1h-2zM385 811h2v1h-2zM407 811h6v1h-6zM414 811h2v1h-2zM417 811h3v1h-3zM421 811h6v1h-6zM428 811h8v1h-8zM437 811h1v1h-1zM440 811h6v1h-6zM448 811h2v1h-2zM451 811h1v1h-1zM453 811h1v1h-1zM114 812h3v1h-3zM121 812h1v1h-1zM123 812h9v1h-9zM134 812h4v1h-4zM139 812h8v1h-8zM148 812h10v1h-10zM160 812h4v1h-4zM165 812h27v1h-27zM197 812h4v1h-4zM202 812h1v1h-1zM204 812h2v1h-2zM209 812h1v1h-1zM211 812h1v1h-1zM215 812h1v1h-1zM217 812h1v1h-1zM230 812h2v1h-2zM379 812h1v1h-1zM385 812h1v1h-1zM388 812h1v1h-1zM391 812h1v1h-1zM410 812h1v1h-1zM412 812h8v1h-8zM421 812h2v1h-2zM424 812h15v1h-15zM440 812h5v1h-5zM447 812h7v1h-7zM114 813h4v1h-4zM123 813h2v1h-2zM126 813h2v1h-2zM129 813h3v1h-3zM134 813h4v1h-4zM139 813h3v1h-3zM143 813h26v1h-26zM170 813h5v1h-5zM176 813h4v1h-4zM181 813h5v1h-5zM189 813h1v1h-1zM191 813h3v1h-3zM198 813h1v1h-1zM200 813h6v1h-6zM212 813h1v1h-1zM387 813h2v1h-2zM396 813h1v1h-1zM400 813h3v1h-3zM407 813h2v1h-2zM410 813h6v1h-6zM417 813h3v1h-3zM421 813h4v1h-4zM428 813h11v1h-11zM440 813h5v1h-5zM446 813h5v1h-5zM452 813h1v1h-1zM459 813h1v1h-1zM114 814h12v1h-12zM128 814h14v1h-14zM143 814h14v1h-14zM158 814h9v1h-9zM171 814h15v1h-15zM189 814h3v1h-3zM195 814h2v1h-2zM198 814h1v1h-1zM200 814h3v1h-3zM204 814h3v1h-3zM214 814h2v1h-2zM227 814h1v1h-1zM229 814h1v1h-1zM387 814h1v1h-1zM392 814h4v1h-4zM399 814h1v1h-1zM407 814h7v1h-7zM416 814h11v1h-11zM428 814h20v1h-20zM449 814h4v1h-4zM455 814h1v1h-1zM458 814h2v1h-2zM115 815h21v1h-21zM138 815h19v1h-19zM158 815h8v1h-8zM168 815h15v1h-15zM185 815h1v1h-1zM189 815h4v1h-4zM194 815h4v1h-4zM199 815h1v1h-1zM204 815h7v1h-7zM214 815h1v1h-1zM227 815h3v1h-3zM375 815h2v1h-2zM386 815h1v1h-1zM392 815h6v1h-6zM401 815h4v1h-4zM408 815h2v1h-2zM411 815h2v1h-2zM415 815h8v1h-8zM424 815h3v1h-3zM428 815h20v1h-20zM449 815h6v1h-6zM456 815h1v1h-1zM458 815h1v1h-1zM115 816h14v1h-14zM130 816h2v1h-2zM133 816h12v1h-12zM146 816h10v1h-10zM157 816h7v1h-7zM165 816h1v1h-1zM168 816h2v1h-2zM171 816h17v1h-17zM189 816h12v1h-12zM202 816h3v1h-3zM206 816h4v1h-4zM211 816h1v1h-1zM213 816h1v1h-1zM215 816h1v1h-1zM218 816h1v1h-1zM378 816h1v1h-1zM380 816h1v1h-1zM386 816h2v1h-2zM389 816h6v1h-6zM397 816h2v1h-2zM403 816h3v1h-3zM408 816h14v1h-14zM424 816h16v1h-16zM441 816h10v1h-10zM452 816h1v1h-1zM456 816h1v1h-1zM114 817h3v1h-3zM122 817h23v1h-23zM147 817h5v1h-5zM154 817h6v1h-6zM161 817h1v1h-1zM163 817h6v1h-6zM170 817h32v1h-32zM208 817h6v1h-6zM231 817h1v1h-1zM369 817h1v1h-1zM378 817h1v1h-1zM389 817h6v1h-6zM398 817h2v1h-2zM404 817h16v1h-16zM422 817h25v1h-25zM448 817h5v1h-5zM454 817h3v1h-3zM115 818h2v1h-2zM118 818h6v1h-6zM125 818h13v1h-13zM140 818h3v1h-3zM144 818h8v1h-8zM153 818h5v1h-5zM159 818h7v1h-7zM167 818h21v1h-21zM189 818h4v1h-4zM194 818h1v1h-1zM196 818h2v1h-2zM199 818h1v1h-1zM208 818h3v1h-3zM212 818h2v1h-2zM216 818h1v1h-1zM344 818h1v1h-1zM356 818h1v1h-1zM369 818h2v1h-2zM377 818h1v1h-1zM380 818h1v1h-1zM386 818h1v1h-1zM389 818h2v1h-2zM392 818h3v1h-3zM398 818h2v1h-2zM402 818h1v1h-1zM405 818h4v1h-4zM411 818h4v1h-4zM416 818h16v1h-16zM433 818h3v1h-3zM437 818h4v1h-4zM442 818h7v1h-7zM451 818h2v1h-2zM454 818h2v1h-2zM114 819h9v1h-9zM125 819h2v1h-2zM129 819h9v1h-9zM140 819h6v1h-6zM148 819h9v1h-9zM159 819h3v1h-3zM163 819h21v1h-21zM185 819h2v1h-2zM190 819h7v1h-7zM203 819h2v1h-2zM208 819h2v1h-2zM218 819h1v1h-1zM226 819h1v1h-1zM344 819h2v1h-2zM349 819h1v1h-1zM376 819h1v1h-1zM380 819h2v1h-2zM389 819h1v1h-1zM392 819h2v1h-2zM395 819h1v1h-1zM397 819h3v1h-3zM402 819h1v1h-1zM406 819h7v1h-7zM416 819h6v1h-6zM423 819h9v1h-9zM433 819h3v1h-3zM437 819h9v1h-9zM447 819h1v1h-1zM449 819h2v1h-2zM457 819h1v1h-1zM114 820h3v1h-3zM118 820h5v1h-5zM124 820h11v1h-11zM136 820h2v1h-2zM139 820h6v1h-6zM147 820h9v1h-9zM157 820h1v1h-1zM159 820h1v1h-1zM161 820h1v1h-1zM163 820h24v1h-24zM188 820h1v1h-1zM190 820h4v1h-4zM195 820h10v1h-10zM207 820h1v1h-1zM218 820h1v1h-1zM237 820h1v1h-1zM346 820h2v1h-2zM349 820h3v1h-3zM380 820h1v1h-1zM383 820h3v1h-3zM389 820h2v1h-2zM392 820h2v1h-2zM396 820h3v1h-3zM401 820h2v1h-2zM406 820h21v1h-21zM428 820h8v1h-8zM437 820h13v1h-13zM457 820h1v1h-1zM115 821h8v1h-8zM125 821h1v1h-1zM128 821h7v1h-7zM137 821h9v1h-9zM147 821h2v1h-2zM150 821h12v1h-12zM163 821h4v1h-4zM168 821h21v1h-21zM190 821h4v1h-4zM196 821h3v1h-3zM201 821h4v1h-4zM214 821h1v1h-1zM217 821h2v1h-2zM226 821h1v1h-1zM345 821h5v1h-5zM353 821h1v1h-1zM382 821h1v1h-1zM385 821h1v1h-1zM391 821h1v1h-1zM393 821h1v1h-1zM402 821h2v1h-2zM406 821h1v1h-1zM408 821h11v1h-11zM420 821h5v1h-5zM426 821h7v1h-7zM434 821h14v1h-14zM450 821h2v1h-2zM453 821h2v1h-2zM458 821h2v1h-2zM114 822h21v1h-21zM136 822h11v1h-11zM150 822h12v1h-12zM165 822h5v1h-5zM171 822h3v1h-3zM177 822h15v1h-15zM193 822h2v1h-2zM200 822h6v1h-6zM210 822h2v1h-2zM214 822h1v1h-1zM219 822h1v1h-1zM344 822h8v1h-8zM371 822h1v1h-1zM382 822h1v1h-1zM385 822h1v1h-1zM400 822h1v1h-1zM411 822h7v1h-7zM419 822h6v1h-6zM426 822h2v1h-2zM429 822h21v1h-21zM453 822h2v1h-2zM114 823h1v1h-1zM119 823h1v1h-1zM122 823h4v1h-4zM127 823h7v1h-7zM136 823h2v1h-2zM139 823h6v1h-6zM147 823h1v1h-1zM149 823h13v1h-13zM163 823h5v1h-5zM169 823h6v1h-6zM177 823h7v1h-7zM185 823h3v1h-3zM189 823h8v1h-8zM199 823h2v1h-2zM203 823h2v1h-2zM208 823h4v1h-4zM214 823h1v1h-1zM220 823h1v1h-1zM344 823h6v1h-6zM354 823h1v1h-1zM383 823h3v1h-3zM389 823h1v1h-1zM392 823h1v1h-1zM394 823h2v1h-2zM406 823h1v1h-1zM410 823h8v1h-8zM420 823h1v1h-1zM422 823h6v1h-6zM429 823h4v1h-4zM435 823h15v1h-15zM452 823h3v1h-3zM114 824h7v1h-7zM124 824h9v1h-9zM134 824h3v1h-3zM139 824h7v1h-7zM147 824h2v1h-2zM150 824h6v1h-6zM157 824h3v1h-3zM163 824h5v1h-5zM170 824h6v1h-6zM177 824h12v1h-12zM191 824h3v1h-3zM199 824h1v1h-1zM203 824h2v1h-2zM206 824h1v1h-1zM214 824h1v1h-1zM231 824h1v1h-1zM344 824h1v1h-1zM346 824h7v1h-7zM354 824h1v1h-1zM375 824h1v1h-1zM378 824h1v1h-1zM381 824h4v1h-4zM392 824h3v1h-3zM402 824h1v1h-1zM406 824h4v1h-4zM411 824h10v1h-10zM424 824h4v1h-4zM429 824h4v1h-4zM434 824h5v1h-5zM440 824h2v1h-2zM443 824h10v1h-10zM454 824h2v1h-2zM114 825h7v1h-7zM123 825h2v1h-2zM126 825h3v1h-3zM131 825h1v1h-1zM134 825h10v1h-10zM145 825h9v1h-9zM156 825h3v1h-3zM162 825h14v1h-14zM177 825h12v1h-12zM190 825h4v1h-4zM195 825h1v1h-1zM198 825h1v1h-1zM200 825h1v1h-1zM202 825h2v1h-2zM205 825h1v1h-1zM209 825h1v1h-1zM211 825h1v1h-1zM344 825h11v1h-11zM378 825h1v1h-1zM381 825h2v1h-2zM386 825h2v1h-2zM397 825h1v1h-1zM401 825h2v1h-2zM405 825h3v1h-3zM409 825h3v1h-3zM413 825h2v1h-2zM416 825h3v1h-3zM420 825h2v1h-2zM423 825h3v1h-3zM428 825h5v1h-5zM436 825h9v1h-9zM447 825h6v1h-6zM454 825h1v1h-1zM114 826h7v1h-7zM123 826h3v1h-3zM128 826h4v1h-4zM133 826h21v1h-21zM156 826h3v1h-3zM162 826h27v1h-27zM194 826h2v1h-2zM200 826h2v1h-2zM203 826h1v1h-1zM206 826h1v1h-1zM208 826h2v1h-2zM215 826h1v1h-1zM231 826h2v1h-2zM344 826h6v1h-6zM351 826h1v1h-1zM371 826h1v1h-1zM374 826h1v1h-1zM380 826h2v1h-2zM383 826h5v1h-5zM394 826h1v1h-1zM397 826h1v1h-1zM401 826h1v1h-1zM404 826h3v1h-3zM408 826h9v1h-9zM419 826h12v1h-12zM432 826h13v1h-13zM446 826h5v1h-5zM454 826h2v1h-2zM114 827h7v1h-7zM122 827h3v1h-3zM128 827h3v1h-3zM132 827h6v1h-6zM140 827h2v1h-2zM144 827h3v1h-3zM148 827h1v1h-1zM150 827h4v1h-4zM156 827h6v1h-6zM163 827h5v1h-5zM169 827h20v1h-20zM190 827h1v1h-1zM192 827h1v1h-1zM194 827h2v1h-2zM200 827h1v1h-1zM204 827h3v1h-3zM208 827h1v1h-1zM212 827h1v1h-1zM231 827h2v1h-2zM344 827h8v1h-8zM353 827h1v1h-1zM371 827h1v1h-1zM373 827h2v1h-2zM376 827h2v1h-2zM383 827h3v1h-3zM389 827h3v1h-3zM394 827h1v1h-1zM399 827h1v1h-1zM401 827h1v1h-1zM407 827h7v1h-7zM415 827h13v1h-13zM429 827h1v1h-1zM432 827h12v1h-12zM446 827h6v1h-6zM456 827h2v1h-2zM114 828h7v1h-7zM122 828h3v1h-3zM128 828h3v1h-3zM132 828h5v1h-5zM138 828h8v1h-8zM151 828h16v1h-16zM169 828h2v1h-2zM172 828h5v1h-5zM178 828h2v1h-2zM181 828h7v1h-7zM190 828h6v1h-6zM198 828h1v1h-1zM200 828h1v1h-1zM205 828h3v1h-3zM209 828h1v1h-1zM211 828h3v1h-3zM231 828h1v1h-1zM344 828h1v1h-1zM346 828h8v1h-8zM371 828h3v1h-3zM376 828h2v1h-2zM384 828h2v1h-2zM393 828h6v1h-6zM402 828h2v1h-2zM411 828h2v1h-2zM417 828h11v1h-11zM429 828h1v1h-1zM431 828h20v1h-20zM452 828h3v1h-3zM456 828h2v1h-2zM114 829h3v1h-3zM118 829h9v1h-9zM128 829h14v1h-14zM143 829h6v1h-6zM151 829h8v1h-8zM161 829h5v1h-5zM169 829h4v1h-4zM174 829h14v1h-14zM189 829h1v1h-1zM191 829h1v1h-1zM194 829h1v1h-1zM198 829h3v1h-3zM205 829h3v1h-3zM209 829h8v1h-8zM344 829h3v1h-3zM348 829h6v1h-6zM378 829h1v1h-1zM380 829h1v1h-1zM383 829h1v1h-1zM389 829h3v1h-3zM394 829h1v1h-1zM396 829h1v1h-1zM398 829h2v1h-2zM405 829h1v1h-1zM407 829h2v1h-2zM411 829h2v1h-2zM414 829h37v1h-37zM453 829h2v1h-2zM457 829h1v1h-1zM114 830h3v1h-3zM118 830h1v1h-1zM120 830h6v1h-6zM127 830h11v1h-11zM139 830h3v1h-3zM143 830h1v1h-1zM145 830h14v1h-14zM161 830h5v1h-5zM167 830h13v1h-13zM181 830h7v1h-7zM190 830h3v1h-3zM194 830h1v1h-1zM196 830h1v1h-1zM198 830h2v1h-2zM204 830h5v1h-5zM210 830h4v1h-4zM215 830h3v1h-3zM225 830h1v1h-1zM345 830h10v1h-10zM362 830h1v1h-1zM376 830h3v1h-3zM381 830h1v1h-1zM383 830h1v1h-1zM387 830h2v1h-2zM390 830h3v1h-3zM394 830h1v1h-1zM396 830h2v1h-2zM399 830h2v1h-2zM405 830h1v1h-1zM407 830h1v1h-1zM409 830h4v1h-4zM414 830h14v1h-14zM429 830h3v1h-3zM433 830h11v1h-11zM445 830h7v1h-7zM114 831h5v1h-5zM120 831h16v1h-16zM140 831h4v1h-4zM145 831h11v1h-11zM157 831h9v1h-9zM169 831h20v1h-20zM192 831h3v1h-3zM196 831h4v1h-4zM206 831h2v1h-2zM209 831h4v1h-4zM233 831h1v1h-1zM345 831h3v1h-3zM350 831h3v1h-3zM354 831h1v1h-1zM370 831h1v1h-1zM372 831h1v1h-1zM376 831h2v1h-2zM382 831h1v1h-1zM386 831h1v1h-1zM399 831h1v1h-1zM407 831h1v1h-1zM409 831h4v1h-4zM414 831h37v1h-37zM453 831h1v1h-1zM114 832h3v1h-3zM119 832h3v1h-3zM125 832h3v1h-3zM129 832h7v1h-7zM139 832h10v1h-10zM151 832h1v1h-1zM154 832h1v1h-1zM156 832h1v1h-1zM158 832h12v1h-12zM172 832h2v1h-2zM175 832h4v1h-4zM180 832h3v1h-3zM184 832h4v1h-4zM190 832h6v1h-6zM209 832h1v1h-1zM212 832h1v1h-1zM219 832h1v1h-1zM345 832h7v1h-7zM354 832h2v1h-2zM380 832h1v1h-1zM386 832h2v1h-2zM394 832h2v1h-2zM399 832h2v1h-2zM404 832h1v1h-1zM406 832h3v1h-3zM410 832h1v1h-1zM412 832h16v1h-16zM429 832h13v1h-13zM443 832h8v1h-8zM453 832h2v1h-2zM114 833h4v1h-4zM119 833h3v1h-3zM125 833h26v1h-26zM152 833h1v1h-1zM154 833h3v1h-3zM158 833h6v1h-6zM165 833h5v1h-5zM172 833h4v1h-4zM177 833h7v1h-7zM185 833h1v1h-1zM189 833h4v1h-4zM195 833h2v1h-2zM201 833h3v1h-3zM210 833h2v1h-2zM219 833h1v1h-1zM345 833h4v1h-4zM351 833h1v1h-1zM353 833h4v1h-4zM358 833h1v1h-1zM363 833h2v1h-2zM373 833h1v1h-1zM376 833h1v1h-1zM380 833h1v1h-1zM391 833h1v1h-1zM393 833h3v1h-3zM400 833h5v1h-5zM408 833h1v1h-1zM412 833h8v1h-8zM421 833h29v1h-29zM454 833h1v1h-1zM114 834h5v1h-5zM120 834h1v1h-1zM125 834h9v1h-9zM135 834h6v1h-6zM144 834h6v1h-6zM153 834h22v1h-22zM178 834h8v1h-8zM188 834h3v1h-3zM195 834h2v1h-2zM198 834h1v1h-1zM201 834h4v1h-4zM209 834h2v1h-2zM221 834h1v1h-1zM345 834h1v1h-1zM347 834h2v1h-2zM352 834h4v1h-4zM358 834h10v1h-10zM371 834h2v1h-2zM376 834h2v1h-2zM379 834h1v1h-1zM382 834h3v1h-3zM387 834h1v1h-1zM393 834h3v1h-3zM401 834h1v1h-1zM403 834h6v1h-6zM417 834h3v1h-3zM421 834h30v1h-30zM114 835h3v1h-3zM118 835h6v1h-6zM126 835h6v1h-6zM133 835h8v1h-8zM144 835h33v1h-33zM180 835h2v1h-2zM183 835h4v1h-4zM188 835h3v1h-3zM196 835h1v1h-1zM198 835h2v1h-2zM208 835h2v1h-2zM220 835h1v1h-1zM345 835h1v1h-1zM347 835h4v1h-4zM352 835h2v1h-2zM355 835h1v1h-1zM357 835h2v1h-2zM360 835h4v1h-4zM366 835h3v1h-3zM371 835h1v1h-1zM379 835h1v1h-1zM382 835h3v1h-3zM387 835h1v1h-1zM395 835h2v1h-2zM402 835h3v1h-3zM407 835h1v1h-1zM413 835h8v1h-8zM422 835h4v1h-4zM427 835h2v1h-2zM432 835h7v1h-7zM440 835h5v1h-5zM447 835h4v1h-4zM453 835h1v1h-1zM114 836h2v1h-2zM120 836h4v1h-4zM125 836h22v1h-22zM148 836h13v1h-13zM162 836h12v1h-12zM175 836h8v1h-8zM185 836h1v1h-1zM188 836h5v1h-5zM196 836h3v1h-3zM201 836h1v1h-1zM208 836h1v1h-1zM220 836h1v1h-1zM345 836h2v1h-2zM348 836h6v1h-6zM357 836h1v1h-1zM362 836h1v1h-1zM364 836h2v1h-2zM367 836h1v1h-1zM378 836h1v1h-1zM380 836h1v1h-1zM383 836h5v1h-5zM390 836h1v1h-1zM393 836h6v1h-6zM400 836h5v1h-5zM407 836h2v1h-2zM410 836h7v1h-7zM420 836h2v1h-2zM423 836h1v1h-1zM427 836h2v1h-2zM430 836h9v1h-9zM440 836h5v1h-5zM446 836h3v1h-3zM450 836h2v1h-2zM453 836h1v1h-1zM121 837h6v1h-6zM128 837h5v1h-5zM134 837h12v1h-12zM147 837h12v1h-12zM160 837h4v1h-4zM167 837h4v1h-4zM172 837h2v1h-2zM175 837h4v1h-4zM185 837h2v1h-2zM188 837h2v1h-2zM196 837h3v1h-3zM206 837h1v1h-1zM211 837h1v1h-1zM345 837h8v1h-8zM374 837h1v1h-1zM379 837h2v1h-2zM384 837h3v1h-3zM393 837h1v1h-1zM396 837h2v1h-2zM400 837h1v1h-1zM402 837h3v1h-3zM407 837h2v1h-2zM410 837h2v1h-2zM413 837h4v1h-4zM419 837h26v1h-26zM446 837h1v1h-1zM117 838h2v1h-2zM122 838h4v1h-4zM128 838h18v1h-18zM147 838h15v1h-15zM164 838h2v1h-2zM168 838h6v1h-6zM176 838h4v1h-4zM182 838h2v1h-2zM185 838h1v1h-1zM188 838h2v1h-2zM196 838h4v1h-4zM210 838h2v1h-2zM345 838h9v1h-9zM357 838h1v1h-1zM359 838h4v1h-4zM366 838h2v1h-2zM369 838h1v1h-1zM376 838h7v1h-7zM387 838h1v1h-1zM389 838h2v1h-2zM393 838h3v1h-3zM397 838h4v1h-4zM403 838h8v1h-8zM412 838h11v1h-11zM424 838h7v1h-7zM432 838h8v1h-8zM441 838h4v1h-4zM446 838h1v1h-1zM448 838h3v1h-3zM114 839h2v1h-2zM122 839h4v1h-4zM128 839h13v1h-13zM142 839h4v1h-4zM147 839h9v1h-9zM157 839h3v1h-3zM162 839h5v1h-5zM168 839h1v1h-1zM171 839h3v1h-3zM176 839h4v1h-4zM181 839h4v1h-4zM188 839h2v1h-2zM191 839h1v1h-1zM195 839h7v1h-7zM209 839h1v1h-1zM345 839h1v1h-1zM348 839h6v1h-6zM359 839h1v1h-1zM368 839h2v1h-2zM374 839h5v1h-5zM380 839h4v1h-4zM387 839h1v1h-1zM389 839h2v1h-2zM393 839h4v1h-4zM398 839h2v1h-2zM402 839h3v1h-3zM406 839h4v1h-4zM412 839h26v1h-26zM439 839h11v1h-11zM451 839h2v1h-2zM455 839h1v1h-1zM118 840h39v1h-39zM158 840h35v1h-35zM195 840h7v1h-7zM209 840h1v1h-1zM211 840h4v1h-4zM390 840h7v1h-7zM398 840h3v1h-3zM404 840h3v1h-3zM409 840h2v1h-2zM412 840h4v1h-4zM417 840h35v1h-35zM116 841h1v1h-1zM119 841h2v1h-2zM122 841h13v1h-13zM136 841h47v1h-47zM184 841h2v1h-2zM187 841h2v1h-2zM190 841h12v1h-12zM203 841h2v1h-2zM212 841h2v1h-2zM222 841h1v1h-1zM114 842h1v1h-1zM119 842h2v1h-2zM122 842h6v1h-6zM129 842h33v1h-33zM163 842h6v1h-6zM170 842h26v1h-26zM198 842h2v1h-2zM202 842h1v1h-1zM204 842h2v1h-2z" fill="#000"/>
<path d="M430 439h1v1h-1zM227 441h1v1h-1zM251 441h1v1h-1zM257 441h2v1h-2zM430 441h1v1h-1zM220 442h1v1h-1zM243 442h1v1h-1zM446 442h1v1h-1zM165 443h1v1h-1zM249 443h1v1h-1zM428 443h1v1h-1zM461 443h1v1h-1zM129 444h1v1h-1zM134 445h1v1h-1zM159 445h1v1h-1zM167 445h2v1h-2zM239 445h1v1h-1zM129 446h1v1h-1zM350 446h1v1h-1zM383 446h1v1h-1zM427 446h1v1h-1zM436 446h1v1h-1zM136 447h1v1h-1zM189 447h1v1h-1zM355 447h1v1h-1zM410 447h1v1h-1zM412 447h1v1h-1zM127 448h1v1h-1zM150 448h1v1h-1zM168 448h1v1h-1zM178 448h1v1h-1zM241 448h1v1h-1zM386 448h2v1h-2zM401 448h1v1h-1zM407 448h1v1h-1zM415 448h1v1h-1zM124 449h1v1h-1zM162 449h1v1h-1zM169 449h1v1h-1zM211 449h1v1h-1zM234 449h1v1h-1zM239 449h1v1h-1zM169 450h1v1h-1zM209 450h1v1h-1zM122 451h1v1h-1zM162 451h1v1h-1zM177 451h1v1h-1zM225 451h1v1h-1zM420 451h1v1h-1zM183 452h1v1h-1zM206 452h1v1h-1zM243 452h1v1h-1zM396 452h1v1h-1zM426 452h1v1h-1zM137 453h1v1h-1zM420 453h1v1h-1zM430 453h1v1h-1zM139 454h1v1h-1zM199 454h1v1h-1zM370 454h1v1h-1zM437 454h1v1h-1zM120 455h1v1h-1zM147 455h1v1h-1zM183 455h1v1h-1zM238 455h1v1h-1zM246 455h1v1h-1zM371 455h1v1h-1zM384 455h1v1h-1zM432 455h1v1h-1zM451 455h2v1h-2zM194 456h1v1h-1zM213 456h1v1h-1zM363 456h1v1h-1zM370 456h1v1h-1zM122 457h1v1h-1zM191 457h1v1h-1zM208 457h1v1h-1zM404 457h1v1h-1zM187 458h1v1h-1zM360 458h1v1h-1zM380 458h1v1h-1zM428 458h1v1h-1zM161 459h1v1h-1zM180 459h1v1h-1zM202 459h1v1h-1zM408 459h1v1h-1zM428 459h1v1h-1zM465 459h1v1h-1zM162 460h1v1h-1zM179 460h2v1h-2zM189 460h1v1h-1zM203 460h1v1h-1zM205 460h1v1h-1zM227 460h1v1h-1zM252 460h1v1h-1zM347 460h1v1h-1zM408 460h1v1h-1zM458 460h2v1h-2zM464 460h1v1h-1zM211 461h1v1h-1zM227 461h1v1h-1zM247 461h1v1h-1zM243 462h1v1h-1zM264 462h1v1h-1zM457 462h1v1h-1zM466 462h1v1h-1zM248 464h1v1h-1zM345 464h1v1h-1zM367 464h1v1h-1zM391 464h1v1h-1zM404 464h1v1h-1zM121 465h1v1h-1zM340 465h1v1h-1zM368 465h1v1h-1zM417 465h1v1h-1zM174 466h1v1h-1zM219 466h1v1h-1zM225 466h1v1h-1zM369 466h1v1h-1zM415 466h1v1h-1zM115 467h2v1h-2zM240 467h2v1h-2zM414 467h1v1h-1zM439 467h1v1h-1zM143 468h1v1h-1zM163 468h1v1h-1zM186 468h1v1h-1zM210 468h1v1h-1zM398 468h1v1h-1zM445 468h1v1h-1zM455 468h1v1h-1zM169 469h1v1h-1zM176 469h1v1h-1zM208 469h1v1h-1zM224 469h1v1h-1zM343 469h1v1h-1zM392 469h1v1h-1zM152 470h1v1h-1zM188 470h1v1h-1zM199 470h1v1h-1zM225 470h1v1h-1zM231 470h1v1h-1zM265 470h1v1h-1zM350 470h1v1h-1zM401 470h2v1h-2zM118 471h1v1h-1zM189 471h1v1h-1zM208 472h1v1h-1zM409 472h1v1h-1zM412 472h1v1h-1zM207 473h1v1h-1zM234 473h1v1h-1zM397 473h1v1h-1zM121 474h1v1h-1zM132 475h1v1h-1zM138 475h1v1h-1zM220 475h1v1h-1zM257 475h1v1h-1zM358 475h1v1h-1zM398 475h1v1h-1zM127 476h1v1h-1zM192 476h1v1h-1zM203 476h1v1h-1zM229 476h1v1h-1zM245 476h1v1h-1zM162 477h1v1h-1zM195 477h1v1h-1zM249 477h1v1h-1zM441 477h1v1h-1zM129 478h1v1h-1zM436 478h1v1h-1zM353 479h1v1h-1zM369 479h1v1h-1zM371 479h1v1h-1zM378 479h1v1h-1zM438 479h1v1h-1zM172 480h1v1h-1zM440 480h1v1h-1zM130 482h1v1h-1zM342 482h1v1h-1zM420 482h1v1h-1zM118 483h1v1h-1zM120 483h1v1h-1zM130 483h1v1h-1zM223 483h1v1h-1zM418 483h1v1h-1zM410 484h1v1h-1zM450 484h1v1h-1zM457 484h1v1h-1zM459 484h1v1h-1zM139 485h1v1h-1zM230 485h1v1h-1zM365 485h1v1h-1zM442 485h1v1h-1zM132 486h1v1h-1zM217 486h1v1h-1zM231 486h1v1h-1zM255 486h1v1h-1zM258 486h1v1h-1zM261 486h1v1h-1zM142 487h1v1h-1zM154 487h1v1h-1zM235 487h1v1h-1zM257 487h2v1h-2zM261 487h1v1h-1zM387 487h1v1h-1zM141 488h1v1h-1zM158 488h1v1h-1zM257 488h1v1h-1zM452 488h1v1h-1zM208 489h1v1h-1zM238 489h1v1h-1zM409 489h1v1h-1zM143 490h1v1h-1zM213 490h1v1h-1zM420 490h1v1h-1zM132 491h1v1h-1zM193 491h1v1h-1zM349 491h1v1h-1zM438 491h1v1h-1zM200 492h1v1h-1zM218 492h1v1h-1zM174 493h1v1h-1zM369 493h1v1h-1zM157 494h1v1h-1zM172 494h1v1h-1zM139 495h1v1h-1zM201 495h1v1h-1zM220 495h1v1h-1zM225 495h1v1h-1zM378 495h1v1h-1zM385 495h1v1h-1zM351 496h1v1h-1zM363 496h1v1h-1zM377 496h1v1h-1zM404 496h1v1h-1zM219 497h1v1h-1zM237 497h1v1h-1zM254 497h1v1h-1zM437 497h1v1h-1zM187 498h1v1h-1zM229 498h1v1h-1zM356 498h1v1h-1zM233 499h1v1h-1zM159 500h1v1h-1zM210 500h1v1h-1zM233 500h1v1h-1zM440 500h1v1h-1zM457 500h1v1h-1zM176 501h1v1h-1zM350 501h1v1h-1zM172 502h1v1h-1zM186 502h2v1h-2zM199 502h1v1h-1zM250 502h1v1h-1zM408 502h1v1h-1zM121 503h1v1h-1zM191 503h1v1h-1zM210 503h1v1h-1zM222 503h1v1h-1zM226 503h1v1h-1zM242 503h2v1h-2zM386 503h1v1h-1zM406 503h2v1h-2zM413 503h1v1h-1zM433 503h1v1h-1zM199 504h1v1h-1zM415 504h1v1h-1zM420 504h1v1h-1zM140 505h1v1h-1zM205 505h1v1h-1zM207 505h1v1h-1zM356 505h1v1h-1zM148 506h1v1h-1zM403 506h1v1h-1zM132 507h1v1h-1zM358 507h1v1h-1zM430 507h1v1h-1zM137 508h1v1h-1zM182 508h1v1h-1zM223 508h1v1h-1zM353 508h1v1h-1zM454 508h1v1h-1zM120 509h1v1h-1zM160 509h1v1h-1zM184 509h1v1h-1zM216 509h1v1h-1zM341 509h1v1h-1zM136 510h1v1h-1zM352 510h1v1h-1zM434 510h1v1h-1zM185 511h1v1h-1zM254 511h1v1h-1zM421 511h1v1h-1zM130 512h1v1h-1zM195 512h1v1h-1zM230 512h1v1h-1zM362 512h1v1h-1zM371 512h1v1h-1zM384 512h1v1h-1zM389 512h1v1h-1zM394 512h1v1h-1zM168 513h1v1h-1zM173 513h1v1h-1zM258 513h1v1h-1zM353 513h1v1h-1zM364 513h1v1h-1zM200 514h1v1h-1zM424 514h1v1h-1zM450 514h1v1h-1zM137 515h1v1h-1zM154 515h1v1h-1zM157 515h1v1h-1zM173 515h1v1h-1zM178 515h1v1h-1zM256 515h1v1h-1zM415 515h1v1h-1zM440 515h1v1h-1zM448 515h1v1h-1zM199 516h1v1h-1zM156 517h1v1h-1zM215 517h1v1h-1zM261 517h1v1h-1zM439 517h1v1h-1zM183 518h1v1h-1zM215 518h1v1h-1zM340 518h1v1h-1zM356 518h1v1h-1zM377 518h1v1h-1zM393 518h1v1h-1zM418 519h1v1h-1zM457 519h1v1h-1zM142 520h1v1h-1zM163 520h1v1h-1zM170 520h1v1h-1zM223 520h1v1h-1zM383 520h1v1h-1zM436 520h1v1h-1zM136 521h1v1h-1zM166 521h1v1h-1zM178 521h1v1h-1zM192 521h1v1h-1zM220 521h1v1h-1zM387 521h1v1h-1zM115 522h1v1h-1zM150 522h1v1h-1zM205 522h1v1h-1zM355 522h1v1h-1zM421 522h1v1h-1zM428 522h1v1h-1zM223 523h1v1h-1zM380 523h1v1h-1zM389 523h1v1h-1zM117 524h1v1h-1zM364 524h1v1h-1zM129 525h1v1h-1zM149 525h1v1h-1zM210 525h1v1h-1zM253 525h1v1h-1zM350 525h1v1h-1zM112 526h1v1h-1zM163 526h1v1h-1zM356 526h1v1h-1zM366 526h1v1h-1zM416 526h1v1h-1zM225 527h1v1h-1zM261 527h2v1h-2zM350 527h1v1h-1zM358 527h1v1h-1zM372 527h1v1h-1zM381 527h1v1h-1zM402 527h1v1h-1zM415 527h1v1h-1zM440 527h1v1h-1zM443 527h1v1h-1zM203 528h1v1h-1zM233 528h1v1h-1zM256 528h1v1h-1zM350 528h1v1h-1zM150 529h1v1h-1zM160 529h1v1h-1zM260 529h1v1h-1zM208 530h1v1h-1zM374 530h1v1h-1zM378 530h1v1h-1zM231 531h1v1h-1zM373 531h1v1h-1zM379 531h1v1h-1zM446 531h1v1h-1zM127 532h1v1h-1zM213 532h1v1h-1zM378 532h1v1h-1zM452 532h1v1h-1zM456 532h1v1h-1zM128 533h1v1h-1zM436 533h1v1h-1zM446 533h1v1h-1zM144 534h1v1h-1zM165 534h1v1h-1zM367 534h1v1h-1zM375 534h1v1h-1zM378 534h1v1h-1zM435 534h1v1h-1zM250 535h1v1h-1zM375 535h1v1h-1zM400 535h1v1h-1zM407 535h1v1h-1zM420 535h1v1h-1zM431 535h1v1h-1zM123 536h1v1h-1zM214 536h1v1h-1zM434 536h1v1h-1zM450 536h1v1h-1zM120 537h1v1h-1zM159 537h1v1h-1zM211 537h1v1h-1zM226 537h1v1h-1zM257 537h1v1h-1zM408 537h1v1h-1zM421 537h1v1h-1zM119 538h1v1h-1zM192 538h1v1h-1zM250 538h1v1h-1zM353 538h1v1h-1zM134 539h1v1h-1zM359 539h1v1h-1zM366 539h1v1h-1zM452 539h1v1h-1zM114 540h1v1h-1zM146 540h1v1h-1zM161 540h1v1h-1zM210 540h1v1h-1zM181 541h1v1h-1zM199 541h1v1h-1zM385 541h1v1h-1zM423 541h1v1h-1zM240 542h1v1h-1zM362 542h1v1h-1zM436 542h1v1h-1zM137 543h1v1h-1zM144 543h1v1h-1zM151 543h1v1h-1zM214 543h1v1h-1zM240 543h1v1h-1zM371 543h1v1h-1zM379 543h1v1h-1zM401 543h1v1h-1zM414 543h1v1h-1zM427 543h1v1h-1zM241 544h1v1h-1zM418 544h1v1h-1zM125 545h1v1h-1zM342 545h1v1h-1zM374 545h1v1h-1zM390 545h1v1h-1zM408 545h1v1h-1zM422 545h1v1h-1zM117 546h1v1h-1zM136 546h1v1h-1zM140 546h1v1h-1zM150 546h1v1h-1zM167 546h1v1h-1zM422 546h1v1h-1zM433 546h1v1h-1zM447 546h1v1h-1zM124 547h1v1h-1zM240 547h1v1h-1zM148 548h1v1h-1zM154 548h1v1h-1zM175 548h1v1h-1zM123 549h1v1h-1zM171 549h1v1h-1zM226 549h1v1h-1zM380 549h1v1h-1zM384 549h1v1h-1zM405 549h1v1h-1zM126 550h1v1h-1zM156 550h1v1h-1zM364 550h1v1h-1zM382 550h1v1h-1zM416 550h1v1h-1zM183 551h1v1h-1zM216 551h1v1h-1zM246 551h1v1h-1zM395 551h2v1h-2zM170 552h1v1h-1zM420 552h1v1h-1zM434 552h1v1h-1zM253 553h1v1h-1zM345 553h1v1h-1zM358 553h1v1h-1zM165 554h1v1h-1zM224 554h1v1h-1zM248 554h1v1h-1zM262 554h1v1h-1zM364 554h1v1h-1zM378 554h1v1h-1zM428 554h2v1h-2zM118 555h1v1h-1zM154 555h1v1h-1zM160 555h1v1h-1zM384 555h1v1h-1zM210 557h1v1h-1zM389 557h1v1h-1zM262 558h3v1h-3zM355 558h1v1h-1zM387 558h1v1h-1zM407 558h1v1h-1zM343 559h1v1h-1zM355 559h1v1h-1zM424 559h1v1h-1zM133 560h1v1h-1zM131 561h1v1h-1zM349 561h2v1h-2zM385 561h1v1h-1zM165 562h1v1h-1zM351 562h1v1h-1zM149 563h1v1h-1zM161 563h1v1h-1zM199 563h1v1h-1zM343 563h1v1h-1zM426 563h1v1h-1zM142 564h1v1h-1zM342 564h1v1h-1zM116 565h1v1h-1zM123 565h1v1h-1zM219 565h1v1h-1zM376 565h1v1h-1zM393 565h1v1h-1zM140 566h1v1h-1zM155 566h1v1h-1zM219 566h1v1h-1zM249 566h2v1h-2zM138 568h1v1h-1zM175 568h1v1h-1zM159 709h1v1h-1zM403 710h1v1h-1zM152 711h1v1h-1zM158 711h2v1h-2zM177 711h1v1h-1zM351 712h1v1h-1zM162 713h1v1h-1zM345 713h1v1h-1zM119 714h1v1h-1zM117 715h1v1h-1zM119 715h1v1h-1zM137 715h1v1h-1zM384 715h1v1h-1zM392 715h2v1h-2zM119 716h1v1h-1zM138 716h1v1h-1zM166 716h1v1h-1zM346 716h2v1h-2zM437 716h1v1h-1zM228 717h1v1h-1zM366 717h1v1h-1zM134 718h1v1h-1zM148 719h1v1h-1zM150 719h1v1h-1zM184 719h1v1h-1zM368 719h1v1h-1zM151 720h1v1h-1zM172 720h1v1h-1zM212 720h1v1h-1zM235 720h1v1h-1zM384 720h1v1h-1zM436 720h1v1h-1zM130 721h1v1h-1zM151 722h1v1h-1zM178 722h1v1h-1zM403 722h1v1h-1zM447 722h1v1h-1zM166 723h1v1h-1zM168 723h1v1h-1zM347 723h1v1h-1zM377 723h1v1h-1zM426 723h1v1h-1zM428 723h1v1h-1zM116 724h1v1h-1zM124 724h1v1h-1zM180 724h1v1h-1zM237 724h1v1h-1zM240 724h1v1h-1zM436 724h1v1h-1zM126 725h1v1h-1zM135 725h1v1h-1zM136 726h1v1h-1zM173 726h1v1h-1zM179 726h1v1h-1zM346 726h1v1h-1zM387 726h1v1h-1zM431 726h1v1h-1zM120 727h1v1h-1zM158 727h1v1h-1zM209 727h1v1h-1zM233 727h1v1h-1zM348 727h1v1h-1zM351 727h1v1h-1zM174 728h1v1h-1zM355 728h1v1h-1zM376 728h1v1h-1zM378 728h2v1h-2zM390 728h1v1h-1zM426 728h1v1h-1zM457 728h1v1h-1zM123 729h1v1h-1zM161 729h1v1h-1zM208 729h1v1h-1zM224 729h1v1h-1zM379 729h1v1h-1zM413 729h1v1h-1zM420 729h1v1h-1zM428 729h1v1h-1zM147 730h2v1h-2zM151 730h1v1h-1zM157 730h1v1h-1zM375 730h1v1h-1zM397 730h1v1h-1zM421 730h1v1h-1zM190 731h1v1h-1zM377 731h1v1h-1zM384 731h1v1h-1zM139 732h1v1h-1zM202 732h1v1h-1zM386 732h1v1h-1zM192 733h1v1h-1zM118 734h1v1h-1zM218 734h1v1h-1zM231 734h1v1h-1zM387 734h1v1h-1zM393 734h1v1h-1zM406 734h1v1h-1zM173 735h1v1h-1zM206 735h1v1h-1zM455 735h1v1h-1zM117 736h1v1h-1zM188 736h1v1h-1zM218 736h1v1h-1zM230 736h1v1h-1zM232 736h1v1h-1zM425 736h1v1h-1zM187 737h1v1h-1zM208 737h1v1h-1zM219 737h1v1h-1zM146 738h1v1h-1zM151 738h1v1h-1zM171 738h1v1h-1zM189 738h1v1h-1zM344 738h1v1h-1zM403 738h1v1h-1zM430 738h1v1h-1zM432 738h1v1h-1zM445 738h1v1h-1zM129 739h1v1h-1zM133 739h1v1h-1zM392 739h1v1h-1zM403 739h1v1h-1zM178 740h1v1h-1zM220 740h1v1h-1zM360 740h1v1h-1zM419 740h1v1h-1zM199 741h1v1h-1zM422 741h1v1h-1zM428 741h1v1h-1zM171 742h1v1h-1zM437 742h1v1h-1zM451 742h1v1h-1zM163 743h1v1h-1zM362 743h1v1h-1zM441 743h1v1h-1zM136 745h1v1h-1zM173 745h1v1h-1zM218 745h1v1h-1zM346 745h1v1h-1zM170 746h1v1h-1zM353 746h1v1h-1zM365 746h1v1h-1zM145 747h1v1h-1zM187 747h1v1h-1zM169 748h1v1h-1zM204 748h2v1h-2zM379 748h1v1h-1zM144 749h1v1h-1zM172 749h1v1h-1zM204 749h1v1h-1zM245 749h2v1h-2zM133 750h1v1h-1zM367 750h1v1h-1zM406 750h2v1h-2zM129 751h1v1h-1zM143 751h1v1h-1zM172 751h1v1h-1zM177 751h1v1h-1zM232 751h1v1h-1zM367 751h1v1h-1zM389 751h1v1h-1zM123 752h1v1h-1zM424 752h1v1h-1zM239 753h1v1h-1zM347 753h1v1h-1zM367 753h1v1h-1zM394 753h1v1h-1zM416 753h1v1h-1zM138 754h1v1h-1zM377 754h1v1h-1zM176 755h1v1h-1zM180 755h1v1h-1zM222 755h1v1h-1zM402 755h1v1h-1zM433 755h1v1h-1zM156 756h1v1h-1zM179 756h2v1h-2zM344 756h1v1h-1zM371 756h1v1h-1zM167 757h2v1h-2zM423 757h1v1h-1zM182 758h1v1h-1zM236 758h1v1h-1zM201 759h1v1h-1zM243 759h1v1h-1zM356 760h1v1h-1zM251 761h1v1h-1zM165 762h1v1h-1zM126 764h3v1h-3zM133 765h1v1h-1zM144 765h1v1h-1zM246 765h1v1h-1zM131 766h1v1h-1zM246 766h1v1h-1zM145 767h1v1h-1zM168 767h1v1h-1zM226 767h1v1h-1zM252 767h1v1h-1zM438 767h1v1h-1zM144 768h1v1h-1zM245 768h1v1h-1zM160 769h1v1h-1zM183 769h1v1h-1zM229 769h1v1h-1zM455 769h1v1h-1zM169 770h1v1h-1zM441 770h1v1h-1zM459 770h1v1h-1zM114 771h1v1h-1zM151 771h1v1h-1zM159 771h1v1h-1zM221 771h1v1h-1zM125 772h1v1h-1zM151 772h1v1h-1zM163 772h1v1h-1zM250 772h1v1h-1zM454 772h1v1h-1zM124 773h1v1h-1zM127 773h1v1h-1zM169 773h1v1h-1zM180 773h1v1h-1zM232 773h2v1h-2zM450 773h1v1h-1zM197 774h1v1h-1zM461 774h1v1h-1zM159 775h1v1h-1zM202 775h1v1h-1zM426 775h1v1h-1zM453 775h1v1h-1zM116 776h1v1h-1zM120 776h2v1h-2zM121 778h1v1h-1zM147 778h1v1h-1zM161 780h1v1h-1zM136 781h1v1h-1zM200 782h1v1h-1zM419 782h2v1h-2zM446 782h1v1h-1zM452 782h1v1h-1zM184 783h1v1h-1zM142 784h1v1h-1zM191 784h1v1h-1zM209 784h1v1h-1zM213 784h1v1h-1zM244 784h1v1h-1zM424 784h1v1h-1zM120 785h1v1h-1zM134 785h1v1h-1zM150 786h1v1h-1zM184 786h1v1h-1zM460 786h1v1h-1zM136 787h1v1h-1zM200 787h1v1h-1zM435 787h1v1h-1zM146 788h1v1h-1zM156 788h1v1h-1zM179 788h1v1h-1zM188 788h2v1h-2zM134 789h1v1h-1zM360 789h1v1h-1zM433 789h1v1h-1zM123 791h1v1h-1zM132 791h1v1h-1zM148 791h1v1h-1zM180 791h1v1h-1zM183 791h1v1h-1zM197 791h1v1h-1zM382 791h1v1h-1zM424 791h1v1h-1zM445 791h1v1h-1zM150 792h1v1h-1zM176 793h1v1h-1zM353 793h1v1h-1zM136 794h1v1h-1zM179 794h1v1h-1zM191 794h1v1h-1zM235 794h1v1h-1zM450 794h1v1h-1zM452 794h2v1h-2zM139 795h1v1h-1zM156 795h1v1h-1zM162 795h1v1h-1zM168 795h1v1h-1zM230 795h2v1h-2zM344 795h1v1h-1zM452 795h1v1h-1zM145 796h1v1h-1zM208 796h1v1h-1zM381 796h1v1h-1zM145 797h1v1h-1zM159 797h1v1h-1zM188 797h1v1h-1zM344 797h1v1h-1zM396 797h1v1h-1zM425 797h1v1h-1zM225 798h1v1h-1zM359 798h1v1h-1zM429 798h1v1h-1zM362 799h1v1h-1zM414 799h1v1h-1zM427 799h1v1h-1zM436 799h1v1h-1zM447 799h1v1h-1zM449 799h2v1h-2zM120 800h1v1h-1zM146 800h1v1h-1zM148 800h1v1h-1zM232 800h1v1h-1zM143 801h1v1h-1zM150 801h1v1h-1zM197 801h1v1h-1zM206 801h1v1h-1zM228 801h1v1h-1zM386 802h1v1h-1zM159 803h1v1h-1zM222 803h1v1h-1zM224 803h1v1h-1zM237 803h1v1h-1zM372 803h1v1h-1zM216 804h1v1h-1zM231 804h1v1h-1zM237 804h1v1h-1zM360 804h1v1h-1zM385 804h1v1h-1zM157 805h1v1h-1zM210 805h1v1h-1zM388 805h1v1h-1zM390 805h1v1h-1zM152 806h1v1h-1zM157 806h1v1h-1zM440 806h1v1h-1zM453 806h1v1h-1zM140 807h1v1h-1zM177 807h1v1h-1zM199 807h1v1h-1zM211 807h1v1h-1zM351 807h1v1h-1zM372 807h1v1h-1zM384 807h1v1h-1zM422 807h1v1h-1zM134 808h1v1h-1zM142 808h1v1h-1zM417 808h1v1h-1zM149 809h1v1h-1zM371 809h1v1h-1zM393 809h1v1h-1zM164 810h1v1h-1zM196 810h1v1h-1zM214 810h1v1h-1zM345 810h1v1h-1zM126 811h1v1h-1zM162 811h1v1h-1zM183 811h1v1h-1zM420 811h1v1h-1zM427 811h1v1h-1zM117 812h1v1h-1zM122 812h1v1h-1zM445 812h1v1h-1zM121 813h1v1h-1zM125 813h1v1h-1zM128 813h1v1h-1zM133 813h1v1h-1zM142 813h1v1h-1zM186 813h1v1h-1zM427 813h1v1h-1zM427 814h1v1h-1zM136 815h1v1h-1zM427 815h1v1h-1zM114 816h1v1h-1zM188 816h1v1h-1zM216 816h1v1h-1zM215 817h2v1h-2zM225 817h1v1h-1zM380 817h1v1h-1zM193 818h1v1h-1zM415 818h1v1h-1zM451 819h1v1h-1zM378 821h1v1h-1zM425 821h1v1h-1zM163 822h1v1h-1zM196 822h1v1h-1zM209 822h1v1h-1zM378 822h1v1h-1zM126 823h1v1h-1zM206 823h1v1h-1zM380 823h1v1h-1zM386 823h1v1h-1zM434 823h1v1h-1zM461 823h1v1h-1zM156 824h1v1h-1zM212 824h1v1h-1zM345 824h1v1h-1zM399 824h1v1h-1zM461 824h1v1h-1zM129 825h1v1h-1zM155 825h1v1h-1zM160 825h1v1h-1zM204 826h1v1h-1zM221 826h1v1h-1zM350 826h1v1h-1zM131 827h1v1h-1zM142 827h1v1h-1zM168 827h1v1h-1zM193 827h1v1h-1zM203 827h1v1h-1zM137 828h1v1h-1zM171 828h1v1h-1zM189 828h1v1h-1zM228 828h1v1h-1zM230 828h1v1h-1zM232 828h1v1h-1zM345 828h1v1h-1zM416 828h1v1h-1zM428 828h1v1h-1zM167 829h1v1h-1zM228 829h1v1h-1zM413 829h1v1h-1zM451 829h2v1h-2zM126 830h1v1h-1zM180 830h1v1h-1zM380 830h1v1h-1zM382 830h1v1h-1zM136 831h1v1h-1zM355 831h1v1h-1zM371 831h1v1h-1zM400 831h1v1h-1zM123 832h2v1h-2zM157 832h1v1h-1zM170 832h1v1h-1zM379 832h1v1h-1zM383 832h1v1h-1zM359 833h1v1h-1zM377 833h1v1h-1zM121 834h1v1h-1zM205 834h1v1h-1zM420 834h1v1h-1zM452 834h1v1h-1zM125 835h1v1h-1zM141 835h1v1h-1zM191 835h1v1h-1zM346 835h1v1h-1zM351 835h1v1h-1zM372 835h1v1h-1zM426 835h1v1h-1zM429 835h1v1h-1zM439 835h1v1h-1zM445 835h1v1h-1zM452 835h1v1h-1zM161 836h1v1h-1zM184 836h1v1h-1zM199 836h1v1h-1zM219 836h1v1h-1zM366 836h1v1h-1zM146 837h1v1h-1zM227 837h1v1h-1zM450 837h1v1h-1zM184 838h1v1h-1zM195 838h1v1h-1zM431 838h1v1h-1zM440 838h1v1h-1zM161 839h1v1h-1zM354 839h1v1h-1zM363 839h1v1h-1zM367 839h1v1h-1zM379 839h1v1h-1zM450 839h1v1h-1zM210 840h1v1h-1zM403 840h1v1h-1zM452 840h1v1h-1zM183 841h1v1h-1zM128 842h1v1h-1z" fill="#555"/>
<path d="M427 435h1v1h-1zM253 437h1v1h-1zM452 437h1v1h-1zM469 437h1v1h-1zM258 438h1v1h-1zM431 438h1v1h-1zM407 439h1v1h-1zM419 439h1v1h-1zM436 439h1v1h-1zM451 439h1v1h-1zM339 440h1v1h-1zM417 440h1v1h-1zM422 440h1v1h-1zM431 440h1v1h-1zM435 440h2v1h-2zM438 440h1v1h-1zM441 440h1v1h-1zM447 440h1v1h-1zM449 440h1v1h-1zM415 441h1v1h-1zM418 441h1v1h-1zM423 441h1v1h-1zM426 441h1v1h-1zM434 441h1v1h-1zM437 441h1v1h-1zM443 441h1v1h-1zM445 441h1v1h-1zM450 441h2v1h-2zM145 442h1v1h-1zM148 442h1v1h-1zM169 442h1v1h-1zM213 442h2v1h-2zM414 442h1v1h-1zM418 442h3v1h-3zM427 442h1v1h-1zM434 442h1v1h-1zM440 442h2v1h-2zM447 442h1v1h-1zM450 442h1v1h-1zM467 442h1v1h-1zM413 443h1v1h-1zM415 443h1v1h-1zM422 443h1v1h-1zM444 443h1v1h-1zM163 444h1v1h-1zM198 444h1v1h-1zM411 444h1v1h-1zM414 444h1v1h-1zM450 444h1v1h-1zM457 444h1v1h-1zM150 445h1v1h-1zM166 445h1v1h-1zM172 445h1v1h-1zM185 445h1v1h-1zM188 445h1v1h-1zM190 445h1v1h-1zM192 445h1v1h-1zM210 445h1v1h-1zM220 445h1v1h-1zM233 445h1v1h-1zM375 445h1v1h-1zM419 445h1v1h-1zM451 445h1v1h-1zM456 445h1v1h-1zM128 446h1v1h-1zM134 446h1v1h-1zM138 446h1v1h-1zM140 446h1v1h-1zM149 446h1v1h-1zM165 446h1v1h-1zM173 446h1v1h-1zM189 446h1v1h-1zM192 446h1v1h-1zM194 446h1v1h-1zM232 446h1v1h-1zM407 446h1v1h-1zM409 446h1v1h-1zM415 446h2v1h-2zM419 446h1v1h-1zM452 446h1v1h-1zM454 446h1v1h-1zM457 446h1v1h-1zM128 447h1v1h-1zM130 447h1v1h-1zM133 447h1v1h-1zM139 447h1v1h-1zM144 447h1v1h-1zM146 447h1v1h-1zM148 447h1v1h-1zM150 447h2v1h-2zM153 447h1v1h-1zM155 447h2v1h-2zM166 447h1v1h-1zM172 447h1v1h-1zM180 447h1v1h-1zM182 447h1v1h-1zM191 447h1v1h-1zM195 447h1v1h-1zM197 447h2v1h-2zM207 447h1v1h-1zM214 447h1v1h-1zM216 447h1v1h-1zM218 447h1v1h-1zM230 447h1v1h-1zM232 447h1v1h-1zM238 447h1v1h-1zM342 447h2v1h-2zM360 447h1v1h-1zM375 447h1v1h-1zM405 447h2v1h-2zM408 447h1v1h-1zM411 447h1v1h-1zM415 447h2v1h-2zM455 447h1v1h-1zM467 447h1v1h-1zM126 448h1v1h-1zM129 448h2v1h-2zM140 448h3v1h-3zM158 448h1v1h-1zM161 448h1v1h-1zM163 448h2v1h-2zM167 448h1v1h-1zM174 448h1v1h-1zM180 448h1v1h-1zM183 448h1v1h-1zM185 448h1v1h-1zM189 448h2v1h-2zM198 448h1v1h-1zM201 448h1v1h-1zM203 448h1v1h-1zM213 448h1v1h-1zM358 448h1v1h-1zM395 448h1v1h-1zM403 448h1v1h-1zM412 448h2v1h-2zM416 448h1v1h-1zM455 448h1v1h-1zM457 448h1v1h-1zM468 448h1v1h-1zM128 449h1v1h-1zM131 449h1v1h-1zM136 449h1v1h-1zM138 449h1v1h-1zM177 449h1v1h-1zM182 449h1v1h-1zM184 449h2v1h-2zM187 449h2v1h-2zM193 449h1v1h-1zM202 449h1v1h-1zM205 449h1v1h-1zM207 449h1v1h-1zM210 449h1v1h-1zM213 449h1v1h-1zM215 449h2v1h-2zM220 449h1v1h-1zM231 449h1v1h-1zM253 449h1v1h-1zM364 449h1v1h-1zM374 449h1v1h-1zM393 449h1v1h-1zM399 449h1v1h-1zM404 449h1v1h-1zM451 449h1v1h-1zM453 449h1v1h-1zM460 449h1v1h-1zM125 450h2v1h-2zM128 450h1v1h-1zM131 450h1v1h-1zM133 450h1v1h-1zM170 450h1v1h-1zM173 450h1v1h-1zM178 450h1v1h-1zM187 450h1v1h-1zM189 450h1v1h-1zM197 450h2v1h-2zM201 450h2v1h-2zM210 450h1v1h-1zM212 450h1v1h-1zM215 450h1v1h-1zM217 450h2v1h-2zM235 450h1v1h-1zM241 450h1v1h-1zM375 450h1v1h-1zM395 450h1v1h-1zM401 450h4v1h-4zM462 450h1v1h-1zM464 450h1v1h-1zM123 451h1v1h-1zM126 451h1v1h-1zM130 451h1v1h-1zM175 451h1v1h-1zM178 451h1v1h-1zM180 451h1v1h-1zM185 451h1v1h-1zM192 451h1v1h-1zM200 451h1v1h-1zM206 451h1v1h-1zM213 451h2v1h-2zM234 451h1v1h-1zM393 451h1v1h-1zM419 451h1v1h-1zM426 451h1v1h-1zM457 451h2v1h-2zM124 452h1v1h-1zM127 452h1v1h-1zM157 452h1v1h-1zM162 452h2v1h-2zM179 452h2v1h-2zM185 452h1v1h-1zM188 452h1v1h-1zM191 452h1v1h-1zM193 452h1v1h-1zM197 452h1v1h-1zM199 452h1v1h-1zM201 452h1v1h-1zM211 452h1v1h-1zM215 452h1v1h-1zM217 452h1v1h-1zM220 452h1v1h-1zM237 452h1v1h-1zM256 452h1v1h-1zM260 452h1v1h-1zM376 452h1v1h-1zM378 452h1v1h-1zM400 452h1v1h-1zM419 452h1v1h-1zM455 452h2v1h-2zM120 453h2v1h-2zM125 453h2v1h-2zM135 453h1v1h-1zM182 453h1v1h-1zM184 453h1v1h-1zM192 453h2v1h-2zM195 453h1v1h-1zM203 453h2v1h-2zM209 453h1v1h-1zM212 453h1v1h-1zM215 453h1v1h-1zM217 453h1v1h-1zM227 453h1v1h-1zM398 453h1v1h-1zM400 453h2v1h-2zM455 453h1v1h-1zM464 453h1v1h-1zM112 454h1v1h-1zM114 454h1v1h-1zM189 454h1v1h-1zM195 454h1v1h-1zM200 454h1v1h-1zM202 454h1v1h-1zM206 454h1v1h-1zM210 454h1v1h-1zM216 454h1v1h-1zM218 454h1v1h-1zM220 454h2v1h-2zM223 454h1v1h-1zM226 454h1v1h-1zM234 454h1v1h-1zM390 454h1v1h-1zM402 454h1v1h-1zM431 454h1v1h-1zM454 454h1v1h-1zM456 454h1v1h-1zM463 454h1v1h-1zM474 454h1v1h-1zM116 455h1v1h-1zM118 455h1v1h-1zM134 455h1v1h-1zM149 455h1v1h-1zM172 455h1v1h-1zM184 455h2v1h-2zM188 455h1v1h-1zM196 455h1v1h-1zM200 455h1v1h-1zM206 455h1v1h-1zM208 455h1v1h-1zM210 455h1v1h-1zM218 455h1v1h-1zM224 455h1v1h-1zM363 455h1v1h-1zM398 455h1v1h-1zM431 455h1v1h-1zM458 455h1v1h-1zM115 456h1v1h-1zM119 456h1v1h-1zM150 456h1v1h-1zM170 456h2v1h-2zM186 456h1v1h-1zM188 456h1v1h-1zM190 456h2v1h-2zM193 456h1v1h-1zM196 456h1v1h-1zM199 456h1v1h-1zM202 456h1v1h-1zM205 456h1v1h-1zM207 456h1v1h-1zM215 456h1v1h-1zM217 456h1v1h-1zM220 456h1v1h-1zM238 456h1v1h-1zM389 456h1v1h-1zM394 456h1v1h-1zM399 456h1v1h-1zM403 456h1v1h-1zM457 456h1v1h-1zM144 457h1v1h-1zM161 457h1v1h-1zM186 457h1v1h-1zM190 457h1v1h-1zM195 457h1v1h-1zM198 457h1v1h-1zM200 457h1v1h-1zM216 457h1v1h-1zM222 457h1v1h-1zM239 457h1v1h-1zM366 457h1v1h-1zM371 457h1v1h-1zM394 457h1v1h-1zM398 457h1v1h-1zM405 457h1v1h-1zM440 457h2v1h-2zM453 457h1v1h-1zM456 457h1v1h-1zM458 457h1v1h-1zM112 458h1v1h-1zM194 458h1v1h-1zM198 458h1v1h-1zM200 458h1v1h-1zM205 458h2v1h-2zM208 458h1v1h-1zM212 458h1v1h-1zM214 458h2v1h-2zM222 458h2v1h-2zM237 458h1v1h-1zM340 458h1v1h-1zM384 458h1v1h-1zM389 458h1v1h-1zM392 458h1v1h-1zM443 458h1v1h-1zM452 458h1v1h-1zM455 458h1v1h-1zM190 459h2v1h-2zM200 459h1v1h-1zM206 459h1v1h-1zM209 459h1v1h-1zM211 459h1v1h-1zM213 459h1v1h-1zM217 459h1v1h-1zM231 459h1v1h-1zM238 459h1v1h-1zM388 459h1v1h-1zM390 459h2v1h-2zM393 459h1v1h-1zM453 459h1v1h-1zM457 459h1v1h-1zM192 460h1v1h-1zM194 460h1v1h-1zM197 460h2v1h-2zM202 460h1v1h-1zM209 460h1v1h-1zM216 460h1v1h-1zM220 460h1v1h-1zM222 460h1v1h-1zM257 460h1v1h-1zM355 460h1v1h-1zM382 460h1v1h-1zM387 460h1v1h-1zM393 460h1v1h-1zM395 460h1v1h-1zM397 460h1v1h-1zM400 460h2v1h-2zM415 460h2v1h-2zM453 460h1v1h-1zM190 461h2v1h-2zM193 461h1v1h-1zM199 461h1v1h-1zM204 461h1v1h-1zM208 461h1v1h-1zM210 461h1v1h-1zM219 461h1v1h-1zM229 461h1v1h-1zM362 461h1v1h-1zM392 461h2v1h-2zM398 461h1v1h-1zM400 461h2v1h-2zM416 461h1v1h-1zM455 461h1v1h-1zM174 462h2v1h-2zM186 462h1v1h-1zM194 462h3v1h-3zM203 462h1v1h-1zM206 462h2v1h-2zM209 462h1v1h-1zM218 462h1v1h-1zM221 462h1v1h-1zM361 462h1v1h-1zM369 462h1v1h-1zM375 462h1v1h-1zM384 462h1v1h-1zM386 462h1v1h-1zM397 462h1v1h-1zM444 462h1v1h-1zM451 462h1v1h-1zM454 462h1v1h-1zM112 463h1v1h-1zM158 463h1v1h-1zM186 463h1v1h-1zM190 463h1v1h-1zM192 463h1v1h-1zM196 463h2v1h-2zM200 463h1v1h-1zM202 463h1v1h-1zM205 463h1v1h-1zM208 463h1v1h-1zM215 463h1v1h-1zM235 463h2v1h-2zM242 463h1v1h-1zM353 463h1v1h-1zM368 463h1v1h-1zM376 463h1v1h-1zM380 463h1v1h-1zM383 463h1v1h-1zM386 463h1v1h-1zM389 463h1v1h-1zM391 463h1v1h-1zM394 463h1v1h-1zM398 463h3v1h-3zM402 463h2v1h-2zM146 464h1v1h-1zM186 464h2v1h-2zM198 464h1v1h-1zM201 464h1v1h-1zM204 464h2v1h-2zM217 464h1v1h-1zM243 464h1v1h-1zM341 464h1v1h-1zM343 464h1v1h-1zM348 464h1v1h-1zM352 464h1v1h-1zM379 464h2v1h-2zM383 464h1v1h-1zM385 464h2v1h-2zM447 464h2v1h-2zM450 464h1v1h-1zM457 464h1v1h-1zM145 465h2v1h-2zM185 465h1v1h-1zM189 465h1v1h-1zM191 465h1v1h-1zM194 465h2v1h-2zM198 465h1v1h-1zM202 465h2v1h-2zM206 465h2v1h-2zM214 465h1v1h-1zM219 465h1v1h-1zM245 465h1v1h-1zM344 465h1v1h-1zM346 465h1v1h-1zM348 465h1v1h-1zM351 465h1v1h-1zM353 465h1v1h-1zM369 465h1v1h-1zM373 465h1v1h-1zM385 465h1v1h-1zM387 465h2v1h-2zM392 465h4v1h-4zM397 465h1v1h-1zM400 465h1v1h-1zM404 465h1v1h-1zM406 465h1v1h-1zM156 466h1v1h-1zM190 466h1v1h-1zM192 466h1v1h-1zM196 466h1v1h-1zM202 466h1v1h-1zM205 466h1v1h-1zM208 466h1v1h-1zM220 466h1v1h-1zM241 466h1v1h-1zM244 466h1v1h-1zM341 466h1v1h-1zM350 466h1v1h-1zM354 466h1v1h-1zM358 466h1v1h-1zM365 466h1v1h-1zM372 466h1v1h-1zM382 466h2v1h-2zM386 466h2v1h-2zM399 466h1v1h-1zM403 466h1v1h-1zM405 466h1v1h-1zM442 466h1v1h-1zM174 467h1v1h-1zM178 467h1v1h-1zM192 467h1v1h-1zM197 467h1v1h-1zM200 467h1v1h-1zM202 467h1v1h-1zM341 467h1v1h-1zM352 467h2v1h-2zM355 467h1v1h-1zM357 467h1v1h-1zM368 467h1v1h-1zM384 467h2v1h-2zM389 467h1v1h-1zM392 467h1v1h-1zM400 467h1v1h-1zM402 467h1v1h-1zM406 467h1v1h-1zM410 467h1v1h-1zM434 467h1v1h-1zM437 467h1v1h-1zM455 467h1v1h-1zM126 468h1v1h-1zM178 468h2v1h-2zM182 468h1v1h-1zM184 468h1v1h-1zM191 468h1v1h-1zM193 468h1v1h-1zM198 468h1v1h-1zM204 468h1v1h-1zM219 468h1v1h-1zM228 468h2v1h-2zM256 468h1v1h-1zM342 468h1v1h-1zM351 468h1v1h-1zM356 468h1v1h-1zM358 468h1v1h-1zM366 468h1v1h-1zM368 468h1v1h-1zM370 468h1v1h-1zM383 468h1v1h-1zM387 468h1v1h-1zM389 468h1v1h-1zM392 468h1v1h-1zM395 468h2v1h-2zM404 468h2v1h-2zM435 468h2v1h-2zM438 468h2v1h-2zM442 468h1v1h-1zM239 469h1v1h-1zM357 469h1v1h-1zM367 469h1v1h-1zM369 469h1v1h-1zM371 469h1v1h-1zM388 469h1v1h-1zM397 469h1v1h-1zM399 469h1v1h-1zM402 469h1v1h-1zM406 469h1v1h-1zM417 469h2v1h-2zM432 469h1v1h-1zM440 469h2v1h-2zM169 470h1v1h-1zM175 470h1v1h-1zM190 470h1v1h-1zM233 470h1v1h-1zM235 470h1v1h-1zM356 470h1v1h-1zM366 470h1v1h-1zM393 470h1v1h-1zM398 470h1v1h-1zM404 470h1v1h-1zM408 470h1v1h-1zM416 470h1v1h-1zM429 470h1v1h-1zM437 470h1v1h-1zM439 470h1v1h-1zM112 471h1v1h-1zM169 471h1v1h-1zM171 471h2v1h-2zM174 471h1v1h-1zM184 471h1v1h-1zM191 471h1v1h-1zM223 471h1v1h-1zM225 471h1v1h-1zM363 471h1v1h-1zM365 471h1v1h-1zM390 471h1v1h-1zM392 471h1v1h-1zM394 471h1v1h-1zM397 471h1v1h-1zM405 471h1v1h-1zM409 471h1v1h-1zM411 471h1v1h-1zM419 471h2v1h-2zM422 471h1v1h-1zM424 471h1v1h-1zM426 471h3v1h-3zM430 471h1v1h-1zM113 472h1v1h-1zM164 472h1v1h-1zM166 472h1v1h-1zM168 472h1v1h-1zM170 472h1v1h-1zM343 472h1v1h-1zM354 472h3v1h-3zM363 472h1v1h-1zM366 472h1v1h-1zM381 472h1v1h-1zM389 472h1v1h-1zM395 472h1v1h-1zM404 472h1v1h-1zM407 472h1v1h-1zM411 472h1v1h-1zM420 472h1v1h-1zM426 472h1v1h-1zM429 472h1v1h-1zM142 473h1v1h-1zM163 473h1v1h-1zM166 473h1v1h-1zM347 473h1v1h-1zM362 473h1v1h-1zM365 473h1v1h-1zM386 473h2v1h-2zM393 473h3v1h-3zM405 473h1v1h-1zM407 473h1v1h-1zM409 473h1v1h-1zM416 473h2v1h-2zM423 473h1v1h-1zM427 473h1v1h-1zM429 473h1v1h-1zM432 473h1v1h-1zM435 473h1v1h-1zM453 473h1v1h-1zM466 473h1v1h-1zM148 474h1v1h-1zM157 474h2v1h-2zM160 474h1v1h-1zM355 474h1v1h-1zM357 474h1v1h-1zM361 474h1v1h-1zM364 474h1v1h-1zM367 474h1v1h-1zM369 474h1v1h-1zM373 474h1v1h-1zM400 474h1v1h-1zM402 474h2v1h-2zM413 474h4v1h-4zM420 474h1v1h-1zM426 474h1v1h-1zM431 474h2v1h-2zM434 474h1v1h-1zM136 475h1v1h-1zM143 475h1v1h-1zM149 475h3v1h-3zM154 475h2v1h-2zM253 475h1v1h-1zM255 475h1v1h-1zM347 475h1v1h-1zM355 475h1v1h-1zM363 475h1v1h-1zM365 475h1v1h-1zM367 475h2v1h-2zM371 475h1v1h-1zM384 475h1v1h-1zM386 475h1v1h-1zM393 475h1v1h-1zM401 475h1v1h-1zM405 475h1v1h-1zM413 475h1v1h-1zM418 475h1v1h-1zM421 475h2v1h-2zM427 475h1v1h-1zM433 475h1v1h-1zM117 476h1v1h-1zM131 476h1v1h-1zM134 476h1v1h-1zM138 476h1v1h-1zM152 476h1v1h-1zM156 476h1v1h-1zM169 476h1v1h-1zM259 476h1v1h-1zM356 476h1v1h-1zM363 476h1v1h-1zM366 476h1v1h-1zM370 476h1v1h-1zM372 476h1v1h-1zM388 476h1v1h-1zM391 476h1v1h-1zM397 476h1v1h-1zM400 476h1v1h-1zM403 476h1v1h-1zM407 476h1v1h-1zM409 476h1v1h-1zM411 476h2v1h-2zM419 476h1v1h-1zM422 476h1v1h-1zM424 476h1v1h-1zM429 476h2v1h-2zM432 476h1v1h-1zM114 477h1v1h-1zM131 477h1v1h-1zM141 477h1v1h-1zM146 477h1v1h-1zM155 477h1v1h-1zM210 477h1v1h-1zM248 477h1v1h-1zM346 477h1v1h-1zM356 477h1v1h-1zM360 477h1v1h-1zM362 477h1v1h-1zM365 477h1v1h-1zM369 477h1v1h-1zM372 477h2v1h-2zM383 477h2v1h-2zM386 477h1v1h-1zM390 477h1v1h-1zM398 477h1v1h-1zM400 477h1v1h-1zM402 477h1v1h-1zM406 477h1v1h-1zM414 477h1v1h-1zM416 477h1v1h-1zM420 477h1v1h-1zM431 477h1v1h-1zM435 477h1v1h-1zM438 477h1v1h-1zM440 477h1v1h-1zM454 477h1v1h-1zM130 478h1v1h-1zM134 478h1v1h-1zM137 478h4v1h-4zM142 478h1v1h-1zM149 478h1v1h-1zM153 478h1v1h-1zM156 478h2v1h-2zM244 478h1v1h-1zM340 478h1v1h-1zM347 478h1v1h-1zM364 478h1v1h-1zM366 478h1v1h-1zM368 478h1v1h-1zM384 478h1v1h-1zM388 478h2v1h-2zM396 478h1v1h-1zM398 478h1v1h-1zM400 478h1v1h-1zM403 478h1v1h-1zM405 478h1v1h-1zM408 478h1v1h-1zM410 478h1v1h-1zM414 478h1v1h-1zM424 478h1v1h-1zM439 478h1v1h-1zM444 478h1v1h-1zM123 479h1v1h-1zM126 479h2v1h-2zM129 479h2v1h-2zM134 479h3v1h-3zM142 479h2v1h-2zM148 479h1v1h-1zM151 479h1v1h-1zM155 479h1v1h-1zM172 479h1v1h-1zM343 479h1v1h-1zM370 479h1v1h-1zM383 479h1v1h-1zM386 479h1v1h-1zM392 479h1v1h-1zM398 479h1v1h-1zM400 479h1v1h-1zM402 479h1v1h-1zM404 479h1v1h-1zM409 479h1v1h-1zM412 479h1v1h-1zM415 479h1v1h-1zM431 479h1v1h-1zM451 479h1v1h-1zM131 480h2v1h-2zM137 480h2v1h-2zM150 480h1v1h-1zM154 480h1v1h-1zM159 480h1v1h-1zM228 480h1v1h-1zM263 480h1v1h-1zM343 480h2v1h-2zM354 480h1v1h-1zM365 480h1v1h-1zM372 480h1v1h-1zM395 480h1v1h-1zM404 480h1v1h-1zM406 480h1v1h-1zM408 480h1v1h-1zM410 480h1v1h-1zM413 480h1v1h-1zM415 480h2v1h-2zM419 480h1v1h-1zM426 480h1v1h-1zM450 480h2v1h-2zM118 481h1v1h-1zM126 481h1v1h-1zM129 481h1v1h-1zM138 481h1v1h-1zM144 481h1v1h-1zM147 481h1v1h-1zM150 481h1v1h-1zM153 481h1v1h-1zM157 481h1v1h-1zM228 481h1v1h-1zM345 481h2v1h-2zM366 481h1v1h-1zM382 481h2v1h-2zM397 481h1v1h-1zM405 481h1v1h-1zM412 481h1v1h-1zM414 481h1v1h-1zM422 481h2v1h-2zM441 481h1v1h-1zM132 482h1v1h-1zM134 482h1v1h-1zM142 482h1v1h-1zM150 482h1v1h-1zM152 482h1v1h-1zM154 482h1v1h-1zM157 482h1v1h-1zM261 482h1v1h-1zM352 482h2v1h-2zM363 482h1v1h-1zM365 482h1v1h-1zM391 482h1v1h-1zM397 482h1v1h-1zM403 482h2v1h-2zM406 482h1v1h-1zM408 482h1v1h-1zM410 482h2v1h-2zM415 482h1v1h-1zM418 482h1v1h-1zM424 482h2v1h-2zM429 482h1v1h-1zM431 482h1v1h-1zM433 482h1v1h-1zM436 482h1v1h-1zM125 483h1v1h-1zM129 483h1v1h-1zM137 483h3v1h-3zM142 483h1v1h-1zM145 483h1v1h-1zM150 483h1v1h-1zM153 483h1v1h-1zM159 483h2v1h-2zM231 483h1v1h-1zM261 483h1v1h-1zM351 483h1v1h-1zM354 483h1v1h-1zM386 483h1v1h-1zM392 483h1v1h-1zM396 483h1v1h-1zM400 483h2v1h-2zM407 483h1v1h-1zM409 483h1v1h-1zM414 483h1v1h-1zM420 483h1v1h-1zM423 483h1v1h-1zM426 483h1v1h-1zM434 483h1v1h-1zM125 484h1v1h-1zM129 484h1v1h-1zM132 484h1v1h-1zM136 484h2v1h-2zM142 484h1v1h-1zM145 484h1v1h-1zM151 484h1v1h-1zM155 484h1v1h-1zM157 484h2v1h-2zM196 484h1v1h-1zM230 484h1v1h-1zM251 484h1v1h-1zM388 484h1v1h-1zM391 484h1v1h-1zM399 484h1v1h-1zM402 484h1v1h-1zM404 484h1v1h-1zM412 484h2v1h-2zM417 484h1v1h-1zM425 484h1v1h-1zM427 484h4v1h-4zM434 484h1v1h-1zM436 484h1v1h-1zM458 484h1v1h-1zM127 485h2v1h-2zM132 485h1v1h-1zM135 485h1v1h-1zM148 485h1v1h-1zM150 485h1v1h-1zM152 485h1v1h-1zM154 485h1v1h-1zM156 485h1v1h-1zM163 485h1v1h-1zM169 485h1v1h-1zM248 485h1v1h-1zM251 485h1v1h-1zM339 485h1v1h-1zM343 485h1v1h-1zM345 485h1v1h-1zM347 485h1v1h-1zM349 485h1v1h-1zM387 485h1v1h-1zM408 485h1v1h-1zM411 485h1v1h-1zM416 485h1v1h-1zM418 485h1v1h-1zM420 485h2v1h-2zM424 485h1v1h-1zM431 485h2v1h-2zM453 485h1v1h-1zM461 485h1v1h-1zM468 485h1v1h-1zM472 485h1v1h-1zM133 486h1v1h-1zM140 486h1v1h-1zM142 486h2v1h-2zM145 486h1v1h-1zM147 486h1v1h-1zM150 486h1v1h-1zM152 486h2v1h-2zM169 486h1v1h-1zM235 486h2v1h-2zM343 486h1v1h-1zM345 486h1v1h-1zM348 486h1v1h-1zM386 486h1v1h-1zM402 486h1v1h-1zM407 486h1v1h-1zM421 486h1v1h-1zM425 486h1v1h-1zM429 486h2v1h-2zM112 487h1v1h-1zM125 487h2v1h-2zM135 487h1v1h-1zM144 487h1v1h-1zM151 487h1v1h-1zM155 487h1v1h-1zM164 487h1v1h-1zM166 487h1v1h-1zM236 487h1v1h-1zM340 487h1v1h-1zM374 487h1v1h-1zM399 487h1v1h-1zM402 487h1v1h-1zM408 487h2v1h-2zM411 487h1v1h-1zM414 487h1v1h-1zM418 487h1v1h-1zM425 487h1v1h-1zM431 487h1v1h-1zM437 487h2v1h-2zM467 487h1v1h-1zM125 488h1v1h-1zM129 488h1v1h-1zM133 488h1v1h-1zM135 488h1v1h-1zM137 488h1v1h-1zM139 488h1v1h-1zM142 488h1v1h-1zM146 488h1v1h-1zM148 488h1v1h-1zM151 488h1v1h-1zM156 488h1v1h-1zM341 488h1v1h-1zM396 488h1v1h-1zM398 488h1v1h-1zM415 488h1v1h-1zM421 488h1v1h-1zM424 488h1v1h-1zM427 488h1v1h-1zM432 488h1v1h-1zM434 488h1v1h-1zM126 489h1v1h-1zM134 489h1v1h-1zM137 489h2v1h-2zM143 489h1v1h-1zM149 489h1v1h-1zM153 489h1v1h-1zM227 489h1v1h-1zM229 489h1v1h-1zM235 489h1v1h-1zM397 489h1v1h-1zM411 489h1v1h-1zM413 489h1v1h-1zM417 489h1v1h-1zM421 489h1v1h-1zM424 489h2v1h-2zM427 489h1v1h-1zM430 489h2v1h-2zM433 489h1v1h-1zM440 489h1v1h-1zM442 489h1v1h-1zM114 490h1v1h-1zM125 490h1v1h-1zM127 490h1v1h-1zM131 490h1v1h-1zM133 490h1v1h-1zM139 490h1v1h-1zM146 490h1v1h-1zM148 490h1v1h-1zM153 490h1v1h-1zM156 490h1v1h-1zM167 490h1v1h-1zM175 490h1v1h-1zM216 490h1v1h-1zM382 490h1v1h-1zM407 490h1v1h-1zM409 490h1v1h-1zM412 490h1v1h-1zM414 490h1v1h-1zM416 490h1v1h-1zM418 490h1v1h-1zM426 490h1v1h-1zM430 490h1v1h-1zM434 490h1v1h-1zM125 491h1v1h-1zM143 491h1v1h-1zM145 491h1v1h-1zM153 491h1v1h-1zM155 491h1v1h-1zM157 491h1v1h-1zM159 491h1v1h-1zM164 491h1v1h-1zM168 491h1v1h-1zM173 491h1v1h-1zM199 491h1v1h-1zM227 491h1v1h-1zM395 491h1v1h-1zM408 491h1v1h-1zM411 491h1v1h-1zM418 491h2v1h-2zM424 491h1v1h-1zM428 491h1v1h-1zM114 492h1v1h-1zM122 492h1v1h-1zM124 492h1v1h-1zM127 492h1v1h-1zM129 492h1v1h-1zM139 492h1v1h-1zM142 492h1v1h-1zM151 492h1v1h-1zM153 492h1v1h-1zM162 492h1v1h-1zM166 492h2v1h-2zM404 492h1v1h-1zM410 492h1v1h-1zM414 492h2v1h-2zM417 492h1v1h-1zM420 492h1v1h-1zM426 492h1v1h-1zM428 492h2v1h-2zM431 492h1v1h-1zM447 492h1v1h-1zM465 492h1v1h-1zM116 493h1v1h-1zM136 493h1v1h-1zM139 493h1v1h-1zM141 493h1v1h-1zM144 493h1v1h-1zM148 493h1v1h-1zM154 493h1v1h-1zM169 493h1v1h-1zM176 493h1v1h-1zM195 493h1v1h-1zM200 493h1v1h-1zM250 493h1v1h-1zM398 493h1v1h-1zM400 493h1v1h-1zM403 493h1v1h-1zM407 493h1v1h-1zM412 493h1v1h-1zM414 493h1v1h-1zM418 493h1v1h-1zM420 493h1v1h-1zM424 493h1v1h-1zM465 493h1v1h-1zM114 494h2v1h-2zM117 494h1v1h-1zM119 494h1v1h-1zM122 494h1v1h-1zM125 494h1v1h-1zM132 494h1v1h-1zM136 494h1v1h-1zM138 494h1v1h-1zM140 494h1v1h-1zM145 494h1v1h-1zM150 494h1v1h-1zM158 494h1v1h-1zM163 494h3v1h-3zM167 494h2v1h-2zM170 494h1v1h-1zM177 494h1v1h-1zM199 494h1v1h-1zM223 494h1v1h-1zM399 494h1v1h-1zM401 494h2v1h-2zM407 494h1v1h-1zM413 494h1v1h-1zM415 494h1v1h-1zM419 494h1v1h-1zM422 494h2v1h-2zM429 494h1v1h-1zM434 494h1v1h-1zM118 495h1v1h-1zM127 495h1v1h-1zM134 495h1v1h-1zM142 495h1v1h-1zM147 495h1v1h-1zM159 495h1v1h-1zM161 495h1v1h-1zM165 495h1v1h-1zM167 495h1v1h-1zM171 495h1v1h-1zM198 495h1v1h-1zM398 495h1v1h-1zM403 495h1v1h-1zM411 495h2v1h-2zM418 495h1v1h-1zM420 495h1v1h-1zM424 495h1v1h-1zM427 495h1v1h-1zM431 495h1v1h-1zM433 495h1v1h-1zM112 496h1v1h-1zM117 496h1v1h-1zM119 496h1v1h-1zM121 496h2v1h-2zM125 496h1v1h-1zM128 496h1v1h-1zM132 496h1v1h-1zM135 496h1v1h-1zM141 496h1v1h-1zM143 496h1v1h-1zM145 496h1v1h-1zM154 496h1v1h-1zM159 496h1v1h-1zM161 496h1v1h-1zM163 496h1v1h-1zM165 496h1v1h-1zM168 496h2v1h-2zM203 496h1v1h-1zM247 496h1v1h-1zM263 496h1v1h-1zM376 496h1v1h-1zM410 496h1v1h-1zM413 496h1v1h-1zM416 496h1v1h-1zM419 496h1v1h-1zM422 496h1v1h-1zM428 496h1v1h-1zM431 496h1v1h-1zM112 497h1v1h-1zM123 497h2v1h-2zM126 497h1v1h-1zM129 497h1v1h-1zM136 497h1v1h-1zM146 497h1v1h-1zM152 497h1v1h-1zM155 497h2v1h-2zM158 497h1v1h-1zM160 497h1v1h-1zM165 497h1v1h-1zM172 497h1v1h-1zM347 497h1v1h-1zM374 497h1v1h-1zM397 497h1v1h-1zM399 497h3v1h-3zM403 497h1v1h-1zM414 497h1v1h-1zM418 497h1v1h-1zM420 497h1v1h-1zM424 497h2v1h-2zM430 497h1v1h-1zM116 498h1v1h-1zM122 498h1v1h-1zM131 498h1v1h-1zM134 498h1v1h-1zM137 498h1v1h-1zM139 498h1v1h-1zM141 498h2v1h-2zM149 498h1v1h-1zM153 498h1v1h-1zM156 498h2v1h-2zM159 498h1v1h-1zM164 498h1v1h-1zM202 498h1v1h-1zM213 498h1v1h-1zM350 498h1v1h-1zM398 498h2v1h-2zM401 498h1v1h-1zM407 498h1v1h-1zM409 498h2v1h-2zM413 498h1v1h-1zM422 498h1v1h-1zM426 498h1v1h-1zM430 498h1v1h-1zM112 499h2v1h-2zM117 499h1v1h-1zM123 499h1v1h-1zM126 499h1v1h-1zM128 499h1v1h-1zM130 499h1v1h-1zM140 499h1v1h-1zM147 499h1v1h-1zM151 499h1v1h-1zM162 499h1v1h-1zM172 499h1v1h-1zM212 499h1v1h-1zM235 499h1v1h-1zM347 499h1v1h-1zM384 499h1v1h-1zM398 499h1v1h-1zM408 499h1v1h-1zM416 499h2v1h-2zM423 499h1v1h-1zM430 499h1v1h-1zM435 499h1v1h-1zM113 500h1v1h-1zM117 500h2v1h-2zM122 500h1v1h-1zM125 500h1v1h-1zM138 500h1v1h-1zM142 500h1v1h-1zM150 500h1v1h-1zM153 500h1v1h-1zM155 500h1v1h-1zM157 500h1v1h-1zM160 500h1v1h-1zM164 500h1v1h-1zM167 500h1v1h-1zM345 500h1v1h-1zM361 500h1v1h-1zM400 500h1v1h-1zM402 500h1v1h-1zM404 500h1v1h-1zM413 500h2v1h-2zM417 500h1v1h-1zM426 500h1v1h-1zM429 500h1v1h-1zM433 500h1v1h-1zM115 501h1v1h-1zM126 501h1v1h-1zM134 501h1v1h-1zM149 501h1v1h-1zM151 501h1v1h-1zM153 501h1v1h-1zM156 501h1v1h-1zM159 501h1v1h-1zM162 501h1v1h-1zM170 501h1v1h-1zM188 501h1v1h-1zM399 501h1v1h-1zM401 501h1v1h-1zM405 501h1v1h-1zM418 501h1v1h-1zM422 501h1v1h-1zM428 501h1v1h-1zM454 501h1v1h-1zM115 502h1v1h-1zM122 502h1v1h-1zM127 502h1v1h-1zM132 502h2v1h-2zM144 502h1v1h-1zM157 502h1v1h-1zM160 502h2v1h-2zM175 502h1v1h-1zM179 502h1v1h-1zM189 502h2v1h-2zM193 502h1v1h-1zM212 502h1v1h-1zM388 502h1v1h-1zM403 502h1v1h-1zM416 502h1v1h-1zM421 502h1v1h-1zM424 502h1v1h-1zM429 502h1v1h-1zM434 502h1v1h-1zM438 502h1v1h-1zM454 502h1v1h-1zM117 503h1v1h-1zM126 503h1v1h-1zM129 503h1v1h-1zM134 503h1v1h-1zM137 503h1v1h-1zM143 503h1v1h-1zM149 503h1v1h-1zM156 503h1v1h-1zM159 503h1v1h-1zM163 503h1v1h-1zM165 503h1v1h-1zM170 503h1v1h-1zM173 503h1v1h-1zM211 503h1v1h-1zM402 503h2v1h-2zM409 503h1v1h-1zM411 503h1v1h-1zM414 503h1v1h-1zM421 503h1v1h-1zM423 503h1v1h-1zM427 503h1v1h-1zM429 503h1v1h-1zM431 503h1v1h-1zM115 504h1v1h-1zM118 504h1v1h-1zM120 504h2v1h-2zM123 504h1v1h-1zM128 504h1v1h-1zM130 504h1v1h-1zM133 504h1v1h-1zM143 504h1v1h-1zM150 504h1v1h-1zM153 504h1v1h-1zM160 504h1v1h-1zM162 504h1v1h-1zM171 504h1v1h-1zM174 504h1v1h-1zM184 504h1v1h-1zM207 504h1v1h-1zM209 504h1v1h-1zM213 504h1v1h-1zM221 504h1v1h-1zM223 504h1v1h-1zM230 504h1v1h-1zM386 504h1v1h-1zM400 504h1v1h-1zM402 504h1v1h-1zM404 504h1v1h-1zM408 504h1v1h-1zM410 504h1v1h-1zM412 504h1v1h-1zM417 504h1v1h-1zM422 504h1v1h-1zM424 504h1v1h-1zM433 504h1v1h-1zM112 505h2v1h-2zM129 505h1v1h-1zM131 505h1v1h-1zM137 505h2v1h-2zM144 505h1v1h-1zM148 505h1v1h-1zM156 505h1v1h-1zM160 505h2v1h-2zM164 505h1v1h-1zM167 505h1v1h-1zM211 505h1v1h-1zM361 505h1v1h-1zM365 505h1v1h-1zM406 505h1v1h-1zM428 505h1v1h-1zM430 505h2v1h-2zM433 505h2v1h-2zM455 505h1v1h-1zM114 506h1v1h-1zM118 506h1v1h-1zM124 506h1v1h-1zM127 506h1v1h-1zM130 506h1v1h-1zM137 506h1v1h-1zM141 506h3v1h-3zM154 506h1v1h-1zM161 506h1v1h-1zM164 506h1v1h-1zM186 506h1v1h-1zM222 506h1v1h-1zM408 506h2v1h-2zM412 506h1v1h-1zM414 506h1v1h-1zM417 506h1v1h-1zM419 506h1v1h-1zM421 506h1v1h-1zM426 506h1v1h-1zM430 506h1v1h-1zM434 506h1v1h-1zM437 506h1v1h-1zM114 507h1v1h-1zM116 507h1v1h-1zM118 507h1v1h-1zM128 507h1v1h-1zM131 507h1v1h-1zM134 507h1v1h-1zM139 507h1v1h-1zM148 507h1v1h-1zM163 507h2v1h-2zM166 507h1v1h-1zM199 507h1v1h-1zM239 507h1v1h-1zM349 507h1v1h-1zM399 507h1v1h-1zM403 507h1v1h-1zM405 507h1v1h-1zM408 507h1v1h-1zM410 507h1v1h-1zM413 507h1v1h-1zM423 507h1v1h-1zM427 507h1v1h-1zM429 507h1v1h-1zM435 507h2v1h-2zM113 508h1v1h-1zM126 508h1v1h-1zM129 508h2v1h-2zM134 508h1v1h-1zM138 508h2v1h-2zM143 508h1v1h-1zM149 508h2v1h-2zM157 508h2v1h-2zM161 508h2v1h-2zM176 508h1v1h-1zM239 508h1v1h-1zM371 508h1v1h-1zM392 508h1v1h-1zM395 508h1v1h-1zM397 508h1v1h-1zM400 508h2v1h-2zM406 508h1v1h-1zM408 508h1v1h-1zM412 508h1v1h-1zM415 508h1v1h-1zM421 508h1v1h-1zM425 508h1v1h-1zM428 508h1v1h-1zM430 508h1v1h-1zM434 508h1v1h-1zM438 508h1v1h-1zM115 509h1v1h-1zM118 509h1v1h-1zM125 509h1v1h-1zM128 509h1v1h-1zM131 509h1v1h-1zM142 509h1v1h-1zM148 509h1v1h-1zM153 509h1v1h-1zM161 509h1v1h-1zM164 509h1v1h-1zM169 509h1v1h-1zM175 509h1v1h-1zM181 509h1v1h-1zM405 509h1v1h-1zM407 509h1v1h-1zM415 509h1v1h-1zM423 509h1v1h-1zM429 509h1v1h-1zM439 509h1v1h-1zM113 510h1v1h-1zM116 510h1v1h-1zM124 510h1v1h-1zM127 510h1v1h-1zM129 510h1v1h-1zM137 510h1v1h-1zM141 510h1v1h-1zM143 510h1v1h-1zM153 510h1v1h-1zM155 510h2v1h-2zM162 510h1v1h-1zM165 510h1v1h-1zM179 510h1v1h-1zM182 510h2v1h-2zM398 510h2v1h-2zM403 510h2v1h-2zM406 510h2v1h-2zM410 510h1v1h-1zM413 510h1v1h-1zM422 510h1v1h-1zM428 510h1v1h-1zM431 510h1v1h-1zM436 510h1v1h-1zM438 510h1v1h-1zM113 511h1v1h-1zM120 511h1v1h-1zM126 511h1v1h-1zM128 511h1v1h-1zM140 511h1v1h-1zM145 511h1v1h-1zM149 511h1v1h-1zM153 511h2v1h-2zM159 511h2v1h-2zM163 511h2v1h-2zM166 511h1v1h-1zM168 511h1v1h-1zM173 511h1v1h-1zM256 511h1v1h-1zM399 511h2v1h-2zM402 511h2v1h-2zM419 511h1v1h-1zM427 511h1v1h-1zM429 511h1v1h-1zM431 511h2v1h-2zM440 511h1v1h-1zM449 511h1v1h-1zM114 512h2v1h-2zM119 512h1v1h-1zM124 512h1v1h-1zM127 512h1v1h-1zM143 512h1v1h-1zM151 512h1v1h-1zM162 512h1v1h-1zM171 512h1v1h-1zM175 512h1v1h-1zM196 512h1v1h-1zM400 512h1v1h-1zM405 512h1v1h-1zM409 512h2v1h-2zM418 512h1v1h-1zM426 512h1v1h-1zM433 512h2v1h-2zM438 512h1v1h-1zM112 513h1v1h-1zM118 513h1v1h-1zM121 513h1v1h-1zM126 513h1v1h-1zM142 513h1v1h-1zM144 513h1v1h-1zM156 513h1v1h-1zM160 513h1v1h-1zM165 513h1v1h-1zM176 513h1v1h-1zM212 513h1v1h-1zM380 513h1v1h-1zM395 513h1v1h-1zM397 513h1v1h-1zM399 513h1v1h-1zM401 513h1v1h-1zM404 513h1v1h-1zM406 513h1v1h-1zM409 513h1v1h-1zM412 513h2v1h-2zM415 513h1v1h-1zM420 513h1v1h-1zM429 513h2v1h-2zM432 513h1v1h-1zM114 514h1v1h-1zM117 514h1v1h-1zM119 514h1v1h-1zM124 514h1v1h-1zM128 514h1v1h-1zM133 514h1v1h-1zM141 514h1v1h-1zM143 514h1v1h-1zM145 514h1v1h-1zM153 514h1v1h-1zM163 514h2v1h-2zM166 514h1v1h-1zM168 514h1v1h-1zM170 514h2v1h-2zM186 514h1v1h-1zM206 514h1v1h-1zM262 514h1v1h-1zM357 514h1v1h-1zM381 514h1v1h-1zM393 514h1v1h-1zM403 514h1v1h-1zM406 514h1v1h-1zM409 514h1v1h-1zM420 514h2v1h-2zM427 514h1v1h-1zM436 514h1v1h-1zM438 514h1v1h-1zM112 515h1v1h-1zM118 515h1v1h-1zM126 515h1v1h-1zM131 515h1v1h-1zM139 515h1v1h-1zM147 515h1v1h-1zM159 515h1v1h-1zM165 515h1v1h-1zM168 515h1v1h-1zM185 515h1v1h-1zM195 515h1v1h-1zM380 515h1v1h-1zM387 515h1v1h-1zM395 515h1v1h-1zM400 515h2v1h-2zM410 515h1v1h-1zM417 515h1v1h-1zM419 515h1v1h-1zM426 515h1v1h-1zM432 515h1v1h-1zM437 515h1v1h-1zM123 516h1v1h-1zM127 516h1v1h-1zM130 516h1v1h-1zM134 516h1v1h-1zM139 516h1v1h-1zM143 516h1v1h-1zM156 516h1v1h-1zM158 516h1v1h-1zM163 516h1v1h-1zM172 516h1v1h-1zM175 516h1v1h-1zM255 516h1v1h-1zM263 516h1v1h-1zM369 516h1v1h-1zM394 516h1v1h-1zM399 516h1v1h-1zM402 516h1v1h-1zM411 516h1v1h-1zM415 516h1v1h-1zM418 516h1v1h-1zM423 516h1v1h-1zM426 516h1v1h-1zM428 516h1v1h-1zM430 516h1v1h-1zM432 516h2v1h-2zM437 516h1v1h-1zM449 516h1v1h-1zM116 517h1v1h-1zM125 517h2v1h-2zM129 517h1v1h-1zM136 517h1v1h-1zM138 517h1v1h-1zM141 517h1v1h-1zM146 517h1v1h-1zM149 517h1v1h-1zM151 517h1v1h-1zM158 517h1v1h-1zM192 517h1v1h-1zM202 517h1v1h-1zM251 517h1v1h-1zM352 517h1v1h-1zM358 517h1v1h-1zM398 517h2v1h-2zM401 517h1v1h-1zM404 517h1v1h-1zM413 517h1v1h-1zM416 517h1v1h-1zM421 517h1v1h-1zM427 517h1v1h-1zM431 517h1v1h-1zM433 517h2v1h-2zM436 517h1v1h-1zM113 518h1v1h-1zM115 518h1v1h-1zM118 518h1v1h-1zM126 518h1v1h-1zM134 518h1v1h-1zM137 518h1v1h-1zM141 518h1v1h-1zM143 518h2v1h-2zM153 518h1v1h-1zM169 518h1v1h-1zM171 518h1v1h-1zM173 518h1v1h-1zM176 518h1v1h-1zM193 518h1v1h-1zM226 518h1v1h-1zM368 518h1v1h-1zM381 518h1v1h-1zM394 518h1v1h-1zM398 518h1v1h-1zM401 518h1v1h-1zM409 518h1v1h-1zM411 518h2v1h-2zM414 518h1v1h-1zM419 518h1v1h-1zM425 518h1v1h-1zM429 518h1v1h-1zM434 518h1v1h-1zM437 518h1v1h-1zM458 518h1v1h-1zM114 519h1v1h-1zM116 519h1v1h-1zM120 519h1v1h-1zM124 519h1v1h-1zM132 519h2v1h-2zM138 519h1v1h-1zM141 519h1v1h-1zM147 519h2v1h-2zM152 519h1v1h-1zM156 519h2v1h-2zM164 519h1v1h-1zM168 519h1v1h-1zM170 519h1v1h-1zM172 519h2v1h-2zM177 519h1v1h-1zM194 519h1v1h-1zM382 519h1v1h-1zM398 519h1v1h-1zM405 519h1v1h-1zM410 519h1v1h-1zM413 519h1v1h-1zM416 519h1v1h-1zM421 519h1v1h-1zM431 519h1v1h-1zM434 519h1v1h-1zM436 519h1v1h-1zM112 520h1v1h-1zM114 520h1v1h-1zM117 520h2v1h-2zM121 520h1v1h-1zM124 520h1v1h-1zM131 520h1v1h-1zM135 520h1v1h-1zM137 520h1v1h-1zM144 520h1v1h-1zM146 520h1v1h-1zM155 520h2v1h-2zM159 520h1v1h-1zM162 520h1v1h-1zM166 520h1v1h-1zM178 520h2v1h-2zM184 520h1v1h-1zM189 520h1v1h-1zM388 520h1v1h-1zM399 520h1v1h-1zM401 520h3v1h-3zM407 520h1v1h-1zM411 520h1v1h-1zM415 520h1v1h-1zM418 520h2v1h-2zM422 520h1v1h-1zM454 520h1v1h-1zM113 521h1v1h-1zM115 521h1v1h-1zM118 521h1v1h-1zM121 521h1v1h-1zM123 521h1v1h-1zM129 521h1v1h-1zM133 521h1v1h-1zM139 521h1v1h-1zM147 521h1v1h-1zM151 521h1v1h-1zM158 521h1v1h-1zM164 521h1v1h-1zM168 521h1v1h-1zM171 521h2v1h-2zM176 521h1v1h-1zM389 521h1v1h-1zM400 521h1v1h-1zM406 521h1v1h-1zM408 521h1v1h-1zM413 521h1v1h-1zM416 521h1v1h-1zM419 521h1v1h-1zM421 521h1v1h-1zM424 521h1v1h-1zM430 521h1v1h-1zM432 521h1v1h-1zM436 521h1v1h-1zM114 522h1v1h-1zM117 522h2v1h-2zM122 522h1v1h-1zM128 522h1v1h-1zM132 522h1v1h-1zM139 522h1v1h-1zM141 522h1v1h-1zM147 522h1v1h-1zM156 522h3v1h-3zM169 522h1v1h-1zM174 522h1v1h-1zM180 522h1v1h-1zM216 522h1v1h-1zM224 522h1v1h-1zM354 522h1v1h-1zM383 522h1v1h-1zM388 522h1v1h-1zM399 522h1v1h-1zM401 522h3v1h-3zM408 522h1v1h-1zM410 522h1v1h-1zM412 522h1v1h-1zM414 522h1v1h-1zM417 522h1v1h-1zM420 522h1v1h-1zM434 522h1v1h-1zM439 522h1v1h-1zM441 522h1v1h-1zM115 523h1v1h-1zM120 523h1v1h-1zM123 523h1v1h-1zM131 523h1v1h-1zM134 523h1v1h-1zM136 523h1v1h-1zM138 523h2v1h-2zM149 523h1v1h-1zM164 523h1v1h-1zM173 523h1v1h-1zM186 523h1v1h-1zM245 523h1v1h-1zM370 523h1v1h-1zM393 523h1v1h-1zM395 523h1v1h-1zM398 523h2v1h-2zM404 523h1v1h-1zM406 523h2v1h-2zM414 523h1v1h-1zM418 523h2v1h-2zM430 523h1v1h-1zM435 523h1v1h-1zM114 524h2v1h-2zM123 524h1v1h-1zM133 524h1v1h-1zM135 524h1v1h-1zM137 524h1v1h-1zM141 524h1v1h-1zM148 524h1v1h-1zM156 524h1v1h-1zM160 524h1v1h-1zM164 524h1v1h-1zM170 524h1v1h-1zM180 524h1v1h-1zM380 524h1v1h-1zM382 524h1v1h-1zM384 524h1v1h-1zM386 524h1v1h-1zM392 524h1v1h-1zM397 524h1v1h-1zM402 524h1v1h-1zM405 524h1v1h-1zM407 524h1v1h-1zM411 524h2v1h-2zM415 524h1v1h-1zM417 524h2v1h-2zM424 524h1v1h-1zM428 524h1v1h-1zM430 524h1v1h-1zM434 524h1v1h-1zM456 524h1v1h-1zM113 525h1v1h-1zM116 525h1v1h-1zM123 525h1v1h-1zM125 525h1v1h-1zM132 525h1v1h-1zM135 525h1v1h-1zM139 525h1v1h-1zM157 525h1v1h-1zM160 525h1v1h-1zM162 525h2v1h-2zM165 525h1v1h-1zM167 525h1v1h-1zM169 525h1v1h-1zM171 525h1v1h-1zM173 525h1v1h-1zM175 525h1v1h-1zM183 525h1v1h-1zM379 525h1v1h-1zM385 525h1v1h-1zM387 525h1v1h-1zM395 525h2v1h-2zM399 525h1v1h-1zM401 525h1v1h-1zM411 525h1v1h-1zM414 525h1v1h-1zM425 525h2v1h-2zM429 525h1v1h-1zM431 525h1v1h-1zM433 525h2v1h-2zM443 525h1v1h-1zM118 526h1v1h-1zM122 526h1v1h-1zM128 526h1v1h-1zM136 526h1v1h-1zM145 526h1v1h-1zM159 526h2v1h-2zM168 526h1v1h-1zM172 526h1v1h-1zM175 526h1v1h-1zM178 526h1v1h-1zM181 526h1v1h-1zM255 526h1v1h-1zM348 526h1v1h-1zM369 526h1v1h-1zM378 526h1v1h-1zM380 526h1v1h-1zM394 526h1v1h-1zM403 526h1v1h-1zM409 526h1v1h-1zM413 526h1v1h-1zM420 526h2v1h-2zM424 526h1v1h-1zM426 526h1v1h-1zM430 526h2v1h-2zM433 526h1v1h-1zM435 526h1v1h-1zM115 527h1v1h-1zM119 527h1v1h-1zM122 527h1v1h-1zM144 527h1v1h-1zM146 527h1v1h-1zM154 527h1v1h-1zM158 527h2v1h-2zM161 527h1v1h-1zM165 527h1v1h-1zM169 527h1v1h-1zM179 527h1v1h-1zM245 527h1v1h-1zM387 527h1v1h-1zM389 527h1v1h-1zM393 527h1v1h-1zM398 527h1v1h-1zM403 527h1v1h-1zM406 527h3v1h-3zM411 527h1v1h-1zM413 527h1v1h-1zM416 527h1v1h-1zM422 527h1v1h-1zM424 527h2v1h-2zM427 527h1v1h-1zM429 527h1v1h-1zM435 527h1v1h-1zM113 528h2v1h-2zM116 528h1v1h-1zM120 528h1v1h-1zM128 528h1v1h-1zM134 528h1v1h-1zM137 528h1v1h-1zM142 528h1v1h-1zM152 528h1v1h-1zM166 528h1v1h-1zM168 528h1v1h-1zM170 528h1v1h-1zM172 528h2v1h-2zM185 528h1v1h-1zM210 528h1v1h-1zM376 528h1v1h-1zM386 528h1v1h-1zM392 528h1v1h-1zM401 528h1v1h-1zM404 528h2v1h-2zM410 528h2v1h-2zM416 528h1v1h-1zM420 528h1v1h-1zM430 528h2v1h-2zM434 528h1v1h-1zM113 529h1v1h-1zM115 529h1v1h-1zM120 529h1v1h-1zM135 529h1v1h-1zM140 529h1v1h-1zM142 529h1v1h-1zM146 529h1v1h-1zM153 529h1v1h-1zM159 529h1v1h-1zM165 529h1v1h-1zM169 529h1v1h-1zM171 529h1v1h-1zM374 529h1v1h-1zM382 529h1v1h-1zM389 529h1v1h-1zM392 529h1v1h-1zM399 529h1v1h-1zM401 529h1v1h-1zM403 529h1v1h-1zM406 529h1v1h-1zM409 529h1v1h-1zM412 529h1v1h-1zM417 529h2v1h-2zM421 529h1v1h-1zM425 529h1v1h-1zM432 529h2v1h-2zM436 529h1v1h-1zM113 530h1v1h-1zM124 530h2v1h-2zM134 530h1v1h-1zM137 530h1v1h-1zM141 530h1v1h-1zM145 530h1v1h-1zM150 530h1v1h-1zM154 530h1v1h-1zM156 530h1v1h-1zM169 530h1v1h-1zM171 530h1v1h-1zM179 530h1v1h-1zM216 530h1v1h-1zM388 530h1v1h-1zM391 530h1v1h-1zM394 530h1v1h-1zM397 530h1v1h-1zM400 530h1v1h-1zM404 530h1v1h-1zM408 530h1v1h-1zM416 530h1v1h-1zM419 530h1v1h-1zM431 530h1v1h-1zM115 531h1v1h-1zM123 531h2v1h-2zM135 531h1v1h-1zM140 531h1v1h-1zM142 531h1v1h-1zM144 531h1v1h-1zM149 531h1v1h-1zM151 531h1v1h-1zM153 531h1v1h-1zM155 531h1v1h-1zM158 531h1v1h-1zM166 531h1v1h-1zM372 531h1v1h-1zM377 531h1v1h-1zM382 531h1v1h-1zM386 531h1v1h-1zM389 531h1v1h-1zM393 531h1v1h-1zM398 531h1v1h-1zM404 531h1v1h-1zM406 531h1v1h-1zM411 531h1v1h-1zM413 531h1v1h-1zM416 531h1v1h-1zM420 531h1v1h-1zM425 531h1v1h-1zM427 531h2v1h-2zM430 531h1v1h-1zM432 531h1v1h-1zM443 531h1v1h-1zM115 532h1v1h-1zM125 532h1v1h-1zM130 532h1v1h-1zM134 532h1v1h-1zM142 532h1v1h-1zM148 532h1v1h-1zM150 532h1v1h-1zM152 532h1v1h-1zM156 532h1v1h-1zM159 532h1v1h-1zM165 532h1v1h-1zM171 532h1v1h-1zM370 532h1v1h-1zM375 532h2v1h-2zM381 532h1v1h-1zM390 532h1v1h-1zM392 532h1v1h-1zM396 532h1v1h-1zM400 532h1v1h-1zM402 532h1v1h-1zM408 532h1v1h-1zM410 532h1v1h-1zM412 532h2v1h-2zM416 532h1v1h-1zM425 532h1v1h-1zM430 532h1v1h-1zM457 532h1v1h-1zM112 533h1v1h-1zM118 533h1v1h-1zM127 533h1v1h-1zM133 533h1v1h-1zM137 533h1v1h-1zM142 533h3v1h-3zM150 533h1v1h-1zM157 533h1v1h-1zM160 533h1v1h-1zM164 533h1v1h-1zM167 533h1v1h-1zM169 533h1v1h-1zM171 533h1v1h-1zM367 533h1v1h-1zM369 533h1v1h-1zM373 533h1v1h-1zM378 533h1v1h-1zM383 533h1v1h-1zM390 533h1v1h-1zM402 533h2v1h-2zM409 533h1v1h-1zM414 533h2v1h-2zM419 533h1v1h-1zM431 533h1v1h-1zM435 533h1v1h-1zM447 533h1v1h-1zM113 534h1v1h-1zM116 534h1v1h-1zM119 534h1v1h-1zM123 534h1v1h-1zM127 534h1v1h-1zM133 534h1v1h-1zM140 534h1v1h-1zM155 534h1v1h-1zM157 534h1v1h-1zM160 534h1v1h-1zM162 534h1v1h-1zM203 534h1v1h-1zM224 534h1v1h-1zM369 534h1v1h-1zM371 534h1v1h-1zM376 534h1v1h-1zM387 534h1v1h-1zM389 534h1v1h-1zM391 534h1v1h-1zM395 534h1v1h-1zM397 534h1v1h-1zM401 534h1v1h-1zM403 534h1v1h-1zM405 534h1v1h-1zM407 534h1v1h-1zM409 534h1v1h-1zM411 534h1v1h-1zM414 534h1v1h-1zM416 534h2v1h-2zM421 534h2v1h-2zM430 534h1v1h-1zM432 534h1v1h-1zM434 534h1v1h-1zM117 535h1v1h-1zM125 535h1v1h-1zM128 535h2v1h-2zM134 535h1v1h-1zM137 535h1v1h-1zM146 535h1v1h-1zM148 535h1v1h-1zM150 535h1v1h-1zM159 535h1v1h-1zM161 535h1v1h-1zM172 535h1v1h-1zM174 535h1v1h-1zM190 535h1v1h-1zM205 535h1v1h-1zM247 535h1v1h-1zM378 535h1v1h-1zM380 535h1v1h-1zM388 535h1v1h-1zM392 535h1v1h-1zM398 535h1v1h-1zM401 535h1v1h-1zM408 535h1v1h-1zM413 535h1v1h-1zM415 535h1v1h-1zM418 535h1v1h-1zM424 535h1v1h-1zM430 535h1v1h-1zM435 535h1v1h-1zM446 535h1v1h-1zM115 536h1v1h-1zM121 536h1v1h-1zM124 536h1v1h-1zM126 536h1v1h-1zM130 536h1v1h-1zM135 536h1v1h-1zM139 536h1v1h-1zM141 536h2v1h-2zM145 536h1v1h-1zM147 536h1v1h-1zM149 536h1v1h-1zM151 536h1v1h-1zM154 536h1v1h-1zM158 536h1v1h-1zM162 536h1v1h-1zM169 536h2v1h-2zM173 536h1v1h-1zM226 536h1v1h-1zM378 536h1v1h-1zM393 536h2v1h-2zM396 536h2v1h-2zM403 536h2v1h-2zM410 536h1v1h-1zM412 536h2v1h-2zM417 536h1v1h-1zM419 536h1v1h-1zM432 536h1v1h-1zM455 536h1v1h-1zM112 537h1v1h-1zM117 537h1v1h-1zM119 537h1v1h-1zM122 537h1v1h-1zM125 537h1v1h-1zM127 537h1v1h-1zM136 537h1v1h-1zM141 537h1v1h-1zM143 537h1v1h-1zM148 537h1v1h-1zM153 537h1v1h-1zM156 537h1v1h-1zM161 537h1v1h-1zM164 537h1v1h-1zM167 537h1v1h-1zM175 537h1v1h-1zM249 537h1v1h-1zM376 537h1v1h-1zM379 537h1v1h-1zM385 537h2v1h-2zM388 537h3v1h-3zM392 537h1v1h-1zM394 537h1v1h-1zM399 537h2v1h-2zM416 537h1v1h-1zM418 537h1v1h-1zM424 537h1v1h-1zM427 537h1v1h-1zM429 537h1v1h-1zM116 538h1v1h-1zM120 538h1v1h-1zM133 538h2v1h-2zM137 538h1v1h-1zM142 538h2v1h-2zM145 538h2v1h-2zM151 538h1v1h-1zM153 538h1v1h-1zM156 538h1v1h-1zM165 538h2v1h-2zM169 538h1v1h-1zM174 538h1v1h-1zM208 538h1v1h-1zM349 538h1v1h-1zM377 538h2v1h-2zM384 538h1v1h-1zM386 538h1v1h-1zM403 538h1v1h-1zM406 538h1v1h-1zM416 538h1v1h-1zM419 538h1v1h-1zM436 538h1v1h-1zM439 538h1v1h-1zM112 539h2v1h-2zM118 539h1v1h-1zM128 539h1v1h-1zM132 539h1v1h-1zM135 539h1v1h-1zM138 539h2v1h-2zM141 539h1v1h-1zM145 539h1v1h-1zM147 539h1v1h-1zM150 539h1v1h-1zM152 539h1v1h-1zM155 539h1v1h-1zM163 539h1v1h-1zM165 539h1v1h-1zM167 539h1v1h-1zM262 539h1v1h-1zM349 539h1v1h-1zM379 539h1v1h-1zM389 539h1v1h-1zM391 539h1v1h-1zM402 539h1v1h-1zM404 539h1v1h-1zM411 539h1v1h-1zM413 539h2v1h-2zM418 539h1v1h-1zM423 539h1v1h-1zM430 539h1v1h-1zM434 539h1v1h-1zM115 540h1v1h-1zM119 540h1v1h-1zM123 540h1v1h-1zM135 540h1v1h-1zM137 540h2v1h-2zM140 540h1v1h-1zM153 540h1v1h-1zM159 540h1v1h-1zM164 540h1v1h-1zM166 540h1v1h-1zM175 540h1v1h-1zM239 540h1v1h-1zM349 540h1v1h-1zM370 540h1v1h-1zM373 540h1v1h-1zM378 540h1v1h-1zM385 540h1v1h-1zM394 540h1v1h-1zM401 540h1v1h-1zM406 540h1v1h-1zM409 540h1v1h-1zM412 540h1v1h-1zM414 540h1v1h-1zM417 540h1v1h-1zM422 540h1v1h-1zM425 540h2v1h-2zM428 540h1v1h-1zM436 540h2v1h-2zM452 540h1v1h-1zM118 541h1v1h-1zM124 541h1v1h-1zM127 541h1v1h-1zM130 541h1v1h-1zM137 541h1v1h-1zM150 541h1v1h-1zM160 541h1v1h-1zM167 541h2v1h-2zM170 541h1v1h-1zM172 541h1v1h-1zM176 541h1v1h-1zM210 541h1v1h-1zM357 541h1v1h-1zM371 541h2v1h-2zM383 541h1v1h-1zM392 541h1v1h-1zM394 541h1v1h-1zM402 541h1v1h-1zM408 541h1v1h-1zM413 541h1v1h-1zM416 541h1v1h-1zM420 541h1v1h-1zM431 541h1v1h-1zM436 541h1v1h-1zM119 542h2v1h-2zM130 542h1v1h-1zM138 542h1v1h-1zM141 542h1v1h-1zM146 542h1v1h-1zM152 542h1v1h-1zM158 542h1v1h-1zM162 542h1v1h-1zM170 542h1v1h-1zM174 542h1v1h-1zM238 542h2v1h-2zM252 542h1v1h-1zM375 542h1v1h-1zM390 542h1v1h-1zM408 542h1v1h-1zM414 542h1v1h-1zM416 542h2v1h-2zM424 542h1v1h-1zM426 542h2v1h-2zM430 542h1v1h-1zM439 542h1v1h-1zM112 543h1v1h-1zM115 543h1v1h-1zM122 543h2v1h-2zM126 543h1v1h-1zM129 543h1v1h-1zM131 543h2v1h-2zM134 543h1v1h-1zM149 543h1v1h-1zM154 543h3v1h-3zM158 543h1v1h-1zM161 543h2v1h-2zM164 543h1v1h-1zM169 543h1v1h-1zM239 543h1v1h-1zM385 543h1v1h-1zM387 543h1v1h-1zM390 543h1v1h-1zM393 543h1v1h-1zM412 543h1v1h-1zM415 543h1v1h-1zM420 543h1v1h-1zM426 543h1v1h-1zM114 544h1v1h-1zM116 544h1v1h-1zM118 544h1v1h-1zM122 544h1v1h-1zM128 544h1v1h-1zM130 544h2v1h-2zM142 544h1v1h-1zM148 544h1v1h-1zM158 544h2v1h-2zM171 544h1v1h-1zM198 544h1v1h-1zM240 544h1v1h-1zM382 544h1v1h-1zM389 544h1v1h-1zM413 544h1v1h-1zM424 544h1v1h-1zM114 545h1v1h-1zM118 545h1v1h-1zM126 545h1v1h-1zM149 545h1v1h-1zM151 545h1v1h-1zM153 545h1v1h-1zM155 545h1v1h-1zM161 545h1v1h-1zM164 545h1v1h-1zM169 545h1v1h-1zM171 545h1v1h-1zM179 545h1v1h-1zM209 545h1v1h-1zM370 545h1v1h-1zM373 545h1v1h-1zM383 545h2v1h-2zM395 545h1v1h-1zM406 545h1v1h-1zM414 545h2v1h-2zM419 545h1v1h-1zM423 545h1v1h-1zM112 546h1v1h-1zM115 546h1v1h-1zM118 546h1v1h-1zM123 546h2v1h-2zM127 546h2v1h-2zM135 546h1v1h-1zM141 546h1v1h-1zM143 546h1v1h-1zM147 546h1v1h-1zM149 546h1v1h-1zM155 546h1v1h-1zM159 546h1v1h-1zM163 546h1v1h-1zM165 546h1v1h-1zM168 546h1v1h-1zM170 546h1v1h-1zM173 546h1v1h-1zM250 546h1v1h-1zM342 546h2v1h-2zM347 546h1v1h-1zM371 546h1v1h-1zM381 546h1v1h-1zM383 546h1v1h-1zM394 546h1v1h-1zM396 546h1v1h-1zM400 546h1v1h-1zM411 546h1v1h-1zM424 546h1v1h-1zM428 546h1v1h-1zM448 546h1v1h-1zM122 547h1v1h-1zM126 547h1v1h-1zM128 547h1v1h-1zM137 547h1v1h-1zM143 547h1v1h-1zM151 547h1v1h-1zM153 547h1v1h-1zM156 547h1v1h-1zM163 547h1v1h-1zM170 547h1v1h-1zM371 547h1v1h-1zM385 547h1v1h-1zM404 547h1v1h-1zM406 547h1v1h-1zM414 547h1v1h-1zM421 547h2v1h-2zM426 547h1v1h-1zM444 547h1v1h-1zM115 548h1v1h-1zM120 548h1v1h-1zM123 548h1v1h-1zM125 548h1v1h-1zM132 548h2v1h-2zM138 548h2v1h-2zM141 548h2v1h-2zM147 548h1v1h-1zM152 548h1v1h-1zM161 548h1v1h-1zM375 548h1v1h-1zM382 548h2v1h-2zM398 548h1v1h-1zM416 548h2v1h-2zM419 548h1v1h-1zM423 548h1v1h-1zM114 549h1v1h-1zM121 549h1v1h-1zM125 549h1v1h-1zM128 549h1v1h-1zM134 549h1v1h-1zM139 549h1v1h-1zM145 549h1v1h-1zM152 549h1v1h-1zM173 549h1v1h-1zM342 549h1v1h-1zM346 549h2v1h-2zM370 549h1v1h-1zM372 549h1v1h-1zM397 549h1v1h-1zM401 549h1v1h-1zM415 549h1v1h-1zM422 549h1v1h-1zM117 550h1v1h-1zM121 550h1v1h-1zM123 550h1v1h-1zM125 550h1v1h-1zM129 550h1v1h-1zM133 550h1v1h-1zM135 550h1v1h-1zM139 550h1v1h-1zM145 550h1v1h-1zM147 550h1v1h-1zM149 550h1v1h-1zM152 550h2v1h-2zM160 550h1v1h-1zM184 550h1v1h-1zM342 550h1v1h-1zM348 550h2v1h-2zM403 550h1v1h-1zM117 551h1v1h-1zM119 551h1v1h-1zM121 551h2v1h-2zM126 551h1v1h-1zM128 551h2v1h-2zM134 551h1v1h-1zM146 551h1v1h-1zM151 551h1v1h-1zM154 551h1v1h-1zM159 551h1v1h-1zM345 551h2v1h-2zM351 551h1v1h-1zM369 551h1v1h-1zM371 551h2v1h-2zM406 551h1v1h-1zM423 551h1v1h-1zM114 552h1v1h-1zM116 552h1v1h-1zM118 552h1v1h-1zM123 552h1v1h-1zM126 552h1v1h-1zM133 552h1v1h-1zM136 552h1v1h-1zM142 552h1v1h-1zM146 552h1v1h-1zM148 552h1v1h-1zM150 552h1v1h-1zM153 552h1v1h-1zM156 552h2v1h-2zM162 552h1v1h-1zM164 552h1v1h-1zM341 552h1v1h-1zM344 552h1v1h-1zM347 552h1v1h-1zM352 552h1v1h-1zM408 552h1v1h-1zM439 552h1v1h-1zM115 553h1v1h-1zM119 553h1v1h-1zM126 553h3v1h-3zM132 553h2v1h-2zM145 553h1v1h-1zM152 553h1v1h-1zM157 553h1v1h-1zM182 553h1v1h-1zM236 553h1v1h-1zM239 553h1v1h-1zM244 553h1v1h-1zM348 553h1v1h-1zM370 553h1v1h-1zM406 553h1v1h-1zM409 553h1v1h-1zM114 554h1v1h-1zM116 554h2v1h-2zM119 554h1v1h-1zM121 554h1v1h-1zM128 554h1v1h-1zM132 554h1v1h-1zM143 554h1v1h-1zM148 554h1v1h-1zM150 554h1v1h-1zM153 554h1v1h-1zM158 554h1v1h-1zM253 554h1v1h-1zM342 554h1v1h-1zM346 554h1v1h-1zM403 554h1v1h-1zM436 554h1v1h-1zM112 555h1v1h-1zM133 555h1v1h-1zM135 555h1v1h-1zM137 555h2v1h-2zM141 555h2v1h-2zM144 555h1v1h-1zM146 555h1v1h-1zM149 555h1v1h-1zM152 555h1v1h-1zM156 555h1v1h-1zM159 555h1v1h-1zM343 555h1v1h-1zM345 555h2v1h-2zM352 555h1v1h-1zM396 555h1v1h-1zM407 555h1v1h-1zM409 555h3v1h-3zM114 556h1v1h-1zM120 556h1v1h-1zM122 556h1v1h-1zM125 556h1v1h-1zM128 556h1v1h-1zM132 556h2v1h-2zM140 556h1v1h-1zM142 556h1v1h-1zM148 556h1v1h-1zM162 556h1v1h-1zM168 556h1v1h-1zM344 556h1v1h-1zM372 556h1v1h-1zM379 556h1v1h-1zM389 556h1v1h-1zM410 556h1v1h-1zM425 556h1v1h-1zM449 556h1v1h-1zM114 557h1v1h-1zM117 557h1v1h-1zM121 557h2v1h-2zM125 557h1v1h-1zM130 557h1v1h-1zM139 557h2v1h-2zM147 557h1v1h-1zM157 557h2v1h-2zM161 557h1v1h-1zM342 557h1v1h-1zM346 557h1v1h-1zM348 557h1v1h-1zM351 557h1v1h-1zM394 557h1v1h-1zM409 557h1v1h-1zM118 558h2v1h-2zM125 558h1v1h-1zM127 558h1v1h-1zM129 558h1v1h-1zM131 558h1v1h-1zM133 558h2v1h-2zM143 558h1v1h-1zM149 558h2v1h-2zM164 558h1v1h-1zM202 558h2v1h-2zM226 558h1v1h-1zM245 558h1v1h-1zM343 558h1v1h-1zM354 558h1v1h-1zM409 558h1v1h-1zM430 558h1v1h-1zM116 559h2v1h-2zM119 559h1v1h-1zM125 559h1v1h-1zM143 559h1v1h-1zM145 559h1v1h-1zM148 559h1v1h-1zM151 559h1v1h-1zM157 559h1v1h-1zM232 559h1v1h-1zM249 559h1v1h-1zM259 559h1v1h-1zM350 559h2v1h-2zM382 559h1v1h-1zM411 559h1v1h-1zM414 559h1v1h-1zM419 559h1v1h-1zM118 560h1v1h-1zM121 560h1v1h-1zM124 560h1v1h-1zM126 560h2v1h-2zM134 560h1v1h-1zM136 560h1v1h-1zM142 560h1v1h-1zM144 560h1v1h-1zM147 560h1v1h-1zM160 560h1v1h-1zM165 560h1v1h-1zM167 560h1v1h-1zM343 560h1v1h-1zM349 560h1v1h-1zM354 560h1v1h-1zM387 560h1v1h-1zM396 560h1v1h-1zM410 560h1v1h-1zM420 560h1v1h-1zM470 560h1v1h-1zM115 561h1v1h-1zM120 561h1v1h-1zM122 561h1v1h-1zM124 561h1v1h-1zM127 561h1v1h-1zM129 561h1v1h-1zM143 561h1v1h-1zM150 561h2v1h-2zM153 561h1v1h-1zM246 561h1v1h-1zM340 561h1v1h-1zM365 561h1v1h-1zM386 561h1v1h-1zM394 561h1v1h-1zM419 561h1v1h-1zM437 561h2v1h-2zM465 561h1v1h-1zM115 562h1v1h-1zM127 562h2v1h-2zM130 562h2v1h-2zM137 562h3v1h-3zM141 562h2v1h-2zM144 562h1v1h-1zM152 562h1v1h-1zM348 562h1v1h-1zM381 562h1v1h-1zM397 562h1v1h-1zM408 562h1v1h-1zM410 562h1v1h-1zM443 562h1v1h-1zM447 562h2v1h-2zM134 563h1v1h-1zM141 563h1v1h-1zM150 563h1v1h-1zM153 563h1v1h-1zM155 563h1v1h-1zM157 563h1v1h-1zM340 563h1v1h-1zM348 563h1v1h-1zM350 563h1v1h-1zM352 563h1v1h-1zM354 563h1v1h-1zM384 563h1v1h-1zM390 563h1v1h-1zM394 563h1v1h-1zM403 563h1v1h-1zM405 563h1v1h-1zM443 563h1v1h-1zM113 564h1v1h-1zM119 564h1v1h-1zM121 564h1v1h-1zM128 564h1v1h-1zM132 564h1v1h-1zM136 564h1v1h-1zM140 564h1v1h-1zM151 564h2v1h-2zM156 564h1v1h-1zM169 564h1v1h-1zM340 564h1v1h-1zM386 564h1v1h-1zM396 564h1v1h-1zM398 564h1v1h-1zM417 564h1v1h-1zM467 564h1v1h-1zM114 565h1v1h-1zM118 565h1v1h-1zM128 565h1v1h-1zM137 565h1v1h-1zM139 565h1v1h-1zM147 565h1v1h-1zM150 565h1v1h-1zM153 565h1v1h-1zM158 565h1v1h-1zM170 565h1v1h-1zM220 565h1v1h-1zM253 565h1v1h-1zM342 565h1v1h-1zM353 565h1v1h-1zM384 565h1v1h-1zM395 565h1v1h-1zM408 565h1v1h-1zM121 566h2v1h-2zM132 566h1v1h-1zM134 566h2v1h-2zM138 566h1v1h-1zM149 566h2v1h-2zM160 566h1v1h-1zM167 566h1v1h-1zM239 566h1v1h-1zM258 566h1v1h-1zM346 566h1v1h-1zM351 566h1v1h-1zM354 566h1v1h-1zM375 566h1v1h-1zM381 566h1v1h-1zM385 566h1v1h-1zM396 566h1v1h-1zM415 566h1v1h-1zM417 566h1v1h-1zM427 566h1v1h-1zM115 567h1v1h-1zM121 567h1v1h-1zM124 567h1v1h-1zM127 567h1v1h-1zM130 567h1v1h-1zM133 567h1v1h-1zM136 567h1v1h-1zM151 567h2v1h-2zM157 567h1v1h-1zM175 567h1v1h-1zM113 568h1v1h-1zM120 568h1v1h-1zM123 568h1v1h-1zM132 568h1v1h-1zM134 568h1v1h-1zM136 568h1v1h-1zM148 568h1v1h-1zM154 568h1v1h-1zM156 568h1v1h-1zM224 568h1v1h-1zM238 568h1v1h-1zM151 707h1v1h-1zM158 710h1v1h-1zM157 711h1v1h-1zM376 711h1v1h-1zM393 711h1v1h-1zM424 711h1v1h-1zM142 712h1v1h-1zM402 712h1v1h-1zM410 712h1v1h-1zM414 712h1v1h-1zM365 713h1v1h-1zM403 713h1v1h-1zM426 713h1v1h-1zM141 714h1v1h-1zM144 714h1v1h-1zM148 714h1v1h-1zM151 714h1v1h-1zM154 714h1v1h-1zM163 714h1v1h-1zM348 714h1v1h-1zM355 714h1v1h-1zM359 714h1v1h-1zM399 714h1v1h-1zM401 714h1v1h-1zM404 714h1v1h-1zM408 714h1v1h-1zM410 714h1v1h-1zM413 714h1v1h-1zM415 714h1v1h-1zM419 714h1v1h-1zM126 715h1v1h-1zM130 715h1v1h-1zM143 715h1v1h-1zM152 715h1v1h-1zM162 715h1v1h-1zM170 715h1v1h-1zM356 715h1v1h-1zM395 715h1v1h-1zM397 715h1v1h-1zM400 715h1v1h-1zM405 715h2v1h-2zM415 715h1v1h-1zM417 715h1v1h-1zM427 715h1v1h-1zM429 715h1v1h-1zM433 715h1v1h-1zM435 715h1v1h-1zM113 716h1v1h-1zM125 716h1v1h-1zM129 716h1v1h-1zM135 716h1v1h-1zM140 716h1v1h-1zM142 716h1v1h-1zM148 716h1v1h-1zM151 716h2v1h-2zM155 716h1v1h-1zM161 716h1v1h-1zM163 716h1v1h-1zM169 716h1v1h-1zM177 716h1v1h-1zM183 716h1v1h-1zM348 716h1v1h-1zM353 716h1v1h-1zM356 716h1v1h-1zM358 716h1v1h-1zM360 716h1v1h-1zM392 716h1v1h-1zM394 716h1v1h-1zM397 716h1v1h-1zM399 716h1v1h-1zM401 716h1v1h-1zM411 716h2v1h-2zM418 716h1v1h-1zM426 716h1v1h-1zM428 716h1v1h-1zM431 716h2v1h-2zM438 716h1v1h-1zM133 717h1v1h-1zM151 717h1v1h-1zM155 717h1v1h-1zM160 717h1v1h-1zM163 717h3v1h-3zM173 717h1v1h-1zM179 717h1v1h-1zM181 717h1v1h-1zM221 717h1v1h-1zM350 717h1v1h-1zM354 717h1v1h-1zM358 717h1v1h-1zM373 717h1v1h-1zM380 717h1v1h-1zM397 717h1v1h-1zM402 717h1v1h-1zM404 717h1v1h-1zM407 717h1v1h-1zM410 717h1v1h-1zM416 717h1v1h-1zM428 717h1v1h-1zM430 717h1v1h-1zM436 717h1v1h-1zM115 718h1v1h-1zM117 718h1v1h-1zM124 718h1v1h-1zM126 718h1v1h-1zM128 718h2v1h-2zM144 718h1v1h-1zM146 718h1v1h-1zM148 718h1v1h-1zM150 718h1v1h-1zM152 718h1v1h-1zM157 718h2v1h-2zM160 718h1v1h-1zM167 718h1v1h-1zM172 718h1v1h-1zM174 718h1v1h-1zM178 718h1v1h-1zM344 718h1v1h-1zM352 718h1v1h-1zM357 718h1v1h-1zM359 718h1v1h-1zM381 718h2v1h-2zM387 718h1v1h-1zM392 718h1v1h-1zM394 718h1v1h-1zM396 718h1v1h-1zM398 718h1v1h-1zM409 718h1v1h-1zM412 718h1v1h-1zM416 718h1v1h-1zM424 718h1v1h-1zM427 718h1v1h-1zM430 718h2v1h-2zM118 719h1v1h-1zM123 719h1v1h-1zM125 719h1v1h-1zM132 719h2v1h-2zM138 719h1v1h-1zM140 719h1v1h-1zM142 719h1v1h-1zM151 719h1v1h-1zM155 719h1v1h-1zM166 719h1v1h-1zM173 719h1v1h-1zM182 719h2v1h-2zM193 719h1v1h-1zM345 719h1v1h-1zM351 719h1v1h-1zM355 719h2v1h-2zM372 719h1v1h-1zM375 719h1v1h-1zM377 719h2v1h-2zM398 719h1v1h-1zM401 719h1v1h-1zM405 719h1v1h-1zM411 719h2v1h-2zM425 719h1v1h-1zM427 719h1v1h-1zM432 719h1v1h-1zM437 719h2v1h-2zM440 719h1v1h-1zM443 719h1v1h-1zM116 720h1v1h-1zM120 720h1v1h-1zM130 720h3v1h-3zM134 720h1v1h-1zM139 720h1v1h-1zM144 720h2v1h-2zM148 720h1v1h-1zM150 720h1v1h-1zM156 720h1v1h-1zM159 720h1v1h-1zM161 720h1v1h-1zM165 720h1v1h-1zM180 720h1v1h-1zM213 720h1v1h-1zM343 720h1v1h-1zM352 720h1v1h-1zM354 720h1v1h-1zM359 720h1v1h-1zM370 720h1v1h-1zM373 720h1v1h-1zM377 720h1v1h-1zM379 720h1v1h-1zM389 720h1v1h-1zM392 720h2v1h-2zM406 720h1v1h-1zM410 720h1v1h-1zM419 720h1v1h-1zM421 720h1v1h-1zM423 720h1v1h-1zM442 720h1v1h-1zM450 720h1v1h-1zM122 721h1v1h-1zM124 721h1v1h-1zM135 721h2v1h-2zM140 721h1v1h-1zM144 721h1v1h-1zM147 721h1v1h-1zM153 721h2v1h-2zM158 721h1v1h-1zM161 721h1v1h-1zM164 721h2v1h-2zM171 721h1v1h-1zM182 721h1v1h-1zM184 721h1v1h-1zM188 721h1v1h-1zM343 721h1v1h-1zM345 721h3v1h-3zM350 721h1v1h-1zM354 721h1v1h-1zM359 721h1v1h-1zM361 721h1v1h-1zM363 721h1v1h-1zM371 721h1v1h-1zM376 721h1v1h-1zM380 721h1v1h-1zM391 721h1v1h-1zM393 721h1v1h-1zM395 721h1v1h-1zM399 721h1v1h-1zM401 721h1v1h-1zM403 721h1v1h-1zM409 721h1v1h-1zM413 721h2v1h-2zM426 721h1v1h-1zM430 721h1v1h-1zM436 721h3v1h-3zM445 721h1v1h-1zM116 722h1v1h-1zM119 722h1v1h-1zM121 722h2v1h-2zM125 722h1v1h-1zM135 722h1v1h-1zM138 722h1v1h-1zM143 722h1v1h-1zM145 722h2v1h-2zM153 722h1v1h-1zM160 722h1v1h-1zM162 722h1v1h-1zM168 722h1v1h-1zM172 722h1v1h-1zM175 722h2v1h-2zM186 722h1v1h-1zM344 722h1v1h-1zM353 722h1v1h-1zM356 722h1v1h-1zM360 722h1v1h-1zM370 722h1v1h-1zM381 722h1v1h-1zM394 722h1v1h-1zM398 722h1v1h-1zM400 722h1v1h-1zM405 722h1v1h-1zM407 722h1v1h-1zM410 722h1v1h-1zM412 722h1v1h-1zM414 722h1v1h-1zM416 722h1v1h-1zM419 722h1v1h-1zM421 722h1v1h-1zM427 722h1v1h-1zM429 722h2v1h-2zM439 722h3v1h-3zM452 722h1v1h-1zM113 723h1v1h-1zM118 723h2v1h-2zM123 723h1v1h-1zM128 723h1v1h-1zM143 723h1v1h-1zM145 723h1v1h-1zM148 723h1v1h-1zM151 723h1v1h-1zM154 723h2v1h-2zM164 723h2v1h-2zM172 723h1v1h-1zM174 723h1v1h-1zM177 723h1v1h-1zM181 723h1v1h-1zM184 723h1v1h-1zM188 723h1v1h-1zM196 723h1v1h-1zM344 723h2v1h-2zM349 723h1v1h-1zM351 723h1v1h-1zM353 723h1v1h-1zM355 723h2v1h-2zM364 723h1v1h-1zM395 723h1v1h-1zM399 723h1v1h-1zM405 723h1v1h-1zM414 723h1v1h-1zM420 723h1v1h-1zM422 723h2v1h-2zM432 723h1v1h-1zM434 723h1v1h-1zM442 723h1v1h-1zM114 724h2v1h-2zM125 724h1v1h-1zM134 724h2v1h-2zM137 724h1v1h-1zM150 724h1v1h-1zM157 724h1v1h-1zM162 724h1v1h-1zM168 724h1v1h-1zM171 724h1v1h-1zM187 724h1v1h-1zM249 724h1v1h-1zM349 724h1v1h-1zM351 724h1v1h-1zM354 724h1v1h-1zM357 724h1v1h-1zM360 724h2v1h-2zM369 724h1v1h-1zM374 724h1v1h-1zM376 724h1v1h-1zM382 724h1v1h-1zM384 724h1v1h-1zM391 724h1v1h-1zM396 724h1v1h-1zM398 724h1v1h-1zM401 724h1v1h-1zM404 724h1v1h-1zM407 724h1v1h-1zM415 724h1v1h-1zM420 724h1v1h-1zM426 724h1v1h-1zM433 724h1v1h-1zM435 724h1v1h-1zM439 724h1v1h-1zM443 724h1v1h-1zM113 725h2v1h-2zM117 725h1v1h-1zM119 725h1v1h-1zM121 725h2v1h-2zM134 725h1v1h-1zM137 725h2v1h-2zM140 725h1v1h-1zM143 725h1v1h-1zM145 725h2v1h-2zM148 725h1v1h-1zM155 725h2v1h-2zM161 725h1v1h-1zM165 725h1v1h-1zM167 725h1v1h-1zM170 725h1v1h-1zM178 725h1v1h-1zM180 725h1v1h-1zM182 725h2v1h-2zM189 725h1v1h-1zM197 725h1v1h-1zM249 725h1v1h-1zM343 725h1v1h-1zM347 725h1v1h-1zM352 725h2v1h-2zM359 725h1v1h-1zM362 725h1v1h-1zM370 725h1v1h-1zM376 725h1v1h-1zM380 725h1v1h-1zM385 725h1v1h-1zM390 725h1v1h-1zM392 725h1v1h-1zM394 725h1v1h-1zM397 725h1v1h-1zM400 725h1v1h-1zM410 725h1v1h-1zM412 725h1v1h-1zM417 725h1v1h-1zM419 725h1v1h-1zM421 725h1v1h-1zM427 725h1v1h-1zM430 725h1v1h-1zM432 725h1v1h-1zM434 725h1v1h-1zM442 725h1v1h-1zM119 726h1v1h-1zM124 726h1v1h-1zM128 726h1v1h-1zM145 726h1v1h-1zM152 726h2v1h-2zM156 726h1v1h-1zM159 726h1v1h-1zM165 726h1v1h-1zM169 726h1v1h-1zM172 726h1v1h-1zM184 726h1v1h-1zM187 726h1v1h-1zM355 726h1v1h-1zM375 726h1v1h-1zM379 726h1v1h-1zM386 726h1v1h-1zM393 726h1v1h-1zM395 726h1v1h-1zM402 726h1v1h-1zM406 726h1v1h-1zM412 726h2v1h-2zM416 726h2v1h-2zM429 726h1v1h-1zM434 726h1v1h-1zM443 726h1v1h-1zM449 726h1v1h-1zM116 727h1v1h-1zM118 727h1v1h-1zM124 727h1v1h-1zM126 727h2v1h-2zM143 727h2v1h-2zM146 727h1v1h-1zM155 727h1v1h-1zM157 727h1v1h-1zM161 727h1v1h-1zM164 727h1v1h-1zM169 727h1v1h-1zM181 727h1v1h-1zM220 727h1v1h-1zM344 727h1v1h-1zM356 727h1v1h-1zM358 727h1v1h-1zM363 727h1v1h-1zM376 727h2v1h-2zM381 727h2v1h-2zM385 727h1v1h-1zM399 727h1v1h-1zM401 727h1v1h-1zM403 727h1v1h-1zM410 727h1v1h-1zM414 727h2v1h-2zM418 727h1v1h-1zM420 727h1v1h-1zM423 727h1v1h-1zM426 727h1v1h-1zM442 727h1v1h-1zM445 727h1v1h-1zM448 727h1v1h-1zM113 728h1v1h-1zM117 728h1v1h-1zM121 728h1v1h-1zM124 728h2v1h-2zM127 728h1v1h-1zM136 728h1v1h-1zM143 728h1v1h-1zM145 728h1v1h-1zM147 728h1v1h-1zM156 728h1v1h-1zM162 728h1v1h-1zM167 728h1v1h-1zM171 728h1v1h-1zM177 728h1v1h-1zM179 728h1v1h-1zM183 728h1v1h-1zM187 728h1v1h-1zM347 728h1v1h-1zM351 728h1v1h-1zM377 728h1v1h-1zM385 728h1v1h-1zM393 728h1v1h-1zM396 728h1v1h-1zM400 728h1v1h-1zM405 728h1v1h-1zM415 728h1v1h-1zM418 728h1v1h-1zM424 728h1v1h-1zM430 728h1v1h-1zM432 728h1v1h-1zM438 728h2v1h-2zM444 728h1v1h-1zM113 729h1v1h-1zM120 729h1v1h-1zM126 729h1v1h-1zM132 729h1v1h-1zM135 729h1v1h-1zM142 729h1v1h-1zM148 729h3v1h-3zM158 729h1v1h-1zM163 729h1v1h-1zM169 729h1v1h-1zM173 729h1v1h-1zM175 729h1v1h-1zM177 729h1v1h-1zM181 729h1v1h-1zM196 729h1v1h-1zM348 729h1v1h-1zM353 729h1v1h-1zM355 729h1v1h-1zM378 729h1v1h-1zM381 729h2v1h-2zM388 729h1v1h-1zM397 729h1v1h-1zM401 729h1v1h-1zM404 729h1v1h-1zM410 729h2v1h-2zM417 729h1v1h-1zM423 729h1v1h-1zM425 729h1v1h-1zM435 729h1v1h-1zM440 729h1v1h-1zM116 730h1v1h-1zM119 730h2v1h-2zM122 730h1v1h-1zM124 730h1v1h-1zM131 730h1v1h-1zM136 730h1v1h-1zM144 730h1v1h-1zM156 730h1v1h-1zM161 730h2v1h-2zM167 730h1v1h-1zM170 730h1v1h-1zM176 730h1v1h-1zM178 730h1v1h-1zM182 730h1v1h-1zM186 730h1v1h-1zM188 730h1v1h-1zM191 730h1v1h-1zM213 730h1v1h-1zM216 730h1v1h-1zM345 730h1v1h-1zM347 730h1v1h-1zM352 730h2v1h-2zM356 730h1v1h-1zM359 730h1v1h-1zM363 730h1v1h-1zM369 730h1v1h-1zM387 730h1v1h-1zM401 730h1v1h-1zM403 730h1v1h-1zM408 730h1v1h-1zM412 730h1v1h-1zM416 730h1v1h-1zM419 730h1v1h-1zM422 730h1v1h-1zM427 730h1v1h-1zM429 730h1v1h-1zM431 730h1v1h-1zM434 730h1v1h-1zM437 730h1v1h-1zM122 731h1v1h-1zM124 731h1v1h-1zM131 731h1v1h-1zM135 731h1v1h-1zM137 731h1v1h-1zM146 731h1v1h-1zM152 731h1v1h-1zM155 731h1v1h-1zM158 731h2v1h-2zM165 731h1v1h-1zM167 731h1v1h-1zM177 731h1v1h-1zM185 731h1v1h-1zM187 731h1v1h-1zM192 731h2v1h-2zM346 731h1v1h-1zM352 731h1v1h-1zM354 731h2v1h-2zM360 731h1v1h-1zM365 731h1v1h-1zM368 731h1v1h-1zM370 731h1v1h-1zM376 731h1v1h-1zM383 731h1v1h-1zM397 731h1v1h-1zM399 731h2v1h-2zM404 731h1v1h-1zM412 731h1v1h-1zM415 731h1v1h-1zM417 731h1v1h-1zM420 731h1v1h-1zM425 731h1v1h-1zM428 731h1v1h-1zM436 731h1v1h-1zM440 731h1v1h-1zM442 731h1v1h-1zM113 732h2v1h-2zM117 732h2v1h-2zM123 732h1v1h-1zM126 732h1v1h-1zM129 732h1v1h-1zM137 732h1v1h-1zM141 732h2v1h-2zM144 732h1v1h-1zM149 732h2v1h-2zM152 732h1v1h-1zM155 732h1v1h-1zM159 732h1v1h-1zM171 732h2v1h-2zM176 732h1v1h-1zM179 732h1v1h-1zM181 732h1v1h-1zM195 732h1v1h-1zM222 732h1v1h-1zM346 732h2v1h-2zM351 732h1v1h-1zM356 732h1v1h-1zM358 732h1v1h-1zM361 732h2v1h-2zM369 732h1v1h-1zM376 732h1v1h-1zM379 732h1v1h-1zM383 732h1v1h-1zM388 732h1v1h-1zM403 732h1v1h-1zM408 732h1v1h-1zM411 732h1v1h-1zM413 732h1v1h-1zM416 732h1v1h-1zM418 732h1v1h-1zM426 732h1v1h-1zM439 732h1v1h-1zM444 732h1v1h-1zM116 733h1v1h-1zM119 733h1v1h-1zM127 733h1v1h-1zM132 733h1v1h-1zM135 733h1v1h-1zM142 733h2v1h-2zM146 733h1v1h-1zM151 733h2v1h-2zM161 733h2v1h-2zM170 733h1v1h-1zM178 733h1v1h-1zM194 733h1v1h-1zM344 733h1v1h-1zM348 733h2v1h-2zM354 733h1v1h-1zM359 733h1v1h-1zM362 733h1v1h-1zM375 733h1v1h-1zM385 733h1v1h-1zM390 733h1v1h-1zM394 733h1v1h-1zM397 733h1v1h-1zM404 733h1v1h-1zM406 733h1v1h-1zM413 733h2v1h-2zM418 733h2v1h-2zM423 733h1v1h-1zM427 733h2v1h-2zM430 733h1v1h-1zM433 733h1v1h-1zM438 733h1v1h-1zM440 733h1v1h-1zM442 733h1v1h-1zM120 734h1v1h-1zM124 734h1v1h-1zM126 734h1v1h-1zM144 734h1v1h-1zM148 734h2v1h-2zM158 734h2v1h-2zM161 734h1v1h-1zM171 734h1v1h-1zM173 734h1v1h-1zM175 734h3v1h-3zM184 734h1v1h-1zM189 734h1v1h-1zM195 734h1v1h-1zM216 734h2v1h-2zM352 734h1v1h-1zM356 734h1v1h-1zM359 734h3v1h-3zM364 734h1v1h-1zM370 734h1v1h-1zM376 734h1v1h-1zM381 734h1v1h-1zM383 734h1v1h-1zM395 734h1v1h-1zM410 734h1v1h-1zM414 734h1v1h-1zM416 734h1v1h-1zM425 734h1v1h-1zM431 734h1v1h-1zM434 734h1v1h-1zM442 734h2v1h-2zM457 734h1v1h-1zM117 735h2v1h-2zM121 735h1v1h-1zM130 735h1v1h-1zM132 735h2v1h-2zM136 735h2v1h-2zM145 735h1v1h-1zM147 735h1v1h-1zM153 735h2v1h-2zM156 735h1v1h-1zM158 735h1v1h-1zM161 735h1v1h-1zM164 735h1v1h-1zM168 735h1v1h-1zM175 735h1v1h-1zM178 735h1v1h-1zM193 735h1v1h-1zM198 735h1v1h-1zM200 735h1v1h-1zM231 735h1v1h-1zM349 735h3v1h-3zM357 735h1v1h-1zM361 735h1v1h-1zM369 735h1v1h-1zM378 735h3v1h-3zM385 735h1v1h-1zM388 735h1v1h-1zM400 735h2v1h-2zM404 735h2v1h-2zM409 735h1v1h-1zM418 735h1v1h-1zM420 735h1v1h-1zM423 735h1v1h-1zM427 735h1v1h-1zM435 735h1v1h-1zM437 735h1v1h-1zM439 735h1v1h-1zM444 735h1v1h-1zM453 735h1v1h-1zM123 736h1v1h-1zM131 736h1v1h-1zM134 736h2v1h-2zM137 736h1v1h-1zM143 736h1v1h-1zM147 736h1v1h-1zM150 736h1v1h-1zM156 736h1v1h-1zM159 736h2v1h-2zM169 736h2v1h-2zM174 736h1v1h-1zM178 736h1v1h-1zM180 736h1v1h-1zM183 736h1v1h-1zM185 736h1v1h-1zM192 736h1v1h-1zM198 736h1v1h-1zM202 736h1v1h-1zM219 736h1v1h-1zM352 736h1v1h-1zM354 736h2v1h-2zM357 736h1v1h-1zM359 736h2v1h-2zM364 736h2v1h-2zM371 736h1v1h-1zM376 736h1v1h-1zM383 736h2v1h-2zM387 736h1v1h-1zM390 736h1v1h-1zM402 736h1v1h-1zM411 736h1v1h-1zM413 736h1v1h-1zM417 736h2v1h-2zM420 736h1v1h-1zM422 736h1v1h-1zM428 736h1v1h-1zM436 736h1v1h-1zM442 736h1v1h-1zM447 736h1v1h-1zM113 737h1v1h-1zM120 737h1v1h-1zM122 737h1v1h-1zM124 737h2v1h-2zM127 737h1v1h-1zM130 737h1v1h-1zM136 737h1v1h-1zM140 737h2v1h-2zM146 737h1v1h-1zM148 737h1v1h-1zM151 737h1v1h-1zM155 737h1v1h-1zM157 737h1v1h-1zM161 737h1v1h-1zM166 737h2v1h-2zM172 737h1v1h-1zM178 737h1v1h-1zM181 737h1v1h-1zM185 737h1v1h-1zM188 737h1v1h-1zM191 737h1v1h-1zM194 737h1v1h-1zM200 737h1v1h-1zM231 737h1v1h-1zM233 737h1v1h-1zM344 737h1v1h-1zM349 737h1v1h-1zM351 737h2v1h-2zM357 737h1v1h-1zM359 737h1v1h-1zM364 737h1v1h-1zM366 737h1v1h-1zM375 737h1v1h-1zM379 737h1v1h-1zM388 737h1v1h-1zM397 737h1v1h-1zM401 737h1v1h-1zM403 737h1v1h-1zM409 737h1v1h-1zM412 737h1v1h-1zM421 737h1v1h-1zM424 737h1v1h-1zM426 737h2v1h-2zM430 737h1v1h-1zM433 737h1v1h-1zM442 737h1v1h-1zM445 737h1v1h-1zM456 737h1v1h-1zM114 738h1v1h-1zM116 738h1v1h-1zM122 738h1v1h-1zM137 738h1v1h-1zM140 738h1v1h-1zM142 738h2v1h-2zM155 738h2v1h-2zM159 738h2v1h-2zM167 738h2v1h-2zM175 738h1v1h-1zM177 738h1v1h-1zM179 738h1v1h-1zM183 738h1v1h-1zM343 738h1v1h-1zM350 738h1v1h-1zM353 738h1v1h-1zM355 738h1v1h-1zM362 738h1v1h-1zM374 738h1v1h-1zM379 738h1v1h-1zM382 738h1v1h-1zM386 738h2v1h-2zM389 738h1v1h-1zM391 738h1v1h-1zM394 738h3v1h-3zM406 738h1v1h-1zM408 738h1v1h-1zM413 738h1v1h-1zM415 738h1v1h-1zM420 738h1v1h-1zM422 738h2v1h-2zM425 738h1v1h-1zM429 738h1v1h-1zM431 738h1v1h-1zM436 738h1v1h-1zM120 739h1v1h-1zM122 739h1v1h-1zM130 739h1v1h-1zM132 739h1v1h-1zM138 739h1v1h-1zM140 739h2v1h-2zM147 739h1v1h-1zM156 739h3v1h-3zM161 739h1v1h-1zM169 739h2v1h-2zM185 739h2v1h-2zM192 739h1v1h-1zM221 739h1v1h-1zM344 739h1v1h-1zM350 739h1v1h-1zM353 739h1v1h-1zM356 739h1v1h-1zM358 739h1v1h-1zM361 739h1v1h-1zM368 739h1v1h-1zM381 739h1v1h-1zM384 739h1v1h-1zM388 739h1v1h-1zM397 739h3v1h-3zM406 739h1v1h-1zM415 739h1v1h-1zM421 739h1v1h-1zM428 739h1v1h-1zM434 739h1v1h-1zM438 739h1v1h-1zM113 740h1v1h-1zM122 740h1v1h-1zM126 740h1v1h-1zM134 740h2v1h-2zM143 740h1v1h-1zM150 740h1v1h-1zM154 740h1v1h-1zM161 740h1v1h-1zM163 740h1v1h-1zM167 740h1v1h-1zM172 740h1v1h-1zM184 740h1v1h-1zM191 740h1v1h-1zM193 740h1v1h-1zM200 740h1v1h-1zM346 740h1v1h-1zM356 740h1v1h-1zM359 740h1v1h-1zM361 740h1v1h-1zM370 740h1v1h-1zM374 740h1v1h-1zM379 740h1v1h-1zM381 740h1v1h-1zM386 740h1v1h-1zM389 740h1v1h-1zM392 740h1v1h-1zM396 740h1v1h-1zM401 740h3v1h-3zM405 740h1v1h-1zM409 740h1v1h-1zM411 740h1v1h-1zM414 740h2v1h-2zM417 740h2v1h-2zM421 740h1v1h-1zM424 740h1v1h-1zM427 740h1v1h-1zM429 740h1v1h-1zM433 740h1v1h-1zM436 740h1v1h-1zM113 741h1v1h-1zM132 741h1v1h-1zM136 741h1v1h-1zM142 741h1v1h-1zM146 741h1v1h-1zM148 741h2v1h-2zM160 741h1v1h-1zM164 741h1v1h-1zM166 741h1v1h-1zM205 741h1v1h-1zM347 741h1v1h-1zM350 741h3v1h-3zM355 741h1v1h-1zM358 741h1v1h-1zM360 741h1v1h-1zM372 741h1v1h-1zM375 741h1v1h-1zM385 741h1v1h-1zM393 741h2v1h-2zM396 741h2v1h-2zM401 741h1v1h-1zM407 741h1v1h-1zM409 741h2v1h-2zM412 741h1v1h-1zM414 741h1v1h-1zM416 741h1v1h-1zM420 741h1v1h-1zM423 741h1v1h-1zM430 741h1v1h-1zM434 741h1v1h-1zM436 741h1v1h-1zM115 742h1v1h-1zM123 742h1v1h-1zM126 742h1v1h-1zM135 742h1v1h-1zM137 742h1v1h-1zM139 742h2v1h-2zM145 742h2v1h-2zM155 742h1v1h-1zM158 742h1v1h-1zM162 742h1v1h-1zM165 742h1v1h-1zM191 742h1v1h-1zM197 742h1v1h-1zM224 742h1v1h-1zM346 742h1v1h-1zM352 742h3v1h-3zM360 742h1v1h-1zM362 742h1v1h-1zM378 742h1v1h-1zM382 742h1v1h-1zM384 742h1v1h-1zM386 742h1v1h-1zM388 742h1v1h-1zM392 742h1v1h-1zM394 742h1v1h-1zM398 742h1v1h-1zM404 742h1v1h-1zM412 742h1v1h-1zM418 742h2v1h-2zM422 742h1v1h-1zM432 742h1v1h-1zM435 742h1v1h-1zM440 742h1v1h-1zM115 743h1v1h-1zM124 743h1v1h-1zM127 743h1v1h-1zM134 743h1v1h-1zM141 743h2v1h-2zM144 743h2v1h-2zM147 743h1v1h-1zM149 743h1v1h-1zM152 743h1v1h-1zM157 743h1v1h-1zM166 743h1v1h-1zM170 743h1v1h-1zM190 743h1v1h-1zM343 743h1v1h-1zM359 743h1v1h-1zM366 743h1v1h-1zM372 743h1v1h-1zM374 743h1v1h-1zM379 743h1v1h-1zM385 743h1v1h-1zM389 743h1v1h-1zM395 743h1v1h-1zM397 743h2v1h-2zM400 743h1v1h-1zM402 743h1v1h-1zM415 743h1v1h-1zM419 743h1v1h-1zM431 743h1v1h-1zM433 743h1v1h-1zM436 743h1v1h-1zM439 743h1v1h-1zM114 744h1v1h-1zM128 744h1v1h-1zM130 744h1v1h-1zM148 744h2v1h-2zM152 744h1v1h-1zM157 744h1v1h-1zM190 744h1v1h-1zM228 744h1v1h-1zM233 744h1v1h-1zM347 744h1v1h-1zM351 744h1v1h-1zM353 744h1v1h-1zM355 744h1v1h-1zM360 744h2v1h-2zM376 744h1v1h-1zM384 744h1v1h-1zM390 744h1v1h-1zM396 744h2v1h-2zM402 744h1v1h-1zM407 744h1v1h-1zM413 744h2v1h-2zM418 744h1v1h-1zM421 744h1v1h-1zM423 744h1v1h-1zM425 744h1v1h-1zM428 744h2v1h-2zM433 744h1v1h-1zM436 744h1v1h-1zM133 745h1v1h-1zM137 745h1v1h-1zM140 745h1v1h-1zM142 745h1v1h-1zM144 745h1v1h-1zM147 745h1v1h-1zM150 745h2v1h-2zM153 745h1v1h-1zM156 745h1v1h-1zM185 745h1v1h-1zM189 745h1v1h-1zM344 745h1v1h-1zM349 745h2v1h-2zM352 745h1v1h-1zM356 745h1v1h-1zM403 745h1v1h-1zM411 745h2v1h-2zM416 745h2v1h-2zM419 745h1v1h-1zM423 745h1v1h-1zM431 745h1v1h-1zM433 745h1v1h-1zM126 746h1v1h-1zM129 746h1v1h-1zM134 746h1v1h-1zM150 746h1v1h-1zM152 746h1v1h-1zM351 746h1v1h-1zM354 746h1v1h-1zM357 746h1v1h-1zM400 746h1v1h-1zM405 746h1v1h-1zM407 746h1v1h-1zM409 746h1v1h-1zM428 746h1v1h-1zM473 746h1v1h-1zM135 747h1v1h-1zM155 747h1v1h-1zM176 747h1v1h-1zM352 747h1v1h-1zM354 747h1v1h-1zM357 747h1v1h-1zM402 747h1v1h-1zM404 747h1v1h-1zM412 747h1v1h-1zM418 747h2v1h-2zM424 747h1v1h-1zM427 747h1v1h-1zM141 748h2v1h-2zM144 748h1v1h-1zM154 748h1v1h-1zM206 748h1v1h-1zM234 748h1v1h-1zM356 748h1v1h-1zM358 748h1v1h-1zM398 748h1v1h-1zM406 748h1v1h-1zM416 748h1v1h-1zM418 748h1v1h-1zM420 748h1v1h-1zM137 749h1v1h-1zM139 749h1v1h-1zM145 749h1v1h-1zM147 749h1v1h-1zM242 749h1v1h-1zM397 749h1v1h-1zM413 749h1v1h-1zM127 750h1v1h-1zM134 750h1v1h-1zM159 750h1v1h-1zM191 750h1v1h-1zM196 750h1v1h-1zM350 750h1v1h-1zM366 750h1v1h-1zM402 750h1v1h-1zM126 751h1v1h-1zM141 751h2v1h-2zM178 751h1v1h-1zM242 751h1v1h-1zM390 751h1v1h-1zM114 752h1v1h-1zM144 752h1v1h-1zM151 752h1v1h-1zM170 752h1v1h-1zM188 752h1v1h-1zM378 752h1v1h-1zM432 752h1v1h-1zM465 752h1v1h-1zM160 753h1v1h-1zM184 753h1v1h-1zM228 753h1v1h-1zM405 753h1v1h-1zM448 753h2v1h-2zM470 753h1v1h-1zM176 754h1v1h-1zM223 754h1v1h-1zM258 754h1v1h-1zM402 754h1v1h-1zM404 754h1v1h-1zM124 755h1v1h-1zM189 755h1v1h-1zM387 755h1v1h-1zM416 755h1v1h-1zM144 756h1v1h-1zM177 756h1v1h-1zM182 756h1v1h-1zM250 756h1v1h-1zM350 756h1v1h-1zM444 756h1v1h-1zM468 756h1v1h-1zM125 757h1v1h-1zM155 757h1v1h-1zM183 757h1v1h-1zM207 757h1v1h-1zM396 757h1v1h-1zM235 758h1v1h-1zM237 759h1v1h-1zM354 760h1v1h-1zM415 760h1v1h-1zM137 761h1v1h-1zM432 761h1v1h-1zM439 761h1v1h-1zM145 762h1v1h-1zM407 763h1v1h-1zM414 763h1v1h-1zM432 763h1v1h-1zM444 763h1v1h-1zM120 764h1v1h-1zM158 764h1v1h-1zM235 764h1v1h-1zM388 764h1v1h-1zM441 764h1v1h-1zM235 765h1v1h-1zM376 765h2v1h-2zM431 765h1v1h-1zM433 766h1v1h-1zM257 767h1v1h-1zM365 767h1v1h-1zM432 767h1v1h-1zM442 768h1v1h-1zM444 768h1v1h-1zM456 768h1v1h-1zM260 769h1v1h-1zM393 769h1v1h-1zM210 770h1v1h-1zM217 770h1v1h-1zM221 770h1v1h-1zM394 770h1v1h-1zM416 770h1v1h-1zM115 771h1v1h-1zM152 771h1v1h-1zM231 771h1v1h-1zM442 771h1v1h-1zM458 771h1v1h-1zM254 772h1v1h-1zM449 772h1v1h-1zM216 773h1v1h-1zM229 773h1v1h-1zM235 773h1v1h-1zM256 773h1v1h-1zM425 773h1v1h-1zM441 773h2v1h-2zM447 773h2v1h-2zM467 773h1v1h-1zM145 774h1v1h-1zM195 774h1v1h-1zM440 774h1v1h-1zM466 774h1v1h-1zM194 775h1v1h-1zM392 775h1v1h-1zM435 775h1v1h-1zM443 775h1v1h-1zM448 775h1v1h-1zM149 776h1v1h-1zM154 776h1v1h-1zM159 776h1v1h-1zM199 776h1v1h-1zM427 776h1v1h-1zM440 776h1v1h-1zM443 776h1v1h-1zM447 776h1v1h-1zM452 776h1v1h-1zM230 777h1v1h-1zM426 777h1v1h-1zM429 777h1v1h-1zM440 777h1v1h-1zM444 777h1v1h-1zM453 777h1v1h-1zM136 778h1v1h-1zM198 778h2v1h-2zM439 778h1v1h-1zM167 779h1v1h-1zM375 779h1v1h-1zM440 779h1v1h-1zM444 779h1v1h-1zM472 779h2v1h-2zM222 780h1v1h-1zM375 780h1v1h-1zM442 780h1v1h-1zM449 780h1v1h-1zM454 780h1v1h-1zM473 780h1v1h-1zM116 781h1v1h-1zM131 781h1v1h-1zM134 781h1v1h-1zM139 781h1v1h-1zM144 781h1v1h-1zM158 781h1v1h-1zM164 781h1v1h-1zM166 781h1v1h-1zM180 781h1v1h-1zM204 781h1v1h-1zM427 781h1v1h-1zM437 781h1v1h-1zM448 781h1v1h-1zM452 781h2v1h-2zM132 782h1v1h-1zM159 782h2v1h-2zM162 782h1v1h-1zM165 782h1v1h-1zM175 782h1v1h-1zM177 782h1v1h-1zM241 782h1v1h-1zM379 782h1v1h-1zM430 782h1v1h-1zM436 782h1v1h-1zM438 782h1v1h-1zM443 782h1v1h-1zM450 782h1v1h-1zM453 782h1v1h-1zM160 783h1v1h-1zM163 783h1v1h-1zM174 783h1v1h-1zM178 783h2v1h-2zM379 783h1v1h-1zM432 783h1v1h-1zM437 783h1v1h-1zM451 783h1v1h-1zM454 783h1v1h-1zM114 784h1v1h-1zM158 784h1v1h-1zM176 784h1v1h-1zM439 784h1v1h-1zM142 785h1v1h-1zM154 785h1v1h-1zM161 785h1v1h-1zM166 785h1v1h-1zM178 785h1v1h-1zM180 785h1v1h-1zM182 785h1v1h-1zM192 785h1v1h-1zM429 785h1v1h-1zM431 785h1v1h-1zM438 785h1v1h-1zM114 786h1v1h-1zM133 786h1v1h-1zM153 786h1v1h-1zM155 786h2v1h-2zM158 786h1v1h-1zM160 786h1v1h-1zM165 786h1v1h-1zM190 786h1v1h-1zM193 786h1v1h-1zM134 787h1v1h-1zM158 787h1v1h-1zM166 787h1v1h-1zM174 787h1v1h-1zM180 787h1v1h-1zM182 787h1v1h-1zM187 787h1v1h-1zM191 787h1v1h-1zM199 787h1v1h-1zM206 787h1v1h-1zM229 787h1v1h-1zM442 787h1v1h-1zM447 787h1v1h-1zM474 787h1v1h-1zM117 788h1v1h-1zM132 788h1v1h-1zM134 788h1v1h-1zM157 788h1v1h-1zM159 788h1v1h-1zM165 788h1v1h-1zM170 788h1v1h-1zM360 788h1v1h-1zM443 788h1v1h-1zM154 789h1v1h-1zM160 789h1v1h-1zM163 789h1v1h-1zM173 789h1v1h-1zM186 789h2v1h-2zM195 789h1v1h-1zM203 789h1v1h-1zM206 789h1v1h-1zM441 789h1v1h-1zM446 789h1v1h-1zM133 790h1v1h-1zM135 790h1v1h-1zM159 790h1v1h-1zM161 790h1v1h-1zM176 790h1v1h-1zM178 790h1v1h-1zM187 790h1v1h-1zM189 790h1v1h-1zM193 790h1v1h-1zM202 790h1v1h-1zM223 790h1v1h-1zM372 790h1v1h-1zM456 790h1v1h-1zM114 791h1v1h-1zM122 791h1v1h-1zM134 791h1v1h-1zM156 791h2v1h-2zM159 791h1v1h-1zM163 791h1v1h-1zM165 791h1v1h-1zM167 791h1v1h-1zM169 791h1v1h-1zM175 791h1v1h-1zM185 791h1v1h-1zM191 791h1v1h-1zM194 791h1v1h-1zM209 791h1v1h-1zM238 791h1v1h-1zM362 791h1v1h-1zM120 792h1v1h-1zM129 792h1v1h-1zM138 792h1v1h-1zM140 792h1v1h-1zM143 792h1v1h-1zM161 792h1v1h-1zM177 792h1v1h-1zM186 792h1v1h-1zM188 792h1v1h-1zM192 792h1v1h-1zM196 792h2v1h-2zM200 792h1v1h-1zM204 792h1v1h-1zM210 792h1v1h-1zM218 792h1v1h-1zM414 792h1v1h-1zM467 792h1v1h-1zM118 793h1v1h-1zM120 793h1v1h-1zM122 793h1v1h-1zM136 793h1v1h-1zM138 793h2v1h-2zM144 793h2v1h-2zM147 793h2v1h-2zM151 793h1v1h-1zM156 793h2v1h-2zM159 793h1v1h-1zM162 793h1v1h-1zM167 793h1v1h-1zM169 793h1v1h-1zM173 793h1v1h-1zM175 793h1v1h-1zM188 793h1v1h-1zM192 793h1v1h-1zM198 793h1v1h-1zM200 793h1v1h-1zM202 793h1v1h-1zM246 793h1v1h-1zM441 793h1v1h-1zM127 794h1v1h-1zM129 794h1v1h-1zM137 794h1v1h-1zM140 794h2v1h-2zM159 794h1v1h-1zM169 794h1v1h-1zM172 794h1v1h-1zM186 794h1v1h-1zM189 794h1v1h-1zM193 794h1v1h-1zM195 794h1v1h-1zM201 794h1v1h-1zM232 794h1v1h-1zM432 794h1v1h-1zM124 795h1v1h-1zM128 795h1v1h-1zM134 795h1v1h-1zM137 795h1v1h-1zM141 795h1v1h-1zM143 795h1v1h-1zM145 795h3v1h-3zM150 795h1v1h-1zM158 795h1v1h-1zM169 795h1v1h-1zM171 795h2v1h-2zM178 795h1v1h-1zM187 795h1v1h-1zM192 795h1v1h-1zM197 795h1v1h-1zM205 795h1v1h-1zM213 795h1v1h-1zM401 795h1v1h-1zM434 795h1v1h-1zM436 795h1v1h-1zM453 795h1v1h-1zM125 796h1v1h-1zM130 796h1v1h-1zM138 796h1v1h-1zM142 796h1v1h-1zM149 796h1v1h-1zM155 796h1v1h-1zM158 796h1v1h-1zM163 796h2v1h-2zM168 796h1v1h-1zM171 796h1v1h-1zM175 796h1v1h-1zM180 796h1v1h-1zM184 796h1v1h-1zM186 796h1v1h-1zM196 796h1v1h-1zM419 796h1v1h-1zM431 796h1v1h-1zM435 796h1v1h-1zM437 796h1v1h-1zM122 797h1v1h-1zM124 797h1v1h-1zM131 797h1v1h-1zM133 797h1v1h-1zM137 797h1v1h-1zM140 797h1v1h-1zM142 797h1v1h-1zM154 797h1v1h-1zM156 797h1v1h-1zM167 797h1v1h-1zM175 797h1v1h-1zM179 797h1v1h-1zM181 797h1v1h-1zM194 797h1v1h-1zM197 797h2v1h-2zM200 797h1v1h-1zM203 797h1v1h-1zM205 797h1v1h-1zM380 797h1v1h-1zM397 797h1v1h-1zM130 798h1v1h-1zM132 798h1v1h-1zM134 798h1v1h-1zM138 798h2v1h-2zM141 798h1v1h-1zM143 798h1v1h-1zM148 798h2v1h-2zM151 798h2v1h-2zM159 798h2v1h-2zM165 798h2v1h-2zM178 798h1v1h-1zM181 798h1v1h-1zM187 798h1v1h-1zM193 798h1v1h-1zM195 798h2v1h-2zM203 798h1v1h-1zM221 798h1v1h-1zM420 798h1v1h-1zM422 798h1v1h-1zM424 798h1v1h-1zM434 798h1v1h-1zM437 798h1v1h-1zM439 798h1v1h-1zM123 799h1v1h-1zM128 799h1v1h-1zM131 799h1v1h-1zM135 799h1v1h-1zM137 799h1v1h-1zM140 799h1v1h-1zM145 799h1v1h-1zM147 799h1v1h-1zM150 799h1v1h-1zM156 799h1v1h-1zM160 799h1v1h-1zM173 799h2v1h-2zM178 799h2v1h-2zM186 799h1v1h-1zM192 799h1v1h-1zM194 799h2v1h-2zM200 799h1v1h-1zM202 799h1v1h-1zM390 799h1v1h-1zM418 799h1v1h-1zM421 799h1v1h-1zM425 799h1v1h-1zM430 799h1v1h-1zM433 799h1v1h-1zM438 799h1v1h-1zM441 799h1v1h-1zM124 800h1v1h-1zM127 800h1v1h-1zM149 800h1v1h-1zM166 800h1v1h-1zM173 800h1v1h-1zM183 800h2v1h-2zM194 800h1v1h-1zM197 800h1v1h-1zM199 800h1v1h-1zM204 800h1v1h-1zM210 800h1v1h-1zM124 801h1v1h-1zM126 801h1v1h-1zM132 801h1v1h-1zM140 801h1v1h-1zM142 801h1v1h-1zM155 801h1v1h-1zM161 801h1v1h-1zM165 801h1v1h-1zM168 801h1v1h-1zM182 801h1v1h-1zM190 801h1v1h-1zM194 801h1v1h-1zM201 801h1v1h-1zM203 801h1v1h-1zM212 801h1v1h-1zM418 801h1v1h-1zM424 801h1v1h-1zM428 801h1v1h-1zM430 801h1v1h-1zM432 801h1v1h-1zM435 801h1v1h-1zM441 801h1v1h-1zM122 802h1v1h-1zM125 802h1v1h-1zM127 802h1v1h-1zM131 802h2v1h-2zM139 802h1v1h-1zM161 802h1v1h-1zM168 802h1v1h-1zM170 802h1v1h-1zM177 802h1v1h-1zM180 802h1v1h-1zM185 802h2v1h-2zM189 802h1v1h-1zM198 802h1v1h-1zM202 802h1v1h-1zM209 802h1v1h-1zM419 802h1v1h-1zM422 802h1v1h-1zM431 802h1v1h-1zM439 802h1v1h-1zM442 802h1v1h-1zM118 803h1v1h-1zM120 803h1v1h-1zM127 803h1v1h-1zM130 803h1v1h-1zM141 803h2v1h-2zM146 803h3v1h-3zM158 803h1v1h-1zM169 803h1v1h-1zM172 803h1v1h-1zM191 803h1v1h-1zM195 803h1v1h-1zM197 803h1v1h-1zM200 803h1v1h-1zM203 803h1v1h-1zM210 803h2v1h-2zM373 803h1v1h-1zM413 803h1v1h-1zM415 803h1v1h-1zM423 803h1v1h-1zM425 803h1v1h-1zM427 803h1v1h-1zM431 803h2v1h-2zM443 803h1v1h-1zM122 804h2v1h-2zM127 804h1v1h-1zM130 804h1v1h-1zM134 804h2v1h-2zM139 804h1v1h-1zM153 804h1v1h-1zM156 804h1v1h-1zM162 804h1v1h-1zM164 804h1v1h-1zM176 804h1v1h-1zM186 804h1v1h-1zM192 804h1v1h-1zM199 804h1v1h-1zM204 804h1v1h-1zM412 804h1v1h-1zM422 804h2v1h-2zM428 804h2v1h-2zM436 804h1v1h-1zM441 804h1v1h-1zM443 804h1v1h-1zM445 804h1v1h-1zM115 805h1v1h-1zM120 805h2v1h-2zM130 805h2v1h-2zM137 805h1v1h-1zM149 805h1v1h-1zM168 805h1v1h-1zM173 805h1v1h-1zM176 805h1v1h-1zM182 805h2v1h-2zM187 805h1v1h-1zM196 805h1v1h-1zM198 805h2v1h-2zM212 805h1v1h-1zM365 805h1v1h-1zM389 805h1v1h-1zM412 805h1v1h-1zM415 805h1v1h-1zM429 805h1v1h-1zM432 805h1v1h-1zM443 805h1v1h-1zM119 806h1v1h-1zM136 806h2v1h-2zM144 806h1v1h-1zM147 806h1v1h-1zM149 806h1v1h-1zM153 806h1v1h-1zM156 806h1v1h-1zM173 806h2v1h-2zM177 806h1v1h-1zM181 806h1v1h-1zM190 806h1v1h-1zM200 806h1v1h-1zM202 806h1v1h-1zM208 806h1v1h-1zM210 806h1v1h-1zM406 806h1v1h-1zM412 806h1v1h-1zM415 806h1v1h-1zM436 806h1v1h-1zM446 806h1v1h-1zM450 806h1v1h-1zM115 807h1v1h-1zM118 807h1v1h-1zM133 807h1v1h-1zM135 807h1v1h-1zM142 807h1v1h-1zM145 807h2v1h-2zM174 807h1v1h-1zM176 807h1v1h-1zM182 807h1v1h-1zM187 807h1v1h-1zM189 807h1v1h-1zM202 807h1v1h-1zM213 807h1v1h-1zM413 807h1v1h-1zM430 807h2v1h-2zM445 807h1v1h-1zM448 807h1v1h-1zM454 807h1v1h-1zM115 808h1v1h-1zM123 808h1v1h-1zM133 808h1v1h-1zM136 808h1v1h-1zM141 808h1v1h-1zM144 808h1v1h-1zM161 808h1v1h-1zM166 808h2v1h-2zM178 808h1v1h-1zM188 808h1v1h-1zM193 808h1v1h-1zM199 808h1v1h-1zM203 808h1v1h-1zM348 808h1v1h-1zM354 808h1v1h-1zM398 808h1v1h-1zM410 808h1v1h-1zM412 808h1v1h-1zM428 808h1v1h-1zM430 808h1v1h-1zM433 808h2v1h-2zM437 808h2v1h-2zM443 808h1v1h-1zM446 808h2v1h-2zM452 808h1v1h-1zM454 808h2v1h-2zM116 809h1v1h-1zM119 809h1v1h-1zM122 809h2v1h-2zM140 809h1v1h-1zM153 809h1v1h-1zM156 809h1v1h-1zM158 809h1v1h-1zM161 809h1v1h-1zM177 809h1v1h-1zM187 809h1v1h-1zM189 809h3v1h-3zM195 809h2v1h-2zM198 809h1v1h-1zM201 809h2v1h-2zM211 809h1v1h-1zM213 809h1v1h-1zM215 809h1v1h-1zM397 809h1v1h-1zM412 809h1v1h-1zM414 809h1v1h-1zM422 809h1v1h-1zM426 809h2v1h-2zM439 809h1v1h-1zM446 809h1v1h-1zM453 809h1v1h-1zM116 810h1v1h-1zM118 810h1v1h-1zM136 810h2v1h-2zM156 810h1v1h-1zM158 810h1v1h-1zM183 810h1v1h-1zM191 810h1v1h-1zM198 810h2v1h-2zM202 810h1v1h-1zM204 810h1v1h-1zM209 810h1v1h-1zM216 810h1v1h-1zM231 810h1v1h-1zM385 810h1v1h-1zM395 810h1v1h-1zM411 810h1v1h-1zM416 810h2v1h-2zM426 810h1v1h-1zM434 810h1v1h-1zM437 810h1v1h-1zM445 810h1v1h-1zM447 810h1v1h-1zM451 810h1v1h-1zM117 811h1v1h-1zM131 811h2v1h-2zM147 811h1v1h-1zM157 811h1v1h-1zM163 811h1v1h-1zM173 811h1v1h-1zM184 811h1v1h-1zM193 811h1v1h-1zM195 811h1v1h-1zM199 811h1v1h-1zM203 811h1v1h-1zM206 811h1v1h-1zM208 811h1v1h-1zM217 811h1v1h-1zM230 811h1v1h-1zM387 811h1v1h-1zM413 811h1v1h-1zM416 811h1v1h-1zM436 811h1v1h-1zM438 811h2v1h-2zM447 811h1v1h-1zM450 811h1v1h-1zM452 811h1v1h-1zM120 812h1v1h-1zM133 812h1v1h-1zM138 812h1v1h-1zM147 812h1v1h-1zM158 812h2v1h-2zM164 812h1v1h-1zM192 812h1v1h-1zM196 812h1v1h-1zM201 812h1v1h-1zM203 812h1v1h-1zM210 812h1v1h-1zM214 812h1v1h-1zM216 812h1v1h-1zM232 812h1v1h-1zM386 812h2v1h-2zM399 812h1v1h-1zM407 812h3v1h-3zM411 812h1v1h-1zM420 812h1v1h-1zM423 812h1v1h-1zM439 812h1v1h-1zM446 812h1v1h-1zM118 813h1v1h-1zM122 813h1v1h-1zM132 813h1v1h-1zM138 813h1v1h-1zM169 813h1v1h-1zM175 813h1v1h-1zM180 813h1v1h-1zM188 813h1v1h-1zM190 813h1v1h-1zM197 813h1v1h-1zM199 813h1v1h-1zM206 813h1v1h-1zM215 813h1v1h-1zM391 813h1v1h-1zM395 813h1v1h-1zM399 813h1v1h-1zM409 813h1v1h-1zM416 813h1v1h-1zM420 813h1v1h-1zM425 813h2v1h-2zM439 813h1v1h-1zM445 813h1v1h-1zM451 813h1v1h-1zM453 813h1v1h-1zM126 814h2v1h-2zM142 814h1v1h-1zM157 814h1v1h-1zM167 814h2v1h-2zM170 814h1v1h-1zM192 814h1v1h-1zM194 814h1v1h-1zM197 814h1v1h-1zM199 814h1v1h-1zM203 814h1v1h-1zM207 814h1v1h-1zM228 814h1v1h-1zM237 814h1v1h-1zM375 814h1v1h-1zM386 814h1v1h-1zM388 814h1v1h-1zM390 814h1v1h-1zM396 814h1v1h-1zM400 814h3v1h-3zM414 814h2v1h-2zM448 814h1v1h-1zM453 814h2v1h-2zM114 815h1v1h-1zM137 815h1v1h-1zM157 815h1v1h-1zM166 815h1v1h-1zM183 815h2v1h-2zM186 815h1v1h-1zM193 815h1v1h-1zM198 815h1v1h-1zM200 815h1v1h-1zM202 815h2v1h-2zM211 815h1v1h-1zM213 815h1v1h-1zM215 815h1v1h-1zM355 815h1v1h-1zM387 815h1v1h-1zM391 815h1v1h-1zM405 815h1v1h-1zM407 815h1v1h-1zM410 815h1v1h-1zM413 815h2v1h-2zM423 815h1v1h-1zM448 815h1v1h-1zM455 815h1v1h-1zM457 815h1v1h-1zM129 816h1v1h-1zM132 816h1v1h-1zM145 816h1v1h-1zM156 816h1v1h-1zM164 816h1v1h-1zM166 816h2v1h-2zM170 816h1v1h-1zM201 816h1v1h-1zM205 816h1v1h-1zM210 816h1v1h-1zM212 816h1v1h-1zM214 816h1v1h-1zM379 816h1v1h-1zM388 816h1v1h-1zM395 816h2v1h-2zM402 816h1v1h-1zM406 816h2v1h-2zM422 816h2v1h-2zM440 816h1v1h-1zM451 816h1v1h-1zM453 816h3v1h-3zM117 817h5v1h-5zM145 817h2v1h-2zM152 817h2v1h-2zM160 817h1v1h-1zM162 817h1v1h-1zM169 817h1v1h-1zM202 817h1v1h-1zM207 817h1v1h-1zM370 817h1v1h-1zM377 817h1v1h-1zM386 817h1v1h-1zM397 817h1v1h-1zM403 817h1v1h-1zM420 817h2v1h-2zM447 817h1v1h-1zM453 817h1v1h-1zM114 818h1v1h-1zM117 818h1v1h-1zM124 818h1v1h-1zM138 818h2v1h-2zM143 818h1v1h-1zM152 818h1v1h-1zM158 818h1v1h-1zM166 818h1v1h-1zM188 818h1v1h-1zM195 818h1v1h-1zM198 818h1v1h-1zM200 818h1v1h-1zM211 818h1v1h-1zM345 818h1v1h-1zM381 818h1v1h-1zM391 818h1v1h-1zM395 818h1v1h-1zM397 818h1v1h-1zM404 818h1v1h-1zM409 818h2v1h-2zM432 818h1v1h-1zM436 818h1v1h-1zM441 818h1v1h-1zM449 818h2v1h-2zM453 818h1v1h-1zM456 818h1v1h-1zM123 819h2v1h-2zM127 819h2v1h-2zM139 819h1v1h-1zM146 819h2v1h-2zM157 819h1v1h-1zM162 819h1v1h-1zM184 819h1v1h-1zM187 819h1v1h-1zM189 819h1v1h-1zM197 819h1v1h-1zM199 819h1v1h-1zM202 819h1v1h-1zM207 819h1v1h-1zM210 819h1v1h-1zM240 819h1v1h-1zM346 819h1v1h-1zM350 819h1v1h-1zM364 819h1v1h-1zM386 819h1v1h-1zM390 819h1v1h-1zM394 819h1v1h-1zM396 819h1v1h-1zM401 819h1v1h-1zM405 819h1v1h-1zM413 819h3v1h-3zM422 819h1v1h-1zM432 819h1v1h-1zM436 819h1v1h-1zM446 819h1v1h-1zM448 819h1v1h-1zM117 820h1v1h-1zM123 820h1v1h-1zM135 820h1v1h-1zM138 820h1v1h-1zM145 820h1v1h-1zM156 820h1v1h-1zM158 820h1v1h-1zM160 820h1v1h-1zM162 820h1v1h-1zM187 820h1v1h-1zM189 820h1v1h-1zM194 820h1v1h-1zM208 820h2v1h-2zM217 820h1v1h-1zM226 820h1v1h-1zM345 820h1v1h-1zM348 820h1v1h-1zM381 820h2v1h-2zM391 820h1v1h-1zM395 820h1v1h-1zM399 820h1v1h-1zM403 820h1v1h-1zM427 820h1v1h-1zM436 820h1v1h-1zM450 820h1v1h-1zM458 820h1v1h-1zM114 821h1v1h-1zM123 821h2v1h-2zM126 821h2v1h-2zM136 821h1v1h-1zM146 821h1v1h-1zM149 821h1v1h-1zM162 821h1v1h-1zM167 821h1v1h-1zM189 821h1v1h-1zM194 821h2v1h-2zM199 821h2v1h-2zM205 821h1v1h-1zM219 821h1v1h-1zM230 821h1v1h-1zM350 821h2v1h-2zM362 821h1v1h-1zM383 821h2v1h-2zM390 821h1v1h-1zM392 821h1v1h-1zM401 821h1v1h-1zM407 821h1v1h-1zM419 821h1v1h-1zM433 821h1v1h-1zM448 821h2v1h-2zM452 821h1v1h-1zM457 821h1v1h-1zM135 822h1v1h-1zM147 822h1v1h-1zM149 822h1v1h-1zM164 822h1v1h-1zM170 822h1v1h-1zM174 822h1v1h-1zM176 822h1v1h-1zM192 822h1v1h-1zM195 822h1v1h-1zM199 822h1v1h-1zM218 822h1v1h-1zM220 822h1v1h-1zM230 822h1v1h-1zM238 822h1v1h-1zM383 822h2v1h-2zM403 822h1v1h-1zM406 822h1v1h-1zM409 822h2v1h-2zM418 822h1v1h-1zM425 822h1v1h-1zM428 822h1v1h-1zM450 822h1v1h-1zM452 822h1v1h-1zM115 823h4v1h-4zM120 823h2v1h-2zM134 823h2v1h-2zM138 823h1v1h-1zM145 823h2v1h-2zM148 823h1v1h-1zM162 823h1v1h-1zM168 823h1v1h-1zM175 823h1v1h-1zM184 823h1v1h-1zM188 823h1v1h-1zM201 823h2v1h-2zM205 823h1v1h-1zM219 823h1v1h-1zM350 823h2v1h-2zM381 823h2v1h-2zM393 823h1v1h-1zM407 823h1v1h-1zM409 823h1v1h-1zM418 823h2v1h-2zM421 823h1v1h-1zM428 823h1v1h-1zM433 823h1v1h-1zM450 823h2v1h-2zM455 823h1v1h-1zM123 824h1v1h-1zM133 824h1v1h-1zM137 824h2v1h-2zM146 824h1v1h-1zM149 824h1v1h-1zM160 824h3v1h-3zM168 824h2v1h-2zM176 824h1v1h-1zM189 824h2v1h-2zM194 824h2v1h-2zM198 824h1v1h-1zM200 824h1v1h-1zM202 824h1v1h-1zM205 824h1v1h-1zM209 824h1v1h-1zM211 824h1v1h-1zM353 824h1v1h-1zM363 824h1v1h-1zM380 824h1v1h-1zM385 824h1v1h-1zM395 824h1v1h-1zM401 824h1v1h-1zM405 824h1v1h-1zM410 824h1v1h-1zM421 824h1v1h-1zM423 824h1v1h-1zM428 824h1v1h-1zM433 824h1v1h-1zM439 824h1v1h-1zM442 824h1v1h-1zM453 824h1v1h-1zM125 825h1v1h-1zM130 825h1v1h-1zM132 825h2v1h-2zM144 825h1v1h-1zM154 825h1v1h-1zM159 825h1v1h-1zM176 825h1v1h-1zM189 825h1v1h-1zM194 825h1v1h-1zM199 825h1v1h-1zM201 825h1v1h-1zM204 825h1v1h-1zM206 825h1v1h-1zM208 825h1v1h-1zM210 825h1v1h-1zM380 825h1v1h-1zM383 825h3v1h-3zM388 825h1v1h-1zM394 825h1v1h-1zM404 825h1v1h-1zM408 825h1v1h-1zM412 825h1v1h-1zM415 825h1v1h-1zM419 825h1v1h-1zM422 825h1v1h-1zM426 825h2v1h-2zM433 825h3v1h-3zM445 825h2v1h-2zM453 825h1v1h-1zM455 825h1v1h-1zM122 826h1v1h-1zM126 826h2v1h-2zM132 826h1v1h-1zM159 826h1v1h-1zM161 826h1v1h-1zM190 826h1v1h-1zM192 826h2v1h-2zM202 826h1v1h-1zM205 826h1v1h-1zM207 826h1v1h-1zM240 826h1v1h-1zM352 826h2v1h-2zM373 826h1v1h-1zM382 826h1v1h-1zM402 826h1v1h-1zM407 826h1v1h-1zM417 826h2v1h-2zM431 826h1v1h-1zM445 826h1v1h-1zM451 826h1v1h-1zM456 826h1v1h-1zM121 827h1v1h-1zM125 827h1v1h-1zM138 827h2v1h-2zM143 827h1v1h-1zM147 827h1v1h-1zM149 827h1v1h-1zM154 827h2v1h-2zM162 827h1v1h-1zM189 827h1v1h-1zM191 827h1v1h-1zM201 827h1v1h-1zM207 827h1v1h-1zM209 827h1v1h-1zM211 827h1v1h-1zM213 827h1v1h-1zM352 827h1v1h-1zM370 827h1v1h-1zM372 827h1v1h-1zM375 827h1v1h-1zM386 827h1v1h-1zM393 827h1v1h-1zM395 827h1v1h-1zM397 827h2v1h-2zM400 827h1v1h-1zM402 827h1v1h-1zM406 827h1v1h-1zM414 827h1v1h-1zM428 827h1v1h-1zM431 827h1v1h-1zM444 827h2v1h-2zM454 827h2v1h-2zM121 828h1v1h-1zM125 828h1v1h-1zM131 828h1v1h-1zM146 828h1v1h-1zM148 828h1v1h-1zM150 828h1v1h-1zM167 828h1v1h-1zM177 828h1v1h-1zM180 828h1v1h-1zM188 828h1v1h-1zM199 828h1v1h-1zM204 828h1v1h-1zM208 828h1v1h-1zM210 828h1v1h-1zM214 828h2v1h-2zM374 828h1v1h-1zM378 828h1v1h-1zM383 828h1v1h-1zM389 828h3v1h-3zM399 828h1v1h-1zM401 828h1v1h-1zM408 828h1v1h-1zM410 828h1v1h-1zM413 828h1v1h-1zM415 828h1v1h-1zM430 828h1v1h-1zM451 828h1v1h-1zM455 828h1v1h-1zM117 829h1v1h-1zM127 829h1v1h-1zM142 829h1v1h-1zM149 829h2v1h-2zM159 829h2v1h-2zM166 829h1v1h-1zM168 829h1v1h-1zM173 829h1v1h-1zM188 829h1v1h-1zM190 829h1v1h-1zM192 829h2v1h-2zM195 829h1v1h-1zM204 829h1v1h-1zM208 829h1v1h-1zM217 829h1v1h-1zM347 829h1v1h-1zM354 829h1v1h-1zM376 829h2v1h-2zM379 829h1v1h-1zM381 829h1v1h-1zM384 829h1v1h-1zM388 829h1v1h-1zM392 829h2v1h-2zM395 829h1v1h-1zM397 829h1v1h-1zM400 829h1v1h-1zM409 829h2v1h-2zM456 829h1v1h-1zM117 830h1v1h-1zM119 830h1v1h-1zM138 830h1v1h-1zM142 830h1v1h-1zM144 830h1v1h-1zM159 830h2v1h-2zM166 830h1v1h-1zM188 830h2v1h-2zM193 830h1v1h-1zM195 830h1v1h-1zM197 830h1v1h-1zM200 830h1v1h-1zM209 830h1v1h-1zM214 830h1v1h-1zM344 830h1v1h-1zM375 830h1v1h-1zM386 830h1v1h-1zM389 830h1v1h-1zM393 830h1v1h-1zM395 830h1v1h-1zM398 830h1v1h-1zM406 830h1v1h-1zM408 830h1v1h-1zM413 830h1v1h-1zM428 830h1v1h-1zM432 830h1v1h-1zM444 830h1v1h-1zM453 830h1v1h-1zM119 831h1v1h-1zM139 831h1v1h-1zM144 831h1v1h-1zM156 831h1v1h-1zM166 831h3v1h-3zM190 831h2v1h-2zM195 831h1v1h-1zM205 831h1v1h-1zM208 831h1v1h-1zM213 831h1v1h-1zM348 831h2v1h-2zM353 831h1v1h-1zM378 831h1v1h-1zM381 831h1v1h-1zM383 831h1v1h-1zM387 831h1v1h-1zM394 831h1v1h-1zM406 831h1v1h-1zM408 831h1v1h-1zM413 831h1v1h-1zM451 831h1v1h-1zM454 831h1v1h-1zM117 832h2v1h-2zM122 832h1v1h-1zM128 832h1v1h-1zM136 832h1v1h-1zM138 832h1v1h-1zM149 832h2v1h-2zM152 832h2v1h-2zM155 832h1v1h-1zM171 832h1v1h-1zM174 832h1v1h-1zM179 832h1v1h-1zM183 832h1v1h-1zM188 832h2v1h-2zM196 832h1v1h-1zM210 832h2v1h-2zM352 832h2v1h-2zM356 832h1v1h-1zM376 832h1v1h-1zM393 832h1v1h-1zM401 832h1v1h-1zM403 832h1v1h-1zM405 832h1v1h-1zM409 832h1v1h-1zM411 832h1v1h-1zM428 832h1v1h-1zM442 832h1v1h-1zM118 833h1v1h-1zM151 833h1v1h-1zM153 833h1v1h-1zM157 833h1v1h-1zM164 833h1v1h-1zM170 833h2v1h-2zM176 833h1v1h-1zM184 833h1v1h-1zM186 833h1v1h-1zM188 833h1v1h-1zM193 833h2v1h-2zM204 833h1v1h-1zM209 833h1v1h-1zM212 833h1v1h-1zM231 833h1v1h-1zM349 833h2v1h-2zM352 833h1v1h-1zM357 833h1v1h-1zM362 833h1v1h-1zM365 833h1v1h-1zM370 833h1v1h-1zM372 833h1v1h-1zM379 833h1v1h-1zM387 833h1v1h-1zM392 833h1v1h-1zM399 833h1v1h-1zM405 833h3v1h-3zM420 833h1v1h-1zM450 833h1v1h-1zM453 833h1v1h-1zM119 834h1v1h-1zM134 834h1v1h-1zM141 834h1v1h-1zM143 834h1v1h-1zM150 834h1v1h-1zM152 834h1v1h-1zM175 834h1v1h-1zM177 834h1v1h-1zM186 834h1v1h-1zM191 834h1v1h-1zM194 834h1v1h-1zM197 834h1v1h-1zM199 834h1v1h-1zM208 834h1v1h-1zM211 834h1v1h-1zM220 834h1v1h-1zM346 834h1v1h-1zM349 834h1v1h-1zM351 834h1v1h-1zM356 834h2v1h-2zM368 834h1v1h-1zM373 834h1v1h-1zM378 834h1v1h-1zM380 834h1v1h-1zM396 834h1v1h-1zM400 834h1v1h-1zM402 834h1v1h-1zM413 834h4v1h-4zM117 835h1v1h-1zM132 835h1v1h-1zM143 835h1v1h-1zM177 835h3v1h-3zM182 835h1v1h-1zM187 835h1v1h-1zM195 835h1v1h-1zM197 835h1v1h-1zM210 835h1v1h-1zM354 835h1v1h-1zM356 835h1v1h-1zM359 835h1v1h-1zM364 835h2v1h-2zM378 835h1v1h-1zM380 835h1v1h-1zM385 835h2v1h-2zM393 835h2v1h-2zM397 835h1v1h-1zM401 835h1v1h-1zM405 835h2v1h-2zM408 835h1v1h-1zM412 835h1v1h-1zM421 835h1v1h-1zM430 835h2v1h-2zM446 835h1v1h-1zM451 835h1v1h-1zM116 836h1v1h-1zM119 836h1v1h-1zM124 836h1v1h-1zM147 836h1v1h-1zM174 836h1v1h-1zM183 836h1v1h-1zM186 836h1v1h-1zM209 836h1v1h-1zM234 836h1v1h-1zM347 836h1v1h-1zM358 836h2v1h-2zM361 836h1v1h-1zM363 836h1v1h-1zM368 836h1v1h-1zM379 836h1v1h-1zM382 836h1v1h-1zM399 836h1v1h-1zM409 836h1v1h-1zM417 836h1v1h-1zM419 836h1v1h-1zM422 836h1v1h-1zM424 836h3v1h-3zM429 836h1v1h-1zM439 836h1v1h-1zM445 836h1v1h-1zM449 836h1v1h-1zM452 836h1v1h-1zM120 837h1v1h-1zM127 837h1v1h-1zM133 837h1v1h-1zM159 837h1v1h-1zM164 837h3v1h-3zM171 837h1v1h-1zM174 837h1v1h-1zM179 837h1v1h-1zM182 837h1v1h-1zM187 837h1v1h-1zM190 837h1v1h-1zM199 837h1v1h-1zM210 837h1v1h-1zM221 837h1v1h-1zM353 837h1v1h-1zM357 837h1v1h-1zM362 837h1v1h-1zM367 837h1v1h-1zM378 837h1v1h-1zM381 837h1v1h-1zM383 837h1v1h-1zM387 837h1v1h-1zM390 837h1v1h-1zM394 837h2v1h-2zM398 837h2v1h-2zM401 837h1v1h-1zM405 837h2v1h-2zM409 837h1v1h-1zM412 837h1v1h-1zM417 837h2v1h-2zM445 837h1v1h-1zM447 837h2v1h-2zM121 838h1v1h-1zM126 838h1v1h-1zM146 838h1v1h-1zM162 838h2v1h-2zM166 838h2v1h-2zM175 838h1v1h-1zM181 838h1v1h-1zM186 838h1v1h-1zM200 838h1v1h-1zM209 838h1v1h-1zM358 838h1v1h-1zM368 838h1v1h-1zM374 838h2v1h-2zM383 838h1v1h-1zM386 838h1v1h-1zM388 838h1v1h-1zM396 838h1v1h-1zM402 838h1v1h-1zM411 838h1v1h-1zM423 838h1v1h-1zM445 838h1v1h-1zM447 838h1v1h-1zM451 838h1v1h-1zM118 839h1v1h-1zM121 839h1v1h-1zM126 839h2v1h-2zM141 839h1v1h-1zM146 839h1v1h-1zM156 839h1v1h-1zM160 839h1v1h-1zM167 839h1v1h-1zM169 839h2v1h-2zM174 839h2v1h-2zM180 839h1v1h-1zM185 839h1v1h-1zM187 839h1v1h-1zM190 839h1v1h-1zM192 839h1v1h-1zM210 839h2v1h-2zM346 839h2v1h-2zM360 839h1v1h-1zM388 839h1v1h-1zM392 839h1v1h-1zM397 839h1v1h-1zM400 839h1v1h-1zM405 839h1v1h-1zM410 839h1v1h-1zM438 839h1v1h-1zM157 840h1v1h-1zM193 840h2v1h-2zM389 840h1v1h-1zM397 840h1v1h-1zM407 840h2v1h-2zM411 840h1v1h-1zM416 840h1v1h-1zM118 841h1v1h-1zM121 841h1v1h-1zM135 841h1v1h-1zM186 841h1v1h-1zM189 841h1v1h-1zM202 841h1v1h-1zM205 841h1v1h-1zM211 841h1v1h-1zM214 841h1v1h-1zM121 842h1v1h-1zM162 842h1v1h-1zM169 842h1v1h-1zM196 842h2v1h-2zM200 842h2v1h-2zM203 842h1v1h-1z" fill="#aaa"/>
<path d="M108.6 415.7L266.9 415L268.1 571.5L109.6 571.9ZM151.6 415.5L152.6 571.8M109.3 518.6L267.7 518.1M335.4 412.5L494.6 412.3L495.8 570.2L337.3 569.6ZM378.9 412.4L380.6 569.8M336.7 516.8L495.4 517.1M109.8 687.7L268.7 686.4L269.6 845.4L111.5 845.8ZM153.1 687.3L154.6 845.7M110.9 792.5L269.3 791.8M339.8 686.4L496.5 686.4L497.7 844.5L341.7 843.1ZM381.8 686.4L383.5 843.5M341.1 790.8L497.3 791.8" stroke="#000" stroke-width="1.5" fill="none"/>
<path d="M104.4 571.9H109.6M109.6 571.9V577.1M106.7 560.1H109.5M121.5 571.9V574.7M106.7 553.3H109.5M128.5 571.9V574.7M106.6 548.4H109.4M133.5 571.8V574.6M106.6 544.6H109.4M137.3 571.8V574.6M106.6 541.5H109.4M140.4 571.8V574.6M106.6 538.9H109.4M143.1 571.8V574.6M106.6 536.6H109.4M145.4 571.8V574.6M106.6 534.6H109.4M147.4 571.8V574.6M104.1 532.9H109.3M149.2 571.8V577M106.5 521.1H109.3M161.2 571.8V574.6M106.4 514.2H109.2M168.1 571.8V574.6M106.4 509.3H109.2M173.1 571.7V574.5M106.4 505.6H109.2M176.9 571.7V574.5M106.4 502.5H109.2M180.1 571.7V574.5M106.3 499.8H109.1M182.7 571.7V574.5M106.3 497.6H109.1M185 571.7V574.5M106.3 495.6H109.1M187 571.7V574.5M103.9 493.8H109.1M188.9 571.7V576.9M106.2 482H109M200.8 571.7V574.5M106.2 475.2H109M207.8 571.7V574.5M106.1 470.3H108.9M212.7 571.6V574.4M106.1 466.5H108.9M216.5 571.6V574.4M106.1 463.4H108.9M219.7 571.6V574.4M106.1 460.8H108.9M222.3 571.6V574.4M106.1 458.5H108.9M224.6 571.6V574.4M106.1 456.5H108.9M226.7 571.6V574.4M103.6 454.8H108.8M228.5 571.6V576.8M106 443H108.8M240.4 571.6V574.4M105.9 436.1H108.7M247.4 571.6V574.4M105.9 431.2H108.7M252.3 571.5V574.3M105.9 427.5H108.7M256.2 571.5V574.3M105.9 424.4H108.7M259.3 571.5V574.3M105.8 421.7H108.6M262 571.5V574.3M105.8 419.5H108.6M264.3 571.5V574.3M105.8 417.5H108.6M266.3 571.5V574.3M103.4 415.7H108.6M268.1 571.5V576.7M332.1 569.6H337.3M337.3 569.6V574.8M334.4 557.8H337.2M349.2 569.6V572.4M334.3 550.9H337.1M356.2 569.7V572.5M334.2 546H337M361.2 569.7V572.5M334.2 542.1H337M365 569.7V572.5M334.1 539H336.9M368.1 569.7V572.5M334.1 536.4H336.9M370.8 569.7V572.5M334.1 534.1H336.9M373.1 569.7V572.5M334 532.1H336.8M375.1 569.7V572.5M331.6 530.3H336.8M376.9 569.8V575M333.9 518.5H336.7M388.9 569.8V572.6M333.8 511.6H336.6M395.8 569.8V572.6M333.7 506.7H336.5M400.8 569.8V572.6M333.7 502.9H336.5M404.6 569.9V572.7M333.7 499.8H336.5M407.8 569.9V572.7M333.6 497.1H336.4M410.4 569.9V572.7M333.6 494.9H336.4M412.7 569.9V572.7M333.6 492.8H336.4M414.7 569.9V572.7M331.2 491.1H336.4M416.6 569.9V575.1M333.4 479.2H336.2M428.5 569.9V572.7M333.3 472.3H336.1M435.5 570V572.8M333.3 467.4H336.1M440.4 570V572.8M333.2 463.6H336M444.2 570V572.8M333.2 460.5H336M447.4 570V572.8M333.1 457.9H335.9M450 570V572.8M333.1 455.6H335.9M452.3 570V572.8M333.1 453.6H335.9M454.4 570V572.8M330.7 451.8H335.9M456.2 570.1V575.3M332.9 440H335.7M468.1 570.1V572.9M332.8 433H335.6M475.1 570.1V572.9M332.8 428.1H335.6M480 570.1V572.9M332.7 424.3H335.5M483.9 570.2V573M332.7 421.2H335.5M487 570.2V573M332.7 418.6H335.5M489.7 570.2V573M332.6 416.3H335.4M492 570.2V573M332.6 414.3H335.4M494 570.2V573M330.2 412.5H335.4M495.8 570.2V575.4M106.3 845.8H111.5M111.5 845.8V851M108.6 833.9H111.4M123.4 845.8V848.6M108.5 826.9H111.3M130.4 845.8V848.6M108.4 822H111.2M135.3 845.7V848.5M108.4 818.2H111.2M139.1 845.7V848.5M108.4 815H111.2M142.3 845.7V848.5M108.3 812.4H111.1M144.9 845.7V848.5M108.3 810.1H111.1M147.2 845.7V848.5M108.3 808.1H111.1M149.2 845.7V848.5M105.9 806.3H111.1M151 845.7V850.9M108.1 794.4H110.9M162.9 845.7V848.5M108.1 787.4H110.9M169.9 845.7V848.5M108 782.5H110.8M174.8 845.6V848.4M108 778.6H110.8M178.7 845.6V848.4M107.9 775.5H110.7M181.8 845.6V848.4M107.9 772.9H110.7M184.4 845.6V848.4M107.9 770.6H110.7M186.7 845.6V848.4M107.9 768.6H110.7M188.7 845.6V848.4M105.5 766.8H110.7M190.6 845.6V850.8M107.7 754.9H110.5M202.4 845.6V848.4M107.6 747.9H110.4M209.4 845.6V848.4M107.6 743H110.4M214.3 845.5V848.3M107.6 739.1H110.4M218.2 845.5V848.3M107.5 736H110.3M221.3 845.5V848.3M107.5 733.3H110.3M224 845.5V848.3M107.5 731.1H110.3M226.2 845.5V848.3M107.4 729H110.2M228.3 845.5V848.3M105 727.2H110.2M230.1 845.5V850.7M107.3 715.3H110.1M242 845.5V848.3M107.2 708.4H110M248.9 845.5V848.3M107.2 703.4H110M253.9 845.4V848.2M107.1 699.6H109.9M257.7 845.4V848.2M107.1 696.5H109.9M260.8 845.4V848.2M107.1 693.8H109.9M263.5 845.4V848.2M107 691.5H109.8M265.8 845.4V848.2M107 689.5H109.8M267.8 845.4V848.2M104.6 687.7H109.8M269.6 845.4V850.6M336.5 843.1H341.7M341.7 843.1V848.3M338.8 831.3H341.6M353.4 843.2V846M338.7 824.4H341.5M360.3 843.3V846.1M338.6 819.5H341.4M365.2 843.3V846.1M338.6 815.7H341.4M369 843.3V846.1M338.5 812.6H341.3M372 843.4V846.2M338.5 810H341.3M374.7 843.4V846.2M338.5 807.7H341.3M376.9 843.4V846.2M338.4 805.7H341.2M378.9 843.4V846.2M336 803.9H341.2M380.7 843.5V848.7M338.3 792.1H341.1M392.4 843.6V846.4M338.2 785.2H341M399.3 843.6V846.4M338.1 780.3H340.9M404.2 843.7V846.5M338.1 776.5H340.9M408 843.7V846.5M338.1 773.4H340.9M411 843.7V846.5M338 770.8H340.8M413.7 843.7V846.5M338 768.5H340.8M415.9 843.8V846.6M338 766.5H340.8M417.9 843.8V846.6M335.6 764.8H340.8M419.7 843.8V849M337.8 753H340.6M431.4 843.9V846.7M337.7 746.1H340.5M438.3 844V846.8M337.7 741.2H340.5M443.2 844V846.8M337.6 737.4H340.4M447 844V846.8M337.6 734.3H340.4M450 844.1V846.9M337.5 731.6H340.3M452.7 844.1V846.9M337.5 729.4H340.3M454.9 844.1V846.9M337.5 727.4H340.3M456.9 844.1V846.9M335.1 725.6H340.3M458.7 844.1V849.4M337.3 713.8H340.1M470.4 844.3V847.1M337.2 706.9H340M477.3 844.3V847.1M337.2 702H340M482.2 844.4V847.2M337.1 698.2H339.9M486 844.4V847.2M337.1 695.1H339.9M489 844.4V847.2M337.1 692.5H339.9M491.7 844.4V847.2M337 690.2H339.8M493.9 844.5V847.3M337 688.2H339.8M495.9 844.5V847.3M334.6 686.4H339.8M497.7 844.5V849.7" stroke="#111" stroke-width="1.2" fill="none"/>
</svg></body></html>
